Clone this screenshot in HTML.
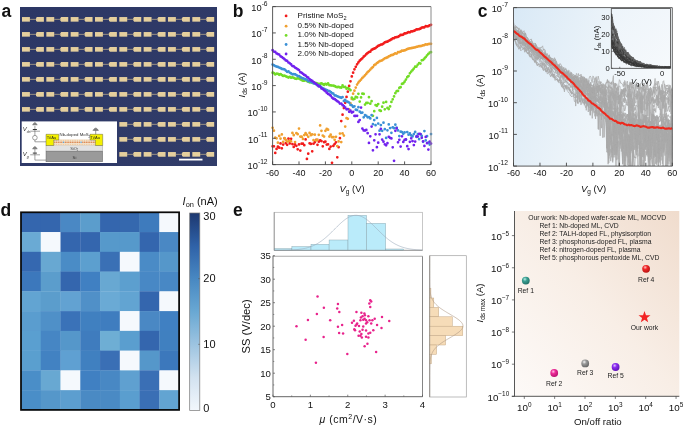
<!DOCTYPE html>
<html><head><meta charset="utf-8"><style>
html,body{margin:0;padding:0;background:#fff;width:685px;height:427px;overflow:hidden}
svg{display:block;font-family:"Liberation Sans", sans-serif;will-change:transform}
</style></head><body>
<svg width="685" height="427" viewBox="0 0 685 427" font-family='"Liberation Sans", sans-serif' fill="#111">
<rect width="685" height="427" fill="#fff"/>
<text x="1.5" y="16.5" font-size="17.5" font-weight="bold">a</text>
<defs><linearGradient id="ga" x1="0" y1="0" x2="1" y2="1"><stop offset="0" stop-color="#2c3765"/><stop offset="1" stop-color="#313c69"/></linearGradient></defs>
<rect x="20" y="7" width="197" height="159" fill="url(#ga)"/>
<line x1="29.9" y1="19.35" x2="36" y2="19.35" stroke="#c9b68c" stroke-width="0.7"/>
<rect x="22" y="17.05" width="7.9" height="4.6" fill="#e5cf9d"/>
<path d="M36.8 17.05H43.9V21.65H36.8L36 20.35V18.35Z" fill="#e5cf9d"/>
<line x1="54.23" y1="19.35" x2="60.33" y2="19.35" stroke="#c9b68c" stroke-width="0.7"/>
<rect x="46.33" y="17.05" width="7.9" height="4.6" fill="#e5cf9d"/>
<path d="M61.13 17.05H68.23V21.65H61.13L60.33 20.35V18.35Z" fill="#e5cf9d"/>
<line x1="78.56" y1="19.35" x2="84.66" y2="19.35" stroke="#c9b68c" stroke-width="0.7"/>
<rect x="70.66" y="17.05" width="7.9" height="4.6" fill="#e5cf9d"/>
<path d="M85.46 17.05H92.56V21.65H85.46L84.66 20.35V18.35Z" fill="#e5cf9d"/>
<line x1="102.89" y1="19.35" x2="108.99" y2="19.35" stroke="#c9b68c" stroke-width="0.7"/>
<rect x="94.99" y="17.05" width="7.9" height="4.6" fill="#e5cf9d"/>
<path d="M109.79 17.05H116.89V21.65H109.79L108.99 20.35V18.35Z" fill="#e5cf9d"/>
<line x1="127.22" y1="19.35" x2="133.32" y2="19.35" stroke="#c9b68c" stroke-width="0.7"/>
<rect x="119.32" y="17.05" width="7.9" height="4.6" fill="#e5cf9d"/>
<path d="M134.12 17.05H141.22V21.65H134.12L133.32 20.35V18.35Z" fill="#e5cf9d"/>
<line x1="151.55" y1="19.35" x2="157.65" y2="19.35" stroke="#c9b68c" stroke-width="0.7"/>
<rect x="143.65" y="17.05" width="7.9" height="4.6" fill="#e5cf9d"/>
<path d="M158.45 17.05H165.55V21.65H158.45L157.65 20.35V18.35Z" fill="#e5cf9d"/>
<line x1="175.88" y1="19.35" x2="181.98" y2="19.35" stroke="#c9b68c" stroke-width="0.7"/>
<rect x="167.98" y="17.05" width="7.9" height="4.6" fill="#e5cf9d"/>
<path d="M182.78 17.05H189.88V21.65H182.78L181.98 20.35V18.35Z" fill="#e5cf9d"/>
<line x1="200.21" y1="19.35" x2="206.31" y2="19.35" stroke="#c9b68c" stroke-width="0.7"/>
<rect x="192.31" y="17.05" width="7.9" height="4.6" fill="#e5cf9d"/>
<path d="M207.11 17.05H214.21V21.65H207.11L206.31 20.35V18.35Z" fill="#e5cf9d"/>
<line x1="29.9" y1="34.35" x2="36" y2="34.35" stroke="#c9b68c" stroke-width="0.7"/>
<rect x="22" y="32.05" width="7.9" height="4.6" fill="#e5cf9d"/>
<path d="M36.8 32.05H43.9V36.65H36.8L36 35.35V33.35Z" fill="#e5cf9d"/>
<line x1="54.23" y1="34.35" x2="60.33" y2="34.35" stroke="#c9b68c" stroke-width="0.7"/>
<rect x="46.33" y="32.05" width="7.9" height="4.6" fill="#e5cf9d"/>
<path d="M61.13 32.05H68.23V36.65H61.13L60.33 35.35V33.35Z" fill="#e5cf9d"/>
<line x1="78.56" y1="34.35" x2="84.66" y2="34.35" stroke="#c9b68c" stroke-width="0.7"/>
<rect x="70.66" y="32.05" width="7.9" height="4.6" fill="#e5cf9d"/>
<path d="M85.46 32.05H92.56V36.65H85.46L84.66 35.35V33.35Z" fill="#e5cf9d"/>
<line x1="102.89" y1="34.35" x2="108.99" y2="34.35" stroke="#c9b68c" stroke-width="0.7"/>
<rect x="94.99" y="32.05" width="7.9" height="4.6" fill="#e5cf9d"/>
<path d="M109.79 32.05H116.89V36.65H109.79L108.99 35.35V33.35Z" fill="#e5cf9d"/>
<line x1="127.22" y1="34.35" x2="133.32" y2="34.35" stroke="#c9b68c" stroke-width="0.7"/>
<rect x="119.32" y="32.05" width="7.9" height="4.6" fill="#e5cf9d"/>
<path d="M134.12 32.05H141.22V36.65H134.12L133.32 35.35V33.35Z" fill="#e5cf9d"/>
<line x1="151.55" y1="34.35" x2="157.65" y2="34.35" stroke="#c9b68c" stroke-width="0.7"/>
<rect x="143.65" y="32.05" width="7.9" height="4.6" fill="#e5cf9d"/>
<path d="M158.45 32.05H165.55V36.65H158.45L157.65 35.35V33.35Z" fill="#e5cf9d"/>
<line x1="175.88" y1="34.35" x2="181.98" y2="34.35" stroke="#c9b68c" stroke-width="0.7"/>
<rect x="167.98" y="32.05" width="7.9" height="4.6" fill="#e5cf9d"/>
<path d="M182.78 32.05H189.88V36.65H182.78L181.98 35.35V33.35Z" fill="#e5cf9d"/>
<line x1="200.21" y1="34.35" x2="206.31" y2="34.35" stroke="#c9b68c" stroke-width="0.7"/>
<rect x="192.31" y="32.05" width="7.9" height="4.6" fill="#e5cf9d"/>
<path d="M207.11 32.05H214.21V36.65H207.11L206.31 35.35V33.35Z" fill="#e5cf9d"/>
<line x1="29.9" y1="49.35" x2="36" y2="49.35" stroke="#c9b68c" stroke-width="0.7"/>
<rect x="22" y="47.05" width="7.9" height="4.6" fill="#e5cf9d"/>
<path d="M36.8 47.05H43.9V51.65H36.8L36 50.35V48.35Z" fill="#e5cf9d"/>
<line x1="54.23" y1="49.35" x2="60.33" y2="49.35" stroke="#c9b68c" stroke-width="0.7"/>
<rect x="46.33" y="47.05" width="7.9" height="4.6" fill="#e5cf9d"/>
<path d="M61.13 47.05H68.23V51.65H61.13L60.33 50.35V48.35Z" fill="#e5cf9d"/>
<line x1="78.56" y1="49.35" x2="84.66" y2="49.35" stroke="#c9b68c" stroke-width="0.7"/>
<rect x="70.66" y="47.05" width="7.9" height="4.6" fill="#e5cf9d"/>
<path d="M85.46 47.05H92.56V51.65H85.46L84.66 50.35V48.35Z" fill="#e5cf9d"/>
<line x1="102.89" y1="49.35" x2="108.99" y2="49.35" stroke="#c9b68c" stroke-width="0.7"/>
<rect x="94.99" y="47.05" width="7.9" height="4.6" fill="#e5cf9d"/>
<path d="M109.79 47.05H116.89V51.65H109.79L108.99 50.35V48.35Z" fill="#e5cf9d"/>
<line x1="127.22" y1="49.35" x2="133.32" y2="49.35" stroke="#c9b68c" stroke-width="0.7"/>
<rect x="119.32" y="47.05" width="7.9" height="4.6" fill="#e5cf9d"/>
<path d="M134.12 47.05H141.22V51.65H134.12L133.32 50.35V48.35Z" fill="#e5cf9d"/>
<line x1="151.55" y1="49.35" x2="157.65" y2="49.35" stroke="#c9b68c" stroke-width="0.7"/>
<rect x="143.65" y="47.05" width="7.9" height="4.6" fill="#e5cf9d"/>
<path d="M158.45 47.05H165.55V51.65H158.45L157.65 50.35V48.35Z" fill="#e5cf9d"/>
<line x1="175.88" y1="49.35" x2="181.98" y2="49.35" stroke="#c9b68c" stroke-width="0.7"/>
<rect x="167.98" y="47.05" width="7.9" height="4.6" fill="#e5cf9d"/>
<path d="M182.78 47.05H189.88V51.65H182.78L181.98 50.35V48.35Z" fill="#e5cf9d"/>
<line x1="200.21" y1="49.35" x2="206.31" y2="49.35" stroke="#c9b68c" stroke-width="0.7"/>
<rect x="192.31" y="47.05" width="7.9" height="4.6" fill="#e5cf9d"/>
<path d="M207.11 47.05H214.21V51.65H207.11L206.31 50.35V48.35Z" fill="#e5cf9d"/>
<line x1="29.9" y1="64.35" x2="36" y2="64.35" stroke="#c9b68c" stroke-width="0.7"/>
<rect x="22" y="62.05" width="7.9" height="4.6" fill="#e5cf9d"/>
<path d="M36.8 62.05H43.9V66.65H36.8L36 65.35V63.35Z" fill="#e5cf9d"/>
<line x1="54.23" y1="64.35" x2="60.33" y2="64.35" stroke="#c9b68c" stroke-width="0.7"/>
<rect x="46.33" y="62.05" width="7.9" height="4.6" fill="#e5cf9d"/>
<path d="M61.13 62.05H68.23V66.65H61.13L60.33 65.35V63.35Z" fill="#e5cf9d"/>
<line x1="78.56" y1="64.35" x2="84.66" y2="64.35" stroke="#c9b68c" stroke-width="0.7"/>
<rect x="70.66" y="62.05" width="7.9" height="4.6" fill="#e5cf9d"/>
<path d="M85.46 62.05H92.56V66.65H85.46L84.66 65.35V63.35Z" fill="#e5cf9d"/>
<line x1="102.89" y1="64.35" x2="108.99" y2="64.35" stroke="#c9b68c" stroke-width="0.7"/>
<rect x="94.99" y="62.05" width="7.9" height="4.6" fill="#e5cf9d"/>
<path d="M109.79 62.05H116.89V66.65H109.79L108.99 65.35V63.35Z" fill="#e5cf9d"/>
<line x1="127.22" y1="64.35" x2="133.32" y2="64.35" stroke="#c9b68c" stroke-width="0.7"/>
<rect x="119.32" y="62.05" width="7.9" height="4.6" fill="#e5cf9d"/>
<path d="M134.12 62.05H141.22V66.65H134.12L133.32 65.35V63.35Z" fill="#e5cf9d"/>
<line x1="151.55" y1="64.35" x2="157.65" y2="64.35" stroke="#c9b68c" stroke-width="0.7"/>
<rect x="143.65" y="62.05" width="7.9" height="4.6" fill="#e5cf9d"/>
<path d="M158.45 62.05H165.55V66.65H158.45L157.65 65.35V63.35Z" fill="#e5cf9d"/>
<line x1="175.88" y1="64.35" x2="181.98" y2="64.35" stroke="#c9b68c" stroke-width="0.7"/>
<rect x="167.98" y="62.05" width="7.9" height="4.6" fill="#e5cf9d"/>
<path d="M182.78 62.05H189.88V66.65H182.78L181.98 65.35V63.35Z" fill="#e5cf9d"/>
<line x1="200.21" y1="64.35" x2="206.31" y2="64.35" stroke="#c9b68c" stroke-width="0.7"/>
<rect x="192.31" y="62.05" width="7.9" height="4.6" fill="#e5cf9d"/>
<path d="M207.11 62.05H214.21V66.65H207.11L206.31 65.35V63.35Z" fill="#e5cf9d"/>
<line x1="29.9" y1="79.35" x2="36" y2="79.35" stroke="#c9b68c" stroke-width="0.7"/>
<rect x="22" y="77.05" width="7.9" height="4.6" fill="#e5cf9d"/>
<path d="M36.8 77.05H43.9V81.65H36.8L36 80.35V78.35Z" fill="#e5cf9d"/>
<line x1="54.23" y1="79.35" x2="60.33" y2="79.35" stroke="#c9b68c" stroke-width="0.7"/>
<rect x="46.33" y="77.05" width="7.9" height="4.6" fill="#e5cf9d"/>
<path d="M61.13 77.05H68.23V81.65H61.13L60.33 80.35V78.35Z" fill="#e5cf9d"/>
<line x1="78.56" y1="79.35" x2="84.66" y2="79.35" stroke="#c9b68c" stroke-width="0.7"/>
<rect x="70.66" y="77.05" width="7.9" height="4.6" fill="#e5cf9d"/>
<path d="M85.46 77.05H92.56V81.65H85.46L84.66 80.35V78.35Z" fill="#e5cf9d"/>
<line x1="102.89" y1="79.35" x2="108.99" y2="79.35" stroke="#c9b68c" stroke-width="0.7"/>
<rect x="94.99" y="77.05" width="7.9" height="4.6" fill="#e5cf9d"/>
<path d="M109.79 77.05H116.89V81.65H109.79L108.99 80.35V78.35Z" fill="#e5cf9d"/>
<line x1="127.22" y1="79.35" x2="133.32" y2="79.35" stroke="#c9b68c" stroke-width="0.7"/>
<rect x="119.32" y="77.05" width="7.9" height="4.6" fill="#e5cf9d"/>
<path d="M134.12 77.05H141.22V81.65H134.12L133.32 80.35V78.35Z" fill="#e5cf9d"/>
<line x1="151.55" y1="79.35" x2="157.65" y2="79.35" stroke="#c9b68c" stroke-width="0.7"/>
<rect x="143.65" y="77.05" width="7.9" height="4.6" fill="#e5cf9d"/>
<path d="M158.45 77.05H165.55V81.65H158.45L157.65 80.35V78.35Z" fill="#e5cf9d"/>
<line x1="175.88" y1="79.35" x2="181.98" y2="79.35" stroke="#c9b68c" stroke-width="0.7"/>
<rect x="167.98" y="77.05" width="7.9" height="4.6" fill="#e5cf9d"/>
<path d="M182.78 77.05H189.88V81.65H182.78L181.98 80.35V78.35Z" fill="#e5cf9d"/>
<line x1="200.21" y1="79.35" x2="206.31" y2="79.35" stroke="#c9b68c" stroke-width="0.7"/>
<rect x="192.31" y="77.05" width="7.9" height="4.6" fill="#e5cf9d"/>
<path d="M207.11 77.05H214.21V81.65H207.11L206.31 80.35V78.35Z" fill="#e5cf9d"/>
<line x1="29.9" y1="94.35" x2="36" y2="94.35" stroke="#c9b68c" stroke-width="0.7"/>
<rect x="22" y="92.05" width="7.9" height="4.6" fill="#e5cf9d"/>
<path d="M36.8 92.05H43.9V96.65H36.8L36 95.35V93.35Z" fill="#e5cf9d"/>
<line x1="54.23" y1="94.35" x2="60.33" y2="94.35" stroke="#c9b68c" stroke-width="0.7"/>
<rect x="46.33" y="92.05" width="7.9" height="4.6" fill="#e5cf9d"/>
<path d="M61.13 92.05H68.23V96.65H61.13L60.33 95.35V93.35Z" fill="#e5cf9d"/>
<line x1="78.56" y1="94.35" x2="84.66" y2="94.35" stroke="#c9b68c" stroke-width="0.7"/>
<rect x="70.66" y="92.05" width="7.9" height="4.6" fill="#e5cf9d"/>
<path d="M85.46 92.05H92.56V96.65H85.46L84.66 95.35V93.35Z" fill="#e5cf9d"/>
<line x1="102.89" y1="94.35" x2="108.99" y2="94.35" stroke="#c9b68c" stroke-width="0.7"/>
<rect x="94.99" y="92.05" width="7.9" height="4.6" fill="#e5cf9d"/>
<path d="M109.79 92.05H116.89V96.65H109.79L108.99 95.35V93.35Z" fill="#e5cf9d"/>
<line x1="127.22" y1="94.35" x2="133.32" y2="94.35" stroke="#c9b68c" stroke-width="0.7"/>
<rect x="119.32" y="92.05" width="7.9" height="4.6" fill="#e5cf9d"/>
<path d="M134.12 92.05H141.22V96.65H134.12L133.32 95.35V93.35Z" fill="#e5cf9d"/>
<line x1="151.55" y1="94.35" x2="157.65" y2="94.35" stroke="#c9b68c" stroke-width="0.7"/>
<rect x="143.65" y="92.05" width="7.9" height="4.6" fill="#e5cf9d"/>
<path d="M158.45 92.05H165.55V96.65H158.45L157.65 95.35V93.35Z" fill="#e5cf9d"/>
<line x1="175.88" y1="94.35" x2="181.98" y2="94.35" stroke="#c9b68c" stroke-width="0.7"/>
<rect x="167.98" y="92.05" width="7.9" height="4.6" fill="#e5cf9d"/>
<path d="M182.78 92.05H189.88V96.65H182.78L181.98 95.35V93.35Z" fill="#e5cf9d"/>
<line x1="200.21" y1="94.35" x2="206.31" y2="94.35" stroke="#c9b68c" stroke-width="0.7"/>
<rect x="192.31" y="92.05" width="7.9" height="4.6" fill="#e5cf9d"/>
<path d="M207.11 92.05H214.21V96.65H207.11L206.31 95.35V93.35Z" fill="#e5cf9d"/>
<line x1="29.9" y1="109.35" x2="36" y2="109.35" stroke="#c9b68c" stroke-width="0.7"/>
<rect x="22" y="107.05" width="7.9" height="4.6" fill="#e5cf9d"/>
<path d="M36.8 107.05H43.9V111.65H36.8L36 110.35V108.35Z" fill="#e5cf9d"/>
<line x1="54.23" y1="109.35" x2="60.33" y2="109.35" stroke="#c9b68c" stroke-width="0.7"/>
<rect x="46.33" y="107.05" width="7.9" height="4.6" fill="#e5cf9d"/>
<path d="M61.13 107.05H68.23V111.65H61.13L60.33 110.35V108.35Z" fill="#e5cf9d"/>
<line x1="78.56" y1="109.35" x2="84.66" y2="109.35" stroke="#c9b68c" stroke-width="0.7"/>
<rect x="70.66" y="107.05" width="7.9" height="4.6" fill="#e5cf9d"/>
<path d="M85.46 107.05H92.56V111.65H85.46L84.66 110.35V108.35Z" fill="#e5cf9d"/>
<line x1="102.89" y1="109.35" x2="108.99" y2="109.35" stroke="#c9b68c" stroke-width="0.7"/>
<rect x="94.99" y="107.05" width="7.9" height="4.6" fill="#e5cf9d"/>
<path d="M109.79 107.05H116.89V111.65H109.79L108.99 110.35V108.35Z" fill="#e5cf9d"/>
<line x1="127.22" y1="109.35" x2="133.32" y2="109.35" stroke="#c9b68c" stroke-width="0.7"/>
<rect x="119.32" y="107.05" width="7.9" height="4.6" fill="#e5cf9d"/>
<path d="M134.12 107.05H141.22V111.65H134.12L133.32 110.35V108.35Z" fill="#e5cf9d"/>
<line x1="151.55" y1="109.35" x2="157.65" y2="109.35" stroke="#c9b68c" stroke-width="0.7"/>
<rect x="143.65" y="107.05" width="7.9" height="4.6" fill="#e5cf9d"/>
<path d="M158.45 107.05H165.55V111.65H158.45L157.65 110.35V108.35Z" fill="#e5cf9d"/>
<line x1="175.88" y1="109.35" x2="181.98" y2="109.35" stroke="#c9b68c" stroke-width="0.7"/>
<rect x="167.98" y="107.05" width="7.9" height="4.6" fill="#e5cf9d"/>
<path d="M182.78 107.05H189.88V111.65H182.78L181.98 110.35V108.35Z" fill="#e5cf9d"/>
<line x1="200.21" y1="109.35" x2="206.31" y2="109.35" stroke="#c9b68c" stroke-width="0.7"/>
<rect x="192.31" y="107.05" width="7.9" height="4.6" fill="#e5cf9d"/>
<path d="M207.11 107.05H214.21V111.65H207.11L206.31 110.35V108.35Z" fill="#e5cf9d"/>
<line x1="127.22" y1="124.35" x2="133.32" y2="124.35" stroke="#c9b68c" stroke-width="0.7"/>
<rect x="119.32" y="122.05" width="7.9" height="4.6" fill="#e5cf9d"/>
<path d="M134.12 122.05H141.22V126.65H134.12L133.32 125.35V123.35Z" fill="#e5cf9d"/>
<line x1="151.55" y1="124.35" x2="157.65" y2="124.35" stroke="#c9b68c" stroke-width="0.7"/>
<rect x="143.65" y="122.05" width="7.9" height="4.6" fill="#e5cf9d"/>
<path d="M158.45 122.05H165.55V126.65H158.45L157.65 125.35V123.35Z" fill="#e5cf9d"/>
<line x1="175.88" y1="124.35" x2="181.98" y2="124.35" stroke="#c9b68c" stroke-width="0.7"/>
<rect x="167.98" y="122.05" width="7.9" height="4.6" fill="#e5cf9d"/>
<path d="M182.78 122.05H189.88V126.65H182.78L181.98 125.35V123.35Z" fill="#e5cf9d"/>
<line x1="200.21" y1="124.35" x2="206.31" y2="124.35" stroke="#c9b68c" stroke-width="0.7"/>
<rect x="192.31" y="122.05" width="7.9" height="4.6" fill="#e5cf9d"/>
<path d="M207.11 122.05H214.21V126.65H207.11L206.31 125.35V123.35Z" fill="#e5cf9d"/>
<line x1="127.22" y1="139.35" x2="133.32" y2="139.35" stroke="#c9b68c" stroke-width="0.7"/>
<rect x="119.32" y="137.05" width="7.9" height="4.6" fill="#e5cf9d"/>
<path d="M134.12 137.05H141.22V141.65H134.12L133.32 140.35V138.35Z" fill="#e5cf9d"/>
<line x1="151.55" y1="139.35" x2="157.65" y2="139.35" stroke="#c9b68c" stroke-width="0.7"/>
<rect x="143.65" y="137.05" width="7.9" height="4.6" fill="#e5cf9d"/>
<path d="M158.45 137.05H165.55V141.65H158.45L157.65 140.35V138.35Z" fill="#e5cf9d"/>
<line x1="175.88" y1="139.35" x2="181.98" y2="139.35" stroke="#c9b68c" stroke-width="0.7"/>
<rect x="167.98" y="137.05" width="7.9" height="4.6" fill="#e5cf9d"/>
<path d="M182.78 137.05H189.88V141.65H182.78L181.98 140.35V138.35Z" fill="#e5cf9d"/>
<line x1="200.21" y1="139.35" x2="206.31" y2="139.35" stroke="#c9b68c" stroke-width="0.7"/>
<rect x="192.31" y="137.05" width="7.9" height="4.6" fill="#e5cf9d"/>
<path d="M207.11 137.05H214.21V141.65H207.11L206.31 140.35V138.35Z" fill="#e5cf9d"/>
<line x1="127.22" y1="154.35" x2="133.32" y2="154.35" stroke="#c9b68c" stroke-width="0.7"/>
<rect x="119.32" y="152.05" width="7.9" height="4.6" fill="#e5cf9d"/>
<path d="M134.12 152.05H141.22V156.65H134.12L133.32 155.35V153.35Z" fill="#e5cf9d"/>
<line x1="151.55" y1="154.35" x2="157.65" y2="154.35" stroke="#c9b68c" stroke-width="0.7"/>
<rect x="143.65" y="152.05" width="7.9" height="4.6" fill="#e5cf9d"/>
<path d="M158.45 152.05H165.55V156.65H158.45L157.65 155.35V153.35Z" fill="#e5cf9d"/>
<line x1="175.88" y1="154.35" x2="181.98" y2="154.35" stroke="#c9b68c" stroke-width="0.7"/>
<rect x="167.98" y="152.05" width="7.9" height="4.6" fill="#e5cf9d"/>
<path d="M182.78 152.05H189.88V156.65H182.78L181.98 155.35V153.35Z" fill="#e5cf9d"/>
<line x1="200.21" y1="154.35" x2="206.31" y2="154.35" stroke="#c9b68c" stroke-width="0.7"/>
<rect x="192.31" y="152.05" width="7.9" height="4.6" fill="#e5cf9d"/>
<path d="M207.11 152.05H214.21V156.65H207.11L206.31 155.35V153.35Z" fill="#e5cf9d"/>
<rect x="21.7" y="121.4" width="95.3" height="41.6" fill="#ffffff"/>
<rect x="46" y="151" width="56.7" height="10.8" fill="#9a9a9a" stroke="#555" stroke-width="0.4"/>
<rect x="46" y="145.5" width="56.7" height="5.5" fill="#e2e2e2" stroke="#777" stroke-width="0.3"/>
<rect x="53.7" y="139.3" width="41.7" height="6.2" fill="#f3e2cc"/>
<circle cx="54.8" cy="142.2" r="0.75" fill="#d9824a"/>
<circle cx="54.8" cy="140.2" r="0.45" fill="#e8b070"/>
<circle cx="54.8" cy="144.3" r="0.45" fill="#e8b070"/>
<circle cx="56.55" cy="142.2" r="0.75" fill="#d9824a"/>
<circle cx="56.55" cy="140.2" r="0.45" fill="#e8b070"/>
<circle cx="56.55" cy="144.3" r="0.45" fill="#e8b070"/>
<circle cx="58.3" cy="142.2" r="0.75" fill="#d9824a"/>
<circle cx="58.3" cy="140.2" r="0.45" fill="#e8b070"/>
<circle cx="58.3" cy="144.3" r="0.45" fill="#e8b070"/>
<circle cx="60.05" cy="142.2" r="0.75" fill="#d9824a"/>
<circle cx="60.05" cy="140.2" r="0.45" fill="#e8b070"/>
<circle cx="60.05" cy="144.3" r="0.45" fill="#e8b070"/>
<circle cx="61.8" cy="142.2" r="0.75" fill="#d9824a"/>
<circle cx="61.8" cy="140.2" r="0.45" fill="#e8b070"/>
<circle cx="61.8" cy="144.3" r="0.45" fill="#e8b070"/>
<circle cx="63.55" cy="142.2" r="0.75" fill="#4aa0e0"/>
<circle cx="63.55" cy="140.2" r="0.45" fill="#e8b070"/>
<circle cx="63.55" cy="144.3" r="0.45" fill="#e8b070"/>
<circle cx="65.3" cy="142.2" r="0.75" fill="#d9824a"/>
<circle cx="65.3" cy="140.2" r="0.45" fill="#e8b070"/>
<circle cx="65.3" cy="144.3" r="0.45" fill="#e8b070"/>
<circle cx="67.05" cy="142.2" r="0.75" fill="#d9824a"/>
<circle cx="67.05" cy="140.2" r="0.45" fill="#e8b070"/>
<circle cx="67.05" cy="144.3" r="0.45" fill="#e8b070"/>
<circle cx="68.8" cy="142.2" r="0.75" fill="#d9824a"/>
<circle cx="68.8" cy="140.2" r="0.45" fill="#e8b070"/>
<circle cx="68.8" cy="144.3" r="0.45" fill="#e8b070"/>
<circle cx="70.55" cy="142.2" r="0.75" fill="#d9824a"/>
<circle cx="70.55" cy="140.2" r="0.45" fill="#e8b070"/>
<circle cx="70.55" cy="144.3" r="0.45" fill="#e8b070"/>
<circle cx="72.3" cy="142.2" r="0.75" fill="#d9824a"/>
<circle cx="72.3" cy="140.2" r="0.45" fill="#e8b070"/>
<circle cx="72.3" cy="144.3" r="0.45" fill="#e8b070"/>
<circle cx="74.05" cy="142.2" r="0.75" fill="#d9824a"/>
<circle cx="74.05" cy="140.2" r="0.45" fill="#e8b070"/>
<circle cx="74.05" cy="144.3" r="0.45" fill="#e8b070"/>
<circle cx="75.8" cy="142.2" r="0.75" fill="#d9824a"/>
<circle cx="75.8" cy="140.2" r="0.45" fill="#e8b070"/>
<circle cx="75.8" cy="144.3" r="0.45" fill="#e8b070"/>
<circle cx="77.55" cy="142.2" r="0.75" fill="#d9824a"/>
<circle cx="77.55" cy="140.2" r="0.45" fill="#e8b070"/>
<circle cx="77.55" cy="144.3" r="0.45" fill="#e8b070"/>
<circle cx="79.3" cy="142.2" r="0.75" fill="#d9824a"/>
<circle cx="79.3" cy="140.2" r="0.45" fill="#e8b070"/>
<circle cx="79.3" cy="144.3" r="0.45" fill="#e8b070"/>
<circle cx="81.05" cy="142.2" r="0.75" fill="#4aa0e0"/>
<circle cx="81.05" cy="140.2" r="0.45" fill="#e8b070"/>
<circle cx="81.05" cy="144.3" r="0.45" fill="#e8b070"/>
<circle cx="82.8" cy="142.2" r="0.75" fill="#d9824a"/>
<circle cx="82.8" cy="140.2" r="0.45" fill="#e8b070"/>
<circle cx="82.8" cy="144.3" r="0.45" fill="#e8b070"/>
<circle cx="84.55" cy="142.2" r="0.75" fill="#d9824a"/>
<circle cx="84.55" cy="140.2" r="0.45" fill="#e8b070"/>
<circle cx="84.55" cy="144.3" r="0.45" fill="#e8b070"/>
<circle cx="86.3" cy="142.2" r="0.75" fill="#d9824a"/>
<circle cx="86.3" cy="140.2" r="0.45" fill="#e8b070"/>
<circle cx="86.3" cy="144.3" r="0.45" fill="#e8b070"/>
<circle cx="88.05" cy="142.2" r="0.75" fill="#d9824a"/>
<circle cx="88.05" cy="140.2" r="0.45" fill="#e8b070"/>
<circle cx="88.05" cy="144.3" r="0.45" fill="#e8b070"/>
<circle cx="89.8" cy="142.2" r="0.75" fill="#d9824a"/>
<circle cx="89.8" cy="140.2" r="0.45" fill="#e8b070"/>
<circle cx="89.8" cy="144.3" r="0.45" fill="#e8b070"/>
<circle cx="91.55" cy="142.2" r="0.75" fill="#d9824a"/>
<circle cx="91.55" cy="140.2" r="0.45" fill="#e8b070"/>
<circle cx="91.55" cy="144.3" r="0.45" fill="#e8b070"/>
<circle cx="93.3" cy="142.2" r="0.75" fill="#d9824a"/>
<circle cx="93.3" cy="140.2" r="0.45" fill="#e8b070"/>
<circle cx="93.3" cy="144.3" r="0.45" fill="#e8b070"/>
<circle cx="95.05" cy="142.2" r="0.75" fill="#d9824a"/>
<circle cx="95.05" cy="140.2" r="0.45" fill="#e8b070"/>
<circle cx="95.05" cy="144.3" r="0.45" fill="#e8b070"/>
<path d="M46 134.3H58.8V140H53.7V145.5H46Z" fill="#f4f000" stroke="#444" stroke-width="0.4"/>
<path d="M90 134.3H102.7V145.5H95.4V140H90Z" fill="#f4f000" stroke="#444" stroke-width="0.4"/>
<text x="46.8" y="138.6" font-size="4.1" fill="#222">Ti/Au</text>
<text x="90.6" y="138.6" font-size="4.1" fill="#222">Ti/Au</text>
<text x="59.6" y="136.4" font-size="4.3" fill="#333">Nb-doped MoS<tspan font-size="2.8" dy="1.1">2</tspan></text>
<text x="70.2" y="149.9" font-size="4" fill="#444">SiO<tspan font-size="2.6" dy="1.1">2</tspan></text>
<text x="72.6" y="158.6" font-size="4.2" fill="#333">Si</text>
<path d="M34.9 126V141.8H46M34.9 149V160.1H46" stroke="#555" stroke-width="0.55" fill="none"/>
<path d="M32.4 124.8H37.4" stroke="#555" stroke-width="0.6"/>
<path d="M32.9 124.5Q34.9 120.6 36.9 124.5Z" fill="#888" stroke="#555" stroke-width="0.4"/>
<path d="M32.4 148.8H37.4" stroke="#555" stroke-width="0.6"/>
<path d="M32.9 148.5Q34.9 144.6 36.9 148.5Z" fill="#888" stroke="#555" stroke-width="0.4"/>
<path d="M32.8 129.5H36.9" stroke="#333" stroke-width="1.0"/>
<path d="M30.2 131.2H40" stroke="#555" stroke-width="0.55"/>
<path d="M32.8 153.1H36.9" stroke="#333" stroke-width="1.0"/>
<path d="M30.2 154.8H40" stroke="#555" stroke-width="0.55"/>
<circle cx="34.9" cy="137.7" r="2.3" fill="#fff" stroke="#555" stroke-width="0.55"/>
<path d="M95.7 130.4V134.3M92.7 130.4H98.7" stroke="#555" stroke-width="0.6"/>
<path d="M93.3 130.1Q95.7 125.8 98.1 130.1Z" fill="#888" stroke="#555" stroke-width="0.4"/>
<text x="22.8" y="131.4" font-size="6" font-style="italic" fill="#333">V<tspan font-size="3.6" dy="1.3">ds</tspan></text>
<text x="22.8" y="156.4" font-size="6" font-style="italic" fill="#333">V<tspan font-size="3.6" dy="1.3">g</tspan></text>
<rect x="179" y="158.7" width="23.5" height="1.8" fill="#ffffff"/>
<text x="232.8" y="16.8" font-size="17.5" font-weight="bold">b</text>
<g>
<path d="M272.6 146.33h0M273.92 146.25h0M275.24 152.91h0M276.56 148.88h0M277.88 146.56h0M279.2 147.64h0M280.52 143.47h0M281.84 148.29h0M283.16 144.51h0M284.48 138.34h0M285.8 143.16h0M287.12 144.77h0M288.44 138.73h0M289.76 143.48h0M291.08 138.75h0M292.4 144.06h0M293.72 146.99h0M295.04 144.4h0M296.36 145.78h0M297.68 149.29h0M299 144.45h0M300.32 150.61h0M301.64 143.69h0M302.96 143.65h0M304.28 145.14h0M305.6 139.46h0M306.92 158.93h0M308.24 153.63h0M309.56 143.28h0M310.88 143.91h0M312.2 151.35h0M313.52 143.68h0M314.84 142.22h0M316.16 139.78h0M317.48 144.77h0M318.8 141.69h0M320.12 140.47h0M321.44 141.06h0M322.76 146.34h0M324.08 142.23h0M325.4 141.65h0M326.72 144.6h0M328.04 144.32h0M329.36 148.99h0M330.68 146.52h0M332 162.75h0M333.32 145.9h0M334.64 144.04h0M335.96 142.33h0M337.28 157.26h0M338.6 147.24h0M339.92 138.22h0M341.24 121.09h0M342.56 114.66h0M343.88 108.04h0M345.2 102.83h0M346.52 96.91h0M347.84 91.66h0M349.16 85.95h0M350.48 81.25h0M351.8 76.41h0M353.12 72.63h0M354.44 69.34h0M355.76 66.77h0M357.08 64.3h0M358.4 62.43h0M359.72 60.71h0M361.04 59.48h0M362.36 58.29h0M363.68 56.67h0M365 55.62h0M366.32 54.17h0M367.64 53.04h0M368.96 52.02h0M370.28 51.69h0M371.6 49.94h0M372.92 49.24h0M374.24 48.74h0M375.56 48h0M376.88 46.96h0M378.2 45.96h0M379.52 45.33h0M380.84 44.65h0M382.16 44.46h0M383.48 43.6h0M384.8 42.39h0M386.12 41.94h0M387.44 41.63h0M388.76 40.81h0M390.08 40.24h0M391.4 39.47h0M392.72 38.45h0M394.04 38.19h0M395.36 37.36h0M396.68 37h0M398 36.81h0M399.32 36.07h0M400.64 34.89h0M401.96 34.99h0M403.28 34.5h0M404.6 33.46h0M405.92 33.26h0M407.24 32.83h0M408.56 32.07h0M409.88 32.31h0M411.2 31.4h0M412.52 31.26h0M413.84 30.89h0M415.16 30.32h0M416.48 29.45h0M417.8 29.28h0M419.12 29.22h0M420.44 28.64h0M421.76 27.65h0M423.08 27.34h0M424.4 27.37h0M425.72 26.2h0M427.04 26.38h0M428.36 26.13h0M429.68 25.48h0M431 24.83h0" stroke="#f21c1c" stroke-width="2.75" stroke-linecap="round" fill="none"/>
<path d="M272.6 127.83h0M273.92 130.65h0M275.24 137.7h0M276.56 138.35h0M277.88 142.69h0M279.2 135.99h0M280.52 138.52h0M281.84 134.45h0M283.16 141.77h0M284.48 138.14h0M285.8 139.91h0M287.12 141.47h0M288.44 141.37h0M289.76 140.57h0M291.08 141.37h0M292.4 132.88h0M293.72 135.15h0M295.04 142.04h0M296.36 133.15h0M297.68 134.24h0M299 128.56h0M300.32 136.58h0M301.64 136.65h0M302.96 138.97h0M304.28 135.03h0M305.6 133.24h0M306.92 134.79h0M308.24 136.87h0M309.56 132.9h0M310.88 135.19h0M312.2 134.44h0M313.52 140.16h0M314.84 134.63h0M316.16 140.47h0M317.48 139.72h0M318.8 134.85h0M320.12 125.42h0M321.44 130.8h0M322.76 135.61h0M324.08 136.5h0M325.4 130.84h0M326.72 128.93h0M328.04 129.72h0M329.36 136.54h0M330.68 134.72h0M332 137.23h0M333.32 137.02h0M334.64 139.78h0M335.96 136.84h0M337.28 146.07h0M338.6 141.45h0M339.92 133.57h0M341.24 142.01h0M342.56 133.45h0M343.88 135.59h0M345.2 126.59h0M346.52 118.23h0M347.84 118.76h0M349.16 109.49h0M350.48 103.37h0M351.8 98.95h0M353.12 93.69h0M354.44 90.67h0M355.76 87.52h0M357.08 84.55h0M358.4 82.6h0M359.72 80.96h0M361.04 79.6h0M362.36 77.9h0M363.68 76.5h0M365 75.26h0M366.32 73.79h0M367.64 72.13h0M368.96 71.03h0M370.28 69.58h0M371.6 68.18h0M372.92 67.11h0M374.24 65.13h0M375.56 64.46h0M376.88 63.12h0M378.2 62.35h0M379.52 61.22h0M380.84 60.85h0M382.16 60.29h0M383.48 59.26h0M384.8 58.36h0M386.12 57.98h0M387.44 57.38h0M388.76 56.38h0M390.08 55.77h0M391.4 55.14h0M392.72 54.96h0M394.04 54.04h0M395.36 53.38h0M396.68 53.5h0M398 52.23h0M399.32 52.06h0M400.64 51.72h0M401.96 50.56h0M403.28 50.67h0M404.6 50.44h0M405.92 49.8h0M407.24 49.17h0M408.56 48.65h0M409.88 48.42h0M411.2 48.18h0M412.52 47.83h0M413.84 47.57h0M415.16 47.33h0M416.48 46.75h0M417.8 46.58h0M419.12 46.14h0M420.44 46.08h0M421.76 45.79h0M423.08 45.31h0M424.4 45.05h0M425.72 44.35h0M427.04 44.61h0M428.36 44.01h0M429.68 43.78h0M431 43.82h0" stroke="#f0a030" stroke-width="2.75" stroke-linecap="round" fill="none"/>
<path d="M272.6 72.67h0M273.92 73.21h0M275.24 74.44h0M276.56 73.67h0M277.88 73.85h0M279.2 74.86h0M280.52 74.17h0M281.84 75.11h0M283.16 75.95h0M284.48 75.58h0M285.8 76.27h0M287.12 76.98h0M288.44 77.62h0M289.76 76.97h0M291.08 77.68h0M292.4 77.44h0M293.72 77.86h0M295.04 78.54h0M296.36 78.86h0M297.68 78.25h0M299 78.59h0M300.32 79.3h0M301.64 80.06h0M302.96 80.63h0M304.28 80.71h0M305.6 80.21h0M306.92 81.01h0M308.24 81.63h0M309.56 82.33h0M310.88 82.09h0M312.2 82.83h0M313.52 82.79h0M314.84 82.82h0M316.16 83.01h0M317.48 83.7h0M318.8 84.03h0M320.12 83.93h0M321.44 83.43h0M322.76 84.13h0M324.08 84.98h0M325.4 83.92h0M326.72 84.58h0M328.04 83.41h0M329.36 85.23h0M330.68 85.31h0M332 85.62h0M333.32 85.58h0M334.64 86.19h0M335.96 86.79h0M337.28 87.2h0M338.6 86.77h0M339.92 87.4h0M341.24 87.72h0M342.56 85.46h0M343.88 86.96h0M345.2 86.95h0M346.52 88.7h0M347.84 88.22h0M349.16 88.96h0M350.48 90.14h0M351.8 97.55h0M353.12 99.27h0M354.44 98.91h0M355.76 96.79h0M357.08 97.47h0M358.4 93.75h0M359.72 101.52h0M361.04 97.48h0M362.36 93.63h0M363.68 93.94h0M365 104.52h0M366.32 102.94h0M367.64 102.88h0M368.96 97.23h0M370.28 103.69h0M371.6 101.16h0M372.92 115.8h0M374.24 111.24h0M375.56 105.07h0M376.88 105.85h0M378.2 104.09h0M379.52 110.27h0M380.84 110.94h0M382.16 106.67h0M383.48 102.66h0M384.8 109.31h0M386.12 101.95h0M387.44 107.93h0M388.76 109.11h0M390.08 106.47h0M391.4 101.95h0M392.72 99.25h0M394.04 96.46h0M395.36 93.22h0M396.68 91.19h0M398 90.99h0M399.32 87.95h0M400.64 87.18h0M401.96 83.98h0M403.28 83.47h0M404.6 81.72h0M405.92 79.58h0M407.24 77.22h0M408.56 76.12h0M409.88 73.32h0M411.2 71.53h0M412.52 70.16h0M413.84 68.59h0M415.16 66.68h0M416.48 66.54h0M417.8 64.53h0M419.12 63.24h0M420.44 63.53h0M421.76 60.27h0M423.08 59.88h0M424.4 58.52h0M425.72 57.04h0M427.04 55.34h0M428.36 53.9h0M429.68 52.51h0M431 52.18h0" stroke="#72dc26" stroke-width="2.75" stroke-linecap="round" fill="none"/>
<path d="M272.6 64.58h0M273.92 65.25h0M275.24 66.1h0M276.56 66.57h0M277.88 66.89h0M279.2 67.6h0M280.52 68.1h0M281.84 68.88h0M283.16 69.14h0M284.48 69.38h0M285.8 70.53h0M287.12 71.77h0M288.44 71.3h0M289.76 72.62h0M291.08 73.46h0M292.4 74.36h0M293.72 74.07h0M295.04 74.44h0M296.36 75.06h0M297.68 76.09h0M299 76.09h0M300.32 77.16h0M301.64 77.92h0M302.96 78.29h0M304.28 78.84h0M305.6 79.48h0M306.92 79.95h0M308.24 81.36h0M309.56 80.76h0M310.88 82.02h0M312.2 82.22h0M313.52 83.27h0M314.84 83.55h0M316.16 84.25h0M317.48 85.34h0M318.8 85.47h0M320.12 86.13h0M321.44 87.42h0M322.76 88.48h0M324.08 88.76h0M325.4 89.57h0M326.72 90.01h0M328.04 90.79h0M329.36 91.02h0M330.68 92.07h0M332 93.09h0M333.32 93.71h0M334.64 95.41h0M335.96 95.53h0M337.28 96.28h0M338.6 96.76h0M339.92 97.37h0M341.24 97.82h0M342.56 97.23h0M343.88 100.97h0M345.2 99.88h0M346.52 101.42h0M347.84 101.9h0M349.16 102.58h0M350.48 104.95h0M351.8 105.29h0M353.12 106.99h0M354.44 106.3h0M355.76 109.64h0M357.08 110.12h0M358.4 107.15h0M359.72 111.66h0M361.04 112.75h0M362.36 112.58h0M363.68 117.3h0M365 115.02h0M366.32 115.82h0M367.64 117.27h0M368.96 117.16h0M370.28 118.39h0M371.6 115.23h0M372.92 124.14h0M374.24 120.05h0M375.56 125.14h0M376.88 117.88h0M378.2 123.53h0M379.52 130.67h0M380.84 125.09h0M382.16 130.78h0M383.48 122.63h0M384.8 129.24h0M386.12 137.95h0M387.44 130.34h0M388.76 124.48h0M390.08 128.02h0M391.4 132.76h0M392.72 127.48h0M394.04 128.23h0M395.36 124.68h0M396.68 127.65h0M398 130.48h0M399.32 136.08h0M400.64 131.73h0M401.96 132.09h0M403.28 133.82h0M404.6 132.44h0M405.92 139.74h0M407.24 132.03h0M408.56 134.67h0M409.88 133.25h0M411.2 135.4h0M412.52 136.44h0M413.84 134.1h0M415.16 131.88h0M416.48 136.93h0M417.8 134.18h0M419.12 139.18h0M420.44 134.04h0M421.76 135.95h0M423.08 141.86h0M424.4 131.11h0M425.72 140.39h0M427.04 136.2h0M428.36 142.53h0M429.68 144.53h0M431 134.02h0" stroke="#3b90d6" stroke-width="2.75" stroke-linecap="round" fill="none"/>
<path d="M272.6 50.23h0M273.92 51.5h0M275.24 51.97h0M276.56 53.45h0M277.88 54.09h0M279.2 54.51h0M280.52 56.26h0M281.84 57.09h0M283.16 58.08h0M284.48 59.24h0M285.8 60.39h0M287.12 60.9h0M288.44 62.43h0M289.76 63.31h0M291.08 64.42h0M292.4 65.88h0M293.72 66.4h0M295.04 67.51h0M296.36 68.35h0M297.68 69.36h0M299 70.11h0M300.32 72.22h0M301.64 72.83h0M302.96 73.83h0M304.28 74.97h0M305.6 75.6h0M306.92 76.78h0M308.24 77.74h0M309.56 79.32h0M310.88 80.13h0M312.2 80.88h0M313.52 82.02h0M314.84 83.1h0M316.16 83.97h0M317.48 85.06h0M318.8 86.39h0M320.12 86.61h0M321.44 88.42h0M322.76 89.08h0M324.08 90.17h0M325.4 91.13h0M326.72 92.69h0M328.04 93.9h0M329.36 94.52h0M330.68 95.65h0M332 97.55h0M333.32 98.7h0M334.64 99.13h0M335.96 100.16h0M337.28 101.2h0M338.6 102.06h0M339.92 103.57h0M341.24 103.51h0M342.56 105.13h0M343.88 106.09h0M345.2 107.48h0M346.52 109.29h0M347.84 109.23h0M349.16 111.76h0M350.48 110.58h0M351.8 112.61h0M353.12 111.86h0M354.44 115.96h0M355.76 115.76h0M357.08 115.87h0M358.4 121.99h0M359.72 120.11h0M361.04 107.5h0M362.36 128.59h0M363.68 130.46h0M365 130.51h0M366.32 129.88h0M367.64 133.17h0M368.96 142.89h0M370.28 136.32h0M371.6 126.52h0M372.92 150.26h0M374.24 140.37h0M375.56 134.34h0M376.88 147.19h0M378.2 142.7h0M379.52 134.31h0M380.84 128.77h0M382.16 139.53h0M383.48 141.67h0M384.8 144.32h0M386.12 145.27h0M387.44 143.13h0M388.76 136.81h0M390.08 137.8h0M391.4 138.42h0M392.72 147.31h0M394.04 160.8h0M395.36 130.86h0M396.68 128.36h0M398 142.26h0M399.32 139.84h0M400.64 146.6h0M401.96 136.36h0M403.28 141.88h0M404.6 139.9h0M405.92 139.4h0M407.24 146.17h0M408.56 149.04h0M409.88 141.76h0M411.2 138.26h0M412.52 141.08h0M413.84 145.02h0M415.16 141.53h0M416.48 136.27h0M417.8 136.54h0M419.12 133.83h0M420.44 134.09h0M421.76 137.83h0M423.08 141.26h0M424.4 145.99h0M425.72 136.94h0M427.04 143.22h0M428.36 149.51h0M429.68 141.54h0M431 143.57h0" stroke="#7122ee" stroke-width="2.75" stroke-linecap="round" fill="none"/>
</g>
<path d="M272.6 6.6H431.0" stroke="#555" stroke-width="0.9" fill="none"/>
<path d="M431.0 6.6V164.6" stroke="#8a8a8a" stroke-width="1.0" fill="none"/>
<path d="M272.6 6.6V164.6H431.0" stroke="#4a4a4a" stroke-width="0.9" fill="none"/>
<path d="M272.6 6.6h3.2" stroke="#444" stroke-width="0.9"/>
<text x="267.6" y="11" font-size="9.3" text-anchor="end">10<tspan font-size="6.7" dy="-5.4">-6</tspan></text>
<path d="M272.6 32.93h3.2" stroke="#444" stroke-width="0.9"/>
<text x="267.6" y="37.33" font-size="9.3" text-anchor="end">10<tspan font-size="6.7" dy="-5.4">-7</tspan></text>
<path d="M272.6 59.27h3.2" stroke="#444" stroke-width="0.9"/>
<text x="267.6" y="63.67" font-size="9.3" text-anchor="end">10<tspan font-size="6.7" dy="-5.4">-8</tspan></text>
<path d="M272.6 85.6h3.2" stroke="#444" stroke-width="0.9"/>
<text x="267.6" y="90" font-size="9.3" text-anchor="end">10<tspan font-size="6.7" dy="-5.4">-9</tspan></text>
<path d="M272.6 111.93h3.2" stroke="#444" stroke-width="0.9"/>
<text x="267.6" y="116.33" font-size="9.3" text-anchor="end">10<tspan font-size="6.7" dy="-5.4">-10</tspan></text>
<path d="M272.6 138.27h3.2" stroke="#444" stroke-width="0.9"/>
<text x="267.6" y="142.67" font-size="9.3" text-anchor="end">10<tspan font-size="6.7" dy="-5.4">-11</tspan></text>
<path d="M272.6 164.6h3.2" stroke="#444" stroke-width="0.9"/>
<text x="267.6" y="169" font-size="9.3" text-anchor="end">10<tspan font-size="6.7" dy="-5.4">-12</tspan></text>
<path d="M272.6 164.6v-3.2" stroke="#444" stroke-width="0.9"/>
<text x="272.6" y="175.6" font-size="9" text-anchor="middle">-60</text>
<path d="M299 164.6v-3.2" stroke="#444" stroke-width="0.9"/>
<text x="299" y="175.6" font-size="9" text-anchor="middle">-40</text>
<path d="M325.4 164.6v-3.2" stroke="#444" stroke-width="0.9"/>
<text x="325.4" y="175.6" font-size="9" text-anchor="middle">-20</text>
<path d="M351.8 164.6v-3.2" stroke="#444" stroke-width="0.9"/>
<text x="351.8" y="175.6" font-size="9" text-anchor="middle">0</text>
<path d="M378.2 164.6v-3.2" stroke="#444" stroke-width="0.9"/>
<text x="378.2" y="175.6" font-size="9" text-anchor="middle">20</text>
<path d="M404.6 164.6v-3.2" stroke="#444" stroke-width="0.9"/>
<text x="404.6" y="175.6" font-size="9" text-anchor="middle">40</text>
<path d="M431 164.6v-3.2" stroke="#444" stroke-width="0.9"/>
<text x="431" y="175.6" font-size="9" text-anchor="middle">60</text>
<text x="339.5" y="191.6" font-size="9.5"><tspan font-style="italic">V</tspan><tspan font-size="6.5" dy="2.2">g</tspan><tspan dy="-2.2"> (V)</tspan></text>
<text transform="translate(244.8 85) rotate(-90)" font-size="9.5" text-anchor="middle"><tspan font-style="italic">I</tspan><tspan font-size="6.5" dy="2.2">ds</tspan><tspan dy="-2.2"> (A)</tspan></text>
<circle cx="286.1" cy="15.9" r="1.4" fill="#f21c1c"/>
<text x="297.6" y="17.9" font-size="8.1">Pristine MoS<tspan font-size="5.6" dy="2">2</tspan></text>
<circle cx="286.1" cy="26.2" r="1.4" fill="#f0a030"/>
<text x="297.6" y="28.2" font-size="8.1">0.5% Nb-doped</text>
<circle cx="286.1" cy="35.4" r="1.4" fill="#72dc26"/>
<text x="297.6" y="37.4" font-size="8.1">1.0% Nb-doped</text>
<circle cx="286.1" cy="44.5" r="1.4" fill="#3b90d6"/>
<text x="297.6" y="46.5" font-size="8.1">1.5% Nb-doped</text>
<circle cx="286.1" cy="54" r="1.4" fill="#7122ee"/>
<text x="297.6" y="56" font-size="8.1">2.0% Nb-doped</text>
<text x="477.8" y="17.4" font-size="17.5" font-weight="bold">c</text>
<defs><linearGradient id="gc" x1="0" y1="0" x2="1" y2="0.35"><stop offset="0" stop-color="#d9e9f6"/><stop offset="0.55" stop-color="#ebf3f9"/><stop offset="1" stop-color="#f7fafc"/></linearGradient><linearGradient id="gci" x1="0" y1="0" x2="1" y2="1"><stop offset="0" stop-color="#edf4fa"/><stop offset="1" stop-color="#f6f9fc"/></linearGradient><clipPath id="clc"><rect x="513.5" y="7.6" width="158.8" height="158.5"/></clipPath></defs>
<rect x="513.5" y="7.6" width="158.8" height="158.5" fill="url(#gc)"/>
<g clip-path="url(#clc)" fill="none" stroke="#a9a9a9" stroke-width="0.75" stroke-linejoin="round">
<path d="M513.5 32.06L514.16 35.42L514.82 34.37L515.49 31.81L516.15 30.71L516.81 33.07L517.47 32.2L518.13 32.66L518.79 31.76L519.46 33.39L520.12 33.13L520.78 31.11L521.44 33.13L522.1 36.97L522.76 37.46L523.42 38.44L524.09 40.31L524.75 39.84L525.41 40.32L526.07 39.82L526.73 42.04L527.39 40.74L528.06 44.85L528.72 43.11L529.38 43.48L530.04 44.07L530.7 45.07L531.37 44.85L532.03 44.82L532.69 45.72L533.35 46.09L534.01 46.08L534.67 48L535.34 47.95L536 50.31L536.66 49.59L537.32 48.79L537.98 50.66L538.64 49.08L539.3 50.24L539.97 49.34L540.63 48.86L541.29 52.93L541.95 53.9L542.61 52.71L543.27 55.06L543.94 55.24L544.6 57.67L545.26 53.57L545.92 54.62L546.58 56.15L547.25 57.57L547.91 58.68L548.57 59.71L549.23 57.37L549.89 57.76L550.55 60.11L551.22 60.01L551.88 58.21L552.54 61.55L553.2 63.6L553.86 64.28L554.52 63.09L555.18 64.55L555.85 62.55L556.51 65.13L557.17 65.59L557.83 64.55L558.49 67.7L559.15 65.55L559.82 69.45L560.48 69.04L561.14 66.21L561.8 67.95L562.46 70.71L563.12 71.69L563.79 69.95L564.45 71.73L565.11 72.61L565.77 76.36L566.43 74.66L567.1 75.81L567.76 74.91L568.42 71.3L569.08 75.53L569.74 75.39L570.4 76.17L571.06 76.01L571.73 77.56L572.39 79.51L573.05 76.51L573.71 77.15L574.37 77.9L575.03 79.08L575.7 78.79L576.36 81.2L577.02 79.31L577.68 81.23L578.34 82.48L579 82.34L579.67 86.28L580.33 85.83L580.99 85.57L581.65 87.6L582.31 86.23L582.98 85.49L583.64 83.7L584.3 85.97L584.96 87.28L585.62 85.66L586.28 84.6L586.94 88.15L587.61 88.76L588.27 91.79L588.93 90.27L589.59 89.24L590.25 91.28L590.91 91.01L591.58 91.24L592.24 91.1L592.9 91.85L593.56 86.38L594.22 90.23L594.88 94.66L595.55 96.45L596.21 95.47L596.87 95.49L597.53 97.25L598.19 103.03L598.86 99.44L599.52 98.9L600.18 100.98L600.84 96.74L601.5 120L602.16 98.14L602.82 97.77L603.49 98.86L604.15 94.97L604.81 91.79L605.47 96.51L606.13 101.26L606.79 133.04L607.46 138.84L608.12 125.07L608.78 139.34L609.44 144.59L610.1 145.29L610.76 140.84L611.43 153.3L612.09 156.89L612.75 152.87L613.41 137.78L614.07 129.86L614.74 139.02L615.4 153.45L616.06 168.19L616.72 115.67L617.38 119.59L618.04 111.94L618.7 134.56L619.37 113.88L620.03 124.79L620.69 140.66L621.35 151.46L622.01 145.72L622.67 134.58L623.34 149.59L624 175.61L624.66 150.13L625.32 140.29L625.98 139.99L626.64 124.53L627.31 127.72L627.97 141.79L628.63 173.25L629.29 135.99L629.95 153.95L630.62 159.25L631.28 172.17L631.94 167.21L632.6 146.87L633.26 146.01L633.92 155.33L634.58 157.85L635.25 153.93L635.91 141.68L636.57 142.93L637.23 141.36L637.89 175.61L638.55 172.17L639.22 147.1L639.88 138.02L640.54 119.48L641.2 149.8L641.86 133.66L642.52 134.37L643.19 125.1L643.85 139.48L644.51 134.23L645.17 141.99L645.83 147.69L646.5 139.14L647.16 129.39L647.82 128.91L648.48 159.73L649.14 129.36L649.8 132.03L650.46 142.01L651.13 143.16L651.79 133.53L652.45 138.16L653.11 128.44L653.77 108.72L654.43 126.8L655.1 148.05L655.76 135.74L656.42 140.54L657.08 133.51L657.74 148.39L658.4 142.87L659.07 158.95L659.73 147.59L660.39 148.83L661.05 140.85L661.71 143.72L662.38 137.85L663.04 125.41L663.7 143.56L664.36 149.52L665.02 143.82L665.68 139.53L666.34 131.33L667.01 154.26L667.67 139.15L668.33 120.89L668.99 160.61L669.65 161.38L670.31 149.11L670.98 115.52L671.64 154.03L672.3 133.87"/>
<path d="M513.5 31.11L514.16 29.46L514.82 32.44L515.49 33.96L516.15 33.12L516.81 34.64L517.47 36.03L518.13 37.63L518.79 37.84L519.46 35.2L520.12 35.68L520.78 37.8L521.44 41.46L522.1 40.95L522.76 42.59L523.42 41.77L524.09 42.52L524.75 45.32L525.41 44.05L526.07 43.44L526.73 43.83L527.39 42.76L528.06 45.41L528.72 46.27L529.38 45.97L530.04 45.85L530.7 47.64L531.37 48.5L532.03 49.08L532.69 50.72L533.35 51.01L534.01 51.28L534.67 50.63L535.34 48.59L536 50.08L536.66 51.9L537.32 53.11L537.98 56.07L538.64 56.89L539.3 55.45L539.97 52.93L540.63 54.14L541.29 57.51L541.95 57.04L542.61 58.19L543.27 57.67L543.94 58.74L544.6 58.49L545.26 56.96L545.92 58.66L546.58 59.94L547.25 61.51L547.91 63.2L548.57 62.58L549.23 63.13L549.89 64.83L550.55 65.58L551.22 67.81L551.88 70.33L552.54 68.8L553.2 68.8L553.86 68.2L554.52 68.27L555.18 70.39L555.85 72.02L556.51 71.94L557.17 73.08L557.83 72.58L558.49 74.06L559.15 73.81L559.82 74.07L560.48 77.99L561.14 78.5L561.8 76.47L562.46 76.06L563.12 79L563.79 79.48L564.45 79.51L565.11 81.13L565.77 80.15L566.43 81.76L567.1 83.44L567.76 82.21L568.42 85.14L569.08 85.34L569.74 83.89L570.4 87.61L571.06 86.29L571.73 85.93L572.39 86.41L573.05 89.75L573.71 89.3L574.37 86.36L575.03 87.81L575.7 89.57L576.36 89.9L577.02 90.43L577.68 89.51L578.34 93.43L579 93.5L579.67 90.86L580.33 92.38L580.99 92.39L581.65 96.08L582.31 96.73L582.98 96.65L583.64 96.92L584.3 95.77L584.96 99.03L585.62 101.49L586.28 100.9L586.94 100.74L587.61 101.61L588.27 101.71L588.93 99.89L589.59 102.51L590.25 104.43L590.91 104.09L591.58 104.14L592.24 105.24L592.9 103.72L593.56 107.19L594.22 106.58L594.88 105.72L595.55 107.84L596.21 108.56L596.87 105.93L597.53 106.41L598.19 108.92L598.86 108.74L599.52 111.15L600.18 110.44L600.84 110.34L601.5 109.82L602.16 112.97L602.82 113.56L603.49 113.59L604.15 112.38L604.81 114.73L605.47 117.66L606.13 118.83L606.79 116.02L607.46 118.72L608.12 119.6L608.78 119.19L609.44 118.21L610.1 117.35L610.76 119.56L611.43 116.63L612.09 121.56L612.75 119.55L613.41 120.02L614.07 121.34L614.74 120.69L615.4 123.82L616.06 124.73L616.72 122.14L617.38 125.17L618.04 123.38L618.7 122.69L619.37 125.88L620.03 128.07L620.69 126.71L621.35 131.27L622.01 130.22L622.67 128.53L623.34 127.85L624 129.53L624.66 128.45L625.32 130.06L625.98 131.8L626.64 131.6L627.31 130.53L627.97 143.82L628.63 163.12L629.29 134.36L629.95 169.21L630.62 130.44L631.28 131.46L631.94 128.41L632.6 133.3L633.26 137.53L633.92 138.72L634.58 136.76L635.25 131.38L635.91 132.14L636.57 132.15L637.23 126L637.89 123.46L638.55 130.95L639.22 127.92L639.88 129.98L640.54 169.36L641.2 128.51L641.86 128.77L642.52 132.51L643.19 134.23L643.85 158.39L644.51 136.81L645.17 135L645.83 142.75L646.5 137.29L647.16 135.04L647.82 135.79L648.48 134.49L649.14 139.43L649.8 140.45L650.46 136.19L651.13 140.55L651.79 134.87L652.45 137.33L653.11 132.08L653.77 131.96L654.43 132.69L655.1 142.44L655.76 140.29L656.42 143.74L657.08 143.88L657.74 139.36L658.4 165.1L659.07 141.14L659.73 135.92L660.39 137.09L661.05 136.72L661.71 137.92L662.38 140.66L663.04 170.68L663.7 136.22L664.36 132.28L665.02 139.58L665.68 136.92L666.34 141.85L667.01 133.29L667.67 175.61L668.33 137.78L668.99 164.51L669.65 136.38L670.31 135.91L670.98 164.52L671.64 135.77L672.3 136.32"/>
<path d="M513.5 35.29L514.16 37.14L514.82 38.37L515.49 38.25L516.15 39.53L516.81 38.01L517.47 38.19L518.13 38.5L518.79 40.75L519.46 42.66L520.12 42.78L520.78 42.23L521.44 43.11L522.1 45.01L522.76 43.77L523.42 42.79L524.09 44.1L524.75 42.31L525.41 45.58L526.07 47.72L526.73 47.49L527.39 45.93L528.06 47.46L528.72 48.51L529.38 46.19L530.04 45.95L530.7 46.58L531.37 49.4L532.03 51.33L532.69 49.6L533.35 51.57L534.01 51.24L534.67 50.95L535.34 51.72L536 53.13L536.66 53.25L537.32 55.95L537.98 54.9L538.64 58.72L539.3 56.44L539.97 56.11L540.63 58.67L541.29 58.33L541.95 58.33L542.61 59.3L543.27 58.56L543.94 57.26L544.6 57.55L545.26 62.73L545.92 60L546.58 59.68L547.25 58.66L547.91 60.86L548.57 61.97L549.23 59.84L549.89 63.48L550.55 65.69L551.22 63.98L551.88 62.46L552.54 67.5L553.2 65.07L553.86 64.76L554.52 66.18L555.18 66.18L555.85 67.31L556.51 67.03L557.17 68.89L557.83 68.15L558.49 69.05L559.15 70.81L559.82 73.81L560.48 72.62L561.14 73.35L561.8 74.93L562.46 74.29L563.12 76.11L563.79 74.06L564.45 71.46L565.11 71.11L565.77 72.13L566.43 76.11L567.1 76.27L567.76 75.94L568.42 80.61L569.08 81.12L569.74 75.69L570.4 77.65L571.06 74.9L571.73 77.43L572.39 78.45L573.05 81.99L573.71 78.89L574.37 80.43L575.03 80.94L575.7 83.87L576.36 85.18L577.02 80.45L577.68 103.45L578.34 82.47L579 82.07L579.67 80.69L580.33 83.14L580.99 81.79L581.65 82.1L582.31 85.42L582.98 83.74L583.64 80.62L584.3 81.93L584.96 77.95L585.62 81.4L586.28 80.98L586.94 78.71L587.61 81.81L588.27 82.37L588.93 90.5L589.59 85.44L590.25 82.86L590.91 85.93L591.58 85.04L592.24 85.11L592.9 85.89L593.56 84.35L594.22 91.28L594.88 97.39L595.55 108.82L596.21 90.76L596.87 84.53L597.53 87.15L598.19 90.93L598.86 90.91L599.52 85.11L600.18 92.43L600.84 85.06L601.5 84.59L602.16 87.4L602.82 87.56L603.49 83.71L604.15 85.26L604.81 110.55L605.47 87.71L606.13 82.78L606.79 83.01L607.46 79.64L608.12 86.27L608.78 97.87L609.44 89.5L610.1 121.24L610.76 89.99L611.43 114.71L612.09 88.92L612.75 88.77L613.41 91.49L614.07 96.57L614.74 133.47L615.4 94.79L616.06 95.3L616.72 96.92L617.38 99.65L618.04 99.24L618.7 97.01L619.37 94.82L620.03 95.7L620.69 93.17L621.35 89.15L622.01 94.21L622.67 90.47L623.34 89.43L624 94.57L624.66 93.4L625.32 89.65L625.98 86.92L626.64 84.36L627.31 85.15L627.97 92.16L628.63 93.67L629.29 126.79L629.95 90.94L630.62 93.81L631.28 111.56L631.94 91.94L632.6 89.79L633.26 87.06L633.92 90.16L634.58 93.51L635.25 87.63L635.91 85.34L636.57 87.24L637.23 88.92L637.89 84.94L638.55 83.73L639.22 112.39L639.88 117.2L640.54 122.52L641.2 92.62L641.86 90.86L642.52 88.17L643.19 91.66L643.85 88.13L644.51 86.31L645.17 85.2L645.83 91.98L646.5 92.53L647.16 91.01L647.82 116.16L648.48 95.29L649.14 93.17L649.8 92.66L650.46 96.93L651.13 97.13L651.79 100.82L652.45 98.12L653.11 94.9L653.77 87.96L654.43 83.5L655.1 78.46L655.76 88.52L656.42 89.77L657.08 95.2L657.74 105.98L658.4 95.03L659.07 86.9L659.73 88.62L660.39 92.36L661.05 90.87L661.71 90.23L662.38 94.49L663.04 92.97L663.7 91.42L664.36 93.86L665.02 99.4L665.68 88.73L666.34 88.53L667.01 88.02L667.67 93.81L668.33 93.99L668.99 99.17L669.65 93.59L670.31 91.48L670.98 100.85L671.64 94.34L672.3 90.24"/>
<path d="M513.5 34.87L514.16 34.23L514.82 35.29L515.49 37.89L516.15 37.72L516.81 37.17L517.47 37.6L518.13 40.38L518.79 37.84L519.46 40.12L520.12 43.94L520.78 42.17L521.44 42.39L522.1 43.52L522.76 44.02L523.42 44.23L524.09 43.07L524.75 43.19L525.41 44.98L526.07 45.15L526.73 46.38L527.39 46.4L528.06 48.7L528.72 49.65L529.38 46.96L530.04 48.37L530.7 50.93L531.37 52.5L532.03 52.33L532.69 52.83L533.35 55.1L534.01 54.68L534.67 57.45L535.34 56.25L536 55.91L536.66 56.76L537.32 60.24L537.98 58.21L538.64 56.13L539.3 57.57L539.97 57.74L540.63 59.9L541.29 61.38L541.95 63.33L542.61 63.19L543.27 62.91L543.94 63.19L544.6 65.46L545.26 64.65L545.92 65.78L546.58 66.15L547.25 70.21L547.91 67.3L548.57 68.11L549.23 69.72L549.89 70.09L550.55 71.43L551.22 71.73L551.88 71.81L552.54 69.56L553.2 70.96L553.86 72.43L554.52 72.9L555.18 71.5L555.85 73.13L556.51 74.07L557.17 73.27L557.83 74.32L558.49 77.26L559.15 77.49L559.82 78.01L560.48 77.78L561.14 80.37L561.8 81.05L562.46 79.53L563.12 77.76L563.79 82.17L564.45 83.04L565.11 80.15L565.77 82.55L566.43 81.47L567.1 81.49L567.76 82.59L568.42 84.43L569.08 85.08L569.74 83.48L570.4 86.58L571.06 85.4L571.73 87.67L572.39 87.38L573.05 86.63L573.71 86.2L574.37 87.15L575.03 89.97L575.7 90.1L576.36 90.18L577.02 93.44L577.68 91L578.34 91.96L579 93.24L579.67 93.96L580.33 96.1L580.99 93.29L581.65 95.2L582.31 92.03L582.98 94.93L583.64 95.52L584.3 95.31L584.96 95.54L585.62 96.32L586.28 110.33L586.94 97.03L587.61 98.93L588.27 99.57L588.93 100.27L589.59 99.63L590.25 98.61L590.91 93.53L591.58 95.68L592.24 99.8L592.9 96.13L593.56 102.32L594.22 102.6L594.88 104.73L595.55 97.71L596.21 114.17L596.87 102.89L597.53 106.68L598.19 103.55L598.86 114.76L599.52 102.32L600.18 102.8L600.84 103.1L601.5 108.91L602.16 98.42L602.82 104.51L603.49 98L604.15 99.42L604.81 104.92L605.47 105.41L606.13 106.63L606.79 146.89L607.46 148.83L608.12 135.74L608.78 145.23L609.44 155.48L610.1 153.31L610.76 149.08L611.43 152.57L612.09 134.09L612.75 136.18L613.41 123.17L614.07 143.52L614.74 137.33L615.4 145.56L616.06 152.38L616.72 148.04L617.38 146.23L618.04 122.83L618.7 130.66L619.37 122.13L620.03 128.43L620.69 123.08L621.35 130.38L622.01 134.72L622.67 141.02L623.34 148.76L624 136.6L624.66 168.61L625.32 131.65L625.98 132.15L626.64 129.89L627.31 118.86L627.97 119.65L628.63 127.66L629.29 129.21L629.95 130.72L630.62 131.78L631.28 151L631.94 144.37L632.6 171.6L633.26 162.4L633.92 143.75L634.58 132.56L635.25 124.5L635.91 148.1L636.57 150.35L637.23 136.02L637.89 140.91L638.55 127.42L639.22 130.12L639.88 134.5L640.54 124.8L641.2 122.83L641.86 122.39L642.52 129.89L643.19 118.59L643.85 135.37L644.51 141.02L645.17 136.98L645.83 117.3L646.5 138.55L647.16 149.4L647.82 150.13L648.48 148.53L649.14 145.56L649.8 141.31L650.46 142.87L651.13 153.63L651.79 154.62L652.45 140.28L653.11 125.07L653.77 143.65L654.43 135.11L655.1 130.46L655.76 133.63L656.42 119.59L657.08 125.62L657.74 146.77L658.4 175.61L659.07 143.05L659.73 143.62L660.39 151.04L661.05 160.42L661.71 126.67L662.38 137.71L663.04 143L663.7 151.85L664.36 143.74L665.02 128.15L665.68 135.73L666.34 135.62L667.01 134.24L667.67 124.93L668.33 132.12L668.99 132.03L669.65 136.55L670.31 153.75L670.98 156.16L671.64 158.09L672.3 152.17"/>
<path d="M513.5 39.09L514.16 39.61L514.82 38.72L515.49 40.51L516.15 43.08L516.81 45.15L517.47 47L518.13 47L518.79 49.27L519.46 47.41L520.12 48.7L520.78 50.79L521.44 49.95L522.1 49.54L522.76 49.6L523.42 48.64L524.09 47.79L524.75 50.45L525.41 50.46L526.07 51.32L526.73 52.1L527.39 52.84L528.06 54.05L528.72 53.08L529.38 54.88L530.04 55.9L530.7 56.46L531.37 56.27L532.03 58.48L532.69 58.46L533.35 59.38L534.01 59.38L534.67 62.3L535.34 61.47L536 63.5L536.66 63.58L537.32 65.13L537.98 64.63L538.64 64L539.3 67.05L539.97 66.18L540.63 65.63L541.29 66.37L541.95 65.62L542.61 67.95L543.27 70.39L543.94 70.73L544.6 69.63L545.26 69.08L545.92 72.09L546.58 70.68L547.25 73.83L547.91 73.49L548.57 72.31L549.23 74.27L549.89 74.21L550.55 76.78L551.22 75.03L551.88 76.43L552.54 77.01L553.2 74.14L553.86 76.53L554.52 78.78L555.18 80.47L555.85 79.26L556.51 79.31L557.17 80.24L557.83 80.81L558.49 81.48L559.15 80.12L559.82 80.76L560.48 81.91L561.14 85.09L561.8 87.12L562.46 84.32L563.12 85.53L563.79 88.17L564.45 91.85L565.11 86.25L565.77 85.7L566.43 87.75L567.1 90.25L567.76 91.3L568.42 92.51L569.08 92.61L569.74 93.56L570.4 95.59L571.06 95.62L571.73 96.99L572.39 95.95L573.05 95.85L573.71 96.14L574.37 101.39L575.03 101.15L575.7 102.96L576.36 99.63L577.02 100.45L577.68 103.2L578.34 103.54L579 101.16L579.67 101.05L580.33 99.94L580.99 104.87L581.65 102.41L582.31 101.74L582.98 100.53L583.64 103.25L584.3 103.4L584.96 105.34L585.62 107.64L586.28 105.42L586.94 106.21L587.61 105.43L588.27 103.85L588.93 108.06L589.59 110.73L590.25 110.59L590.91 110.07L591.58 110.39L592.24 110.08L592.9 109.32L593.56 108.71L594.22 113.58L594.88 116.28L595.55 115.13L596.21 112.1L596.87 112.77L597.53 116.15L598.19 114.6L598.86 113.79L599.52 113.84L600.18 115.19L600.84 113.03L601.5 114.69L602.16 113.78L602.82 137.74L603.49 116.05L604.15 115.71L604.81 118.98L605.47 118.52L606.13 122.04L606.79 121.82L607.46 120.92L608.12 118.42L608.78 121.31L609.44 119.92L610.1 119.7L610.76 121.72L611.43 122.15L612.09 118.85L612.75 122.87L613.41 122.85L614.07 150.24L614.74 120.89L615.4 125.15L616.06 117.61L616.72 123.67L617.38 128.81L618.04 128.02L618.7 124.06L619.37 123.81L620.03 123.19L620.69 123.97L621.35 121.09L622.01 120.96L622.67 126.11L623.34 125.9L624 127.97L624.66 124.19L625.32 124.46L625.98 125.08L626.64 123.27L627.31 126.96L627.97 127.49L628.63 125.18L629.29 126.57L629.95 123.02L630.62 120.88L631.28 119.55L631.94 119.96L632.6 123.67L633.26 124.15L633.92 121.73L634.58 118.99L635.25 127.11L635.91 123.25L636.57 124.82L637.23 124.68L637.89 129.93L638.55 124.77L639.22 125.6L639.88 164.87L640.54 124.53L641.2 124.62L641.86 122.35L642.52 139.4L643.19 135.2L643.85 168.09L644.51 162.48L645.17 122.8L645.83 120.35L646.5 125.39L647.16 130.78L647.82 128.81L648.48 130.26L649.14 133.81L649.8 130.17L650.46 136.03L651.13 131.47L651.79 137.46L652.45 132.16L653.11 131.82L653.77 133.65L654.43 138.07L655.1 131.77L655.76 133.18L656.42 129.87L657.08 132.58L657.74 129.78L658.4 165.19L659.07 128.05L659.73 133.54L660.39 130.52L661.05 129.74L661.71 126.12L662.38 129.91L663.04 129.7L663.7 129.87L664.36 130.99L665.02 125.74L665.68 126L666.34 130.56L667.01 130.37L667.67 131.72L668.33 126.19L668.99 128.88L669.65 130.61L670.31 126.89L670.98 130.66L671.64 131.79L672.3 129.75"/>
<path d="M513.5 39.55L514.16 38.97L514.82 40.38L515.49 42.21L516.15 43.96L516.81 44.86L517.47 45.04L518.13 43.97L518.79 47.07L519.46 47.5L520.12 48.61L520.78 45.51L521.44 45.96L522.1 47.5L522.76 47.69L523.42 48.49L524.09 48.14L524.75 48.3L525.41 48.71L526.07 49L526.73 52.16L527.39 53.72L528.06 52.93L528.72 52.4L529.38 55.57L530.04 56.67L530.7 56.73L531.37 54.86L532.03 57.03L532.69 56.87L533.35 58.68L534.01 60.23L534.67 60.95L535.34 61.98L536 59.24L536.66 64.24L537.32 65.87L537.98 64.23L538.64 64.08L539.3 64.97L539.97 65.55L540.63 64.61L541.29 67.74L541.95 65.88L542.61 63.45L543.27 68.19L543.94 68.85L544.6 69.4L545.26 70.02L545.92 71.59L546.58 71.39L547.25 70.6L547.91 71.02L548.57 68.94L549.23 69.76L549.89 72.6L550.55 73.25L551.22 74.59L551.88 74.15L552.54 75.45L553.2 74.68L553.86 77.52L554.52 77.24L555.18 77.45L555.85 78.3L556.51 79.91L557.17 79.59L557.83 78.93L558.49 80.66L559.15 80.81L559.82 78.81L560.48 80.4L561.14 80.16L561.8 83.66L562.46 87.28L563.12 87.89L563.79 85.63L564.45 86.39L565.11 86.43L565.77 85.3L566.43 89.25L567.1 88.44L567.76 89.28L568.42 89.57L569.08 90.42L569.74 88.51L570.4 89.52L571.06 92L571.73 94.02L572.39 92.29L573.05 93.29L573.71 95.78L574.37 97.36L575.03 98L575.7 96.79L576.36 95.84L577.02 97.49L577.68 97.98L578.34 98.99L579 99.51L579.67 102.13L580.33 101.9L580.99 98.94L581.65 98.06L582.31 99.91L582.98 99.32L583.64 100.07L584.3 99.97L584.96 103.08L585.62 102.32L586.28 101.58L586.94 104.88L587.61 101.97L588.27 101.8L588.93 102.28L589.59 104.85L590.25 103.83L590.91 106.17L591.58 107.88L592.24 108.53L592.9 106.35L593.56 109.33L594.22 110.99L594.88 112.5L595.55 110.49L596.21 110.62L596.87 111.82L597.53 113.13L598.19 114.36L598.86 113.82L599.52 113.77L600.18 115.67L600.84 115.5L601.5 114.58L602.16 114.52L602.82 116.16L603.49 113.93L604.15 117.29L604.81 119.11L605.47 115.37L606.13 114.2L606.79 112.91L607.46 115.45L608.12 120.72L608.78 121.38L609.44 121.49L610.1 119.62L610.76 121.77L611.43 116.5L612.09 115.84L612.75 119.17L613.41 121.9L614.07 157.37L614.74 118.73L615.4 116.64L616.06 115.54L616.72 147.24L617.38 125.92L618.04 126.11L618.7 126.73L619.37 123.19L620.03 120.88L620.69 121.69L621.35 119.59L622.01 118.69L622.67 153.26L623.34 127.62L624 124.35L624.66 125.98L625.32 124.16L625.98 124.15L626.64 151.16L627.31 127.94L627.97 132.38L628.63 128.09L629.29 122.54L629.95 130.08L630.62 132.6L631.28 130.35L631.94 137.16L632.6 127.17L633.26 130.56L633.92 128.53L634.58 127.66L635.25 129.42L635.91 126.7L636.57 131.87L637.23 132.36L637.89 128.64L638.55 123.74L639.22 123.35L639.88 122.44L640.54 131.73L641.2 133.37L641.86 127.95L642.52 130.31L643.19 133.73L643.85 130.21L644.51 125.09L645.17 149.69L645.83 128.53L646.5 124.78L647.16 126.5L647.82 125.95L648.48 126.1L649.14 164.46L649.8 125.08L650.46 121.35L651.13 155.3L651.79 127.18L652.45 124.71L653.11 168.16L653.77 126.18L654.43 122.92L655.1 130.42L655.76 130.07L656.42 127.49L657.08 131.51L657.74 129.08L658.4 133.12L659.07 150.82L659.73 128.68L660.39 132.77L661.05 128.91L661.71 128.09L662.38 122.63L663.04 121.66L663.7 124.53L664.36 128.46L665.02 129.85L665.68 121.13L666.34 120.41L667.01 122.92L667.67 125.77L668.33 121.65L668.99 126.85L669.65 123.77L670.31 132.06L670.98 129.09L671.64 126.32L672.3 150.89"/>
<path d="M513.5 31.9L514.16 31.88L514.82 33.12L515.49 36.42L516.15 36.2L516.81 36.39L517.47 35.69L518.13 33.76L518.79 34.44L519.46 36.7L520.12 36.62L520.78 35.6L521.44 37.92L522.1 38.83L522.76 42.15L523.42 39.35L524.09 40.01L524.75 37.05L525.41 40.32L526.07 40.27L526.73 41.1L527.39 40.77L528.06 44.43L528.72 46.03L529.38 45.2L530.04 47.42L530.7 46.38L531.37 48.84L532.03 47.54L532.69 49.63L533.35 51.35L534.01 54.04L534.67 51.45L535.34 52.92L536 52.79L536.66 49.78L537.32 51.29L537.98 53.73L538.64 54.72L539.3 53.13L539.97 54.04L540.63 54.04L541.29 53.83L541.95 52.77L542.61 53.57L543.27 54.98L543.94 56.68L544.6 56.14L545.26 57.03L545.92 58.34L546.58 61.14L547.25 59.04L547.91 57.77L548.57 60.15L549.23 61.01L549.89 63.46L550.55 63.06L551.22 62.31L551.88 62.77L552.54 63.92L553.2 63.53L553.86 65.58L554.52 65.65L555.18 68.28L555.85 66.47L556.51 67.07L557.17 66.14L557.83 66.23L558.49 67.42L559.15 69.73L559.82 71.44L560.48 70.34L561.14 71.11L561.8 73.81L562.46 73.91L563.12 73.02L563.79 72.79L564.45 71.73L565.11 72.29L565.77 72.6L566.43 71.28L567.1 73.29L567.76 76.19L568.42 76.96L569.08 78.16L569.74 80.98L570.4 80.6L571.06 81.09L571.73 81L572.39 81.56L573.05 83.54L573.71 82.87L574.37 81.98L575.03 82.39L575.7 83.35L576.36 83.83L577.02 85.21L577.68 84.62L578.34 87.53L579 86.96L579.67 85.57L580.33 85.75L580.99 84.93L581.65 86.19L582.31 89.09L582.98 86.67L583.64 89.04L584.3 89.31L584.96 90.92L585.62 89.83L586.28 91.58L586.94 90.43L587.61 89.92L588.27 94.08L588.93 93.76L589.59 92.98L590.25 95.23L590.91 94.46L591.58 94.6L592.24 94.41L592.9 92.56L593.56 93.8L594.22 93.64L594.88 95.25L595.55 99.02L596.21 99.66L596.87 99.65L597.53 100.8L598.19 100.22L598.86 99.1L599.52 99.55L600.18 100.49L600.84 100.25L601.5 101.29L602.16 101.12L602.82 101.18L603.49 103.89L604.15 107.65L604.81 107.04L605.47 105.36L606.13 105.24L606.79 148.03L607.46 143.71L608.12 143.76L608.78 133.65L609.44 138.44L610.1 139.12L610.76 135.86L611.43 140.72L612.09 148.34L612.75 160.6L613.41 135.7L614.07 135.78L614.74 141.78L615.4 153.17L616.06 122.74L616.72 143.46L617.38 141.97L618.04 159.3L618.7 140.72L619.37 175.01L620.03 138.32L620.69 128.99L621.35 134.54L622.01 131.78L622.67 162.86L623.34 151.63L624 153.82L624.66 156.26L625.32 161.24L625.98 144.85L626.64 151.65L627.31 165.24L627.97 137.35L628.63 134.79L629.29 146.84L629.95 148.15L630.62 138.08L631.28 133.11L631.94 144.64L632.6 146.15L633.26 129.6L633.92 136.14L634.58 149.75L635.25 138.31L635.91 130.65L636.57 136.27L637.23 151.69L637.89 143.92L638.55 129.2L639.22 150.07L639.88 155.75L640.54 144.01L641.2 158.41L641.86 143.03L642.52 156.88L643.19 141.9L643.85 139.83L644.51 133.29L645.17 129.52L645.83 141.74L646.5 134.55L647.16 136.01L647.82 153.28L648.48 148.44L649.14 143.39L649.8 143.01L650.46 133.22L651.13 146.43L651.79 158.84L652.45 129.69L653.11 133.57L653.77 135.23L654.43 126.91L655.1 129.19L655.76 126.39L656.42 164.74L657.08 142.34L657.74 140.17L658.4 135.61L659.07 141.85L659.73 162.46L660.39 137.31L661.05 130.04L661.71 156.68L662.38 131.2L663.04 136.7L663.7 135.05L664.36 135.32L665.02 142.78L665.68 137.55L666.34 147.66L667.01 140.69L667.67 133.55L668.33 144.54L668.99 154.84L669.65 147.91L670.31 143.99L670.98 142.58L671.64 140.77L672.3 167.65"/>
<path d="M513.5 28.49L514.16 27.72L514.82 28.97L515.49 26.95L516.15 28.55L516.81 30.8L517.47 31.34L518.13 32L518.79 28.99L519.46 29.31L520.12 30.96L520.78 31.17L521.44 29.81L522.1 31.85L522.76 34.18L523.42 33.48L524.09 36.2L524.75 34.21L525.41 38.32L526.07 39.25L526.73 40.25L527.39 40.07L528.06 40L528.72 41.16L529.38 41.75L530.04 41.64L530.7 42.41L531.37 42.74L532.03 44.16L532.69 46.41L533.35 44.45L534.01 45.31L534.67 45.65L535.34 46.86L536 44.53L536.66 45.87L537.32 48.13L537.98 48.43L538.64 47.77L539.3 51.33L539.97 51.41L540.63 49.79L541.29 52.77L541.95 53.8L542.61 53.84L543.27 53.12L543.94 53.66L544.6 53.04L545.26 54.68L545.92 56.65L546.58 57.95L547.25 59.18L547.91 59.99L548.57 59.18L549.23 56.82L549.89 58.93L550.55 59.52L551.22 60.67L551.88 63.79L552.54 62.63L553.2 62.93L553.86 64.5L554.52 65.43L555.18 65.85L555.85 65.66L556.51 65.1L557.17 65.16L557.83 67.89L558.49 67.32L559.15 67.82L559.82 66.88L560.48 69.1L561.14 68.09L561.8 68.52L562.46 72.76L563.12 71.02L563.79 72.01L564.45 73.24L565.11 72.39L565.77 73.92L566.43 73.59L567.1 77.17L567.76 77.33L568.42 77.26L569.08 77.51L569.74 78.28L570.4 79.86L571.06 80.74L571.73 78.59L572.39 80.16L573.05 82.47L573.71 82.88L574.37 82.87L575.03 84.86L575.7 83.12L576.36 83.99L577.02 85.51L577.68 85.94L578.34 86.87L579 85.47L579.67 85.66L580.33 85.46L580.99 88.22L581.65 86.76L582.31 88.04L582.98 90.77L583.64 91.55L584.3 90.86L584.96 92.18L585.62 93.82L586.28 93.48L586.94 92.93L587.61 93.96L588.27 94.3L588.93 93.47L589.59 92.47L590.25 90.7L590.91 94.06L591.58 95.8L592.24 96.86L592.9 96.93L593.56 97.77L594.22 97.69L594.88 98.95L595.55 100.19L596.21 100.47L596.87 100.5L597.53 99.89L598.19 101.76L598.86 102.02L599.52 102.37L600.18 102.45L600.84 106.45L601.5 105.29L602.16 108.99L602.82 107.86L603.49 106.04L604.15 106.67L604.81 106.11L605.47 106.08L606.13 105.32L606.79 104.99L607.46 106.41L608.12 106.38L608.78 108.58L609.44 110.09L610.1 108.98L610.76 107.88L611.43 110.84L612.09 110.99L612.75 112.72L613.41 112.64L614.07 115.74L614.74 114.55L615.4 134.93L616.06 116.17L616.72 152.2L617.38 119.99L618.04 114.25L618.7 114.76L619.37 115.47L620.03 115.88L620.69 116.22L621.35 114.66L622.01 117.96L622.67 118.14L623.34 113.48L624 116.04L624.66 114.17L625.32 113.57L625.98 117.81L626.64 118.52L627.31 114.02L627.97 117.01L628.63 117.49L629.29 121.22L629.95 120.79L630.62 119.35L631.28 120.48L631.94 118.24L632.6 118.52L633.26 125.01L633.92 122.13L634.58 123.08L635.25 121.65L635.91 119.34L636.57 119.34L637.23 122.63L637.89 122.21L638.55 121.25L639.22 121.22L639.88 119.31L640.54 145.09L641.2 122.15L641.86 119.55L642.52 123.5L643.19 119.87L643.85 118.46L644.51 115.83L645.17 120.39L645.83 120.33L646.5 128.46L647.16 122.52L647.82 125.31L648.48 119.7L649.14 122.24L649.8 124.3L650.46 127.58L651.13 122.26L651.79 119.48L652.45 145.83L653.11 123.99L653.77 124.29L654.43 119.57L655.1 117.07L655.76 120.01L656.42 115.77L657.08 115.35L657.74 119.4L658.4 121.88L659.07 159.22L659.73 127.89L660.39 124.8L661.05 125.57L661.71 120.08L662.38 119.04L663.04 118.84L663.7 121.51L664.36 124.61L665.02 122.19L665.68 116.09L666.34 120.88L667.01 120.77L667.67 120.3L668.33 120.16L668.99 123.15L669.65 128.78L670.31 127.41L670.98 137.73L671.64 118.78L672.3 119.03"/>
<path d="M513.5 41.77L514.16 40.13L514.82 40.95L515.49 40.94L516.15 45.15L516.81 45.56L517.47 45.85L518.13 46.03L518.79 46.11L519.46 46.29L520.12 48.23L520.78 48.11L521.44 47.69L522.1 47.8L522.76 48.71L523.42 48.83L524.09 49.38L524.75 52.25L525.41 49.97L526.07 50.83L526.73 51.34L527.39 52.69L528.06 52.63L528.72 53.19L529.38 55.84L530.04 57.34L530.7 56.74L531.37 55.89L532.03 57.89L532.69 60.06L533.35 59.17L534.01 60.47L534.67 62.29L535.34 60.05L536 61.8L536.66 63.12L537.32 62.23L537.98 63.77L538.64 64.08L539.3 63.94L539.97 64.07L540.63 66.06L541.29 66.09L541.95 66.19L542.61 68.36L543.27 69.82L543.94 68.7L544.6 66.32L545.26 69.56L545.92 69.92L546.58 70.95L547.25 70.91L547.91 72.47L548.57 72.01L549.23 72.23L549.89 72.03L550.55 71.77L551.22 73.91L551.88 75.34L552.54 74.14L553.2 76.25L553.86 76.91L554.52 77.95L555.18 77.86L555.85 79.43L556.51 79.51L557.17 79.41L557.83 81.35L558.49 82.62L559.15 82.7L559.82 82.53L560.48 83.17L561.14 82.39L561.8 82.21L562.46 84.19L563.12 82.12L563.79 84.32L564.45 85.17L565.11 87.57L565.77 87.32L566.43 84.99L567.1 85.03L567.76 86.76L568.42 87.9L569.08 89.69L569.74 89.38L570.4 90.9L571.06 91.48L571.73 94.08L572.39 93.17L573.05 92.64L573.71 93.42L574.37 94.02L575.03 94.86L575.7 94.18L576.36 94.32L577.02 92.5L577.68 95.06L578.34 95.56L579 92.87L579.67 94.15L580.33 98.33L580.99 98.59L581.65 97.55L582.31 102.22L582.98 100.48L583.64 99.69L584.3 100.63L584.96 103.73L585.62 99.74L586.28 101.9L586.94 101.59L587.61 104.38L588.27 105.86L588.93 101.61L589.59 103.38L590.25 105.16L590.91 101.71L591.58 100.53L592.24 102.36L592.9 102.72L593.56 101.88L594.22 104.64L594.88 107.56L595.55 108.65L596.21 108.04L596.87 108.64L597.53 106.82L598.19 106.4L598.86 129.68L599.52 107.63L600.18 112.45L600.84 111.23L601.5 111L602.16 109.58L602.82 109.62L603.49 111.77L604.15 137.3L604.81 117.54L605.47 114.67L606.13 110.35L606.79 111.01L607.46 112.15L608.12 113.52L608.78 110.85L609.44 134.07L610.1 110.9L610.76 117.62L611.43 114.23L612.09 111.41L612.75 130.79L613.41 111.93L614.07 111.4L614.74 132.56L615.4 113.13L616.06 115.72L616.72 119.12L617.38 114.1L618.04 117.93L618.7 121.87L619.37 117.42L620.03 117.13L620.69 124.43L621.35 118.5L622.01 117.04L622.67 117.81L623.34 116.9L624 116.74L624.66 115.07L625.32 118.99L625.98 153.77L626.64 123.22L627.31 120.08L627.97 117L628.63 120.29L629.29 117.54L629.95 112.78L630.62 115.61L631.28 116.29L631.94 119.32L632.6 114.73L633.26 114.49L633.92 113.24L634.58 115.37L635.25 111.98L635.91 122.02L636.57 123.62L637.23 128.32L637.89 122.06L638.55 116.61L639.22 124.62L639.88 126.32L640.54 127.87L641.2 125.72L641.86 122.49L642.52 125.21L643.19 123.09L643.85 114.4L644.51 122.69L645.17 114.83L645.83 119.12L646.5 119.23L647.16 124.38L647.82 120.72L648.48 155.14L649.14 124.28L649.8 123.87L650.46 125.47L651.13 126.47L651.79 120.72L652.45 119.02L653.11 118.02L653.77 114.88L654.43 117.56L655.1 117.14L655.76 117.5L656.42 140.04L657.08 117.09L657.74 152.79L658.4 121.9L659.07 121.95L659.73 121.59L660.39 119.45L661.05 119.77L661.71 121.7L662.38 121.71L663.04 117.32L663.7 122.97L664.36 116.85L665.02 114.17L665.68 115.03L666.34 117.99L667.01 120.73L667.67 123.69L668.33 120.23L668.99 121.31L669.65 119.86L670.31 126.68L670.98 128.44L671.64 136.39L672.3 145.24"/>
<path d="M513.5 27.46L514.16 27.55L514.82 30.25L515.49 29.65L516.15 33.03L516.81 32.49L517.47 32.03L518.13 32.13L518.79 31.18L519.46 33.18L520.12 34.81L520.78 35.19L521.44 37.47L522.1 38.68L522.76 37.52L523.42 36.31L524.09 35.82L524.75 36.52L525.41 38.05L526.07 39.5L526.73 41.41L527.39 40.91L528.06 42.67L528.72 41.97L529.38 43.78L530.04 43.77L530.7 42.62L531.37 45.99L532.03 43.77L532.69 45.32L533.35 44.23L534.01 45.36L534.67 45.18L535.34 45.87L536 47.52L536.66 50.08L537.32 50.15L537.98 50.8L538.64 48.13L539.3 49.39L539.97 52.46L540.63 49.65L541.29 50.76L541.95 50.16L542.61 54.31L543.27 55.12L543.94 54.16L544.6 53.64L545.26 52.36L545.92 53.73L546.58 55.6L547.25 57.63L547.91 57.76L548.57 55.89L549.23 54.73L549.89 58.32L550.55 59.33L551.22 58.54L551.88 62.17L552.54 61.45L553.2 64.53L553.86 61.87L554.52 60.48L555.18 62.87L555.85 62.53L556.51 66.02L557.17 67.57L557.83 66.21L558.49 64.91L559.15 67.05L559.82 63.66L560.48 63.77L561.14 65L561.8 66.12L562.46 67.2L563.12 67.61L563.79 68.41L564.45 71.03L565.11 70.29L565.77 69.12L566.43 70.72L567.1 72.64L567.76 72.53L568.42 71.46L569.08 72.14L569.74 74.08L570.4 77.01L571.06 72.6L571.73 72.98L572.39 74.92L573.05 76.46L573.71 77.74L574.37 78.85L575.03 75.3L575.7 75.95L576.36 78.7L577.02 75.9L577.68 76.69L578.34 79.81L579 78.8L579.67 79.34L580.33 77.38L580.99 79.2L581.65 78.44L582.31 78.09L582.98 76.89L583.64 81.52L584.3 81.35L584.96 81.82L585.62 82.62L586.28 80.83L586.94 82.01L587.61 83.39L588.27 86.91L588.93 84.07L589.59 86L590.25 86.88L590.91 102.48L591.58 87.4L592.24 90.01L592.9 91.67L593.56 91.33L594.22 93.72L594.88 89.91L595.55 89.16L596.21 86.97L596.87 87.62L597.53 89.69L598.19 94.65L598.86 89.83L599.52 113.55L600.18 103.59L600.84 90.79L601.5 92.81L602.16 95.18L602.82 91.26L603.49 95.79L604.15 94.4L604.81 95.04L605.47 96.89L606.13 114.73L606.79 131.03L607.46 119.86L608.12 117.25L608.78 129.03L609.44 126.62L610.1 155.52L610.76 161.13L611.43 138.58L612.09 140.89L612.75 149.52L613.41 149.51L614.07 139.86L614.74 135.92L615.4 132.82L616.06 153.51L616.72 153.9L617.38 144.97L618.04 138.47L618.7 127.39L619.37 115.3L620.03 116.13L620.69 123.95L621.35 125.87L622.01 135.96L622.67 137.92L623.34 129.36L624 130.4L624.66 136.14L625.32 155.93L625.98 150.85L626.64 138.89L627.31 135.9L627.97 134.51L628.63 137.96L629.29 149.46L629.95 159.74L630.62 169.94L631.28 165.7L631.94 164.24L632.6 160.3L633.26 156.81L633.92 142.05L634.58 141.63L635.25 141.38L635.91 127.92L636.57 148.22L637.23 131.07L637.89 136.73L638.55 134.54L639.22 132.6L639.88 134.19L640.54 132.29L641.2 130.7L641.86 124.57L642.52 127.55L643.19 121.34L643.85 142.87L644.51 146.67L645.17 161.14L645.83 151.35L646.5 153.57L647.16 153.35L647.82 139.85L648.48 139.96L649.14 147.04L649.8 166.34L650.46 125.06L651.13 138.11L651.79 123.4L652.45 114.56L653.11 132.21L653.77 132.58L654.43 130.95L655.1 156.51L655.76 163.84L656.42 152.38L657.08 143.01L657.74 153.5L658.4 142.91L659.07 136.33L659.73 140.44L660.39 150.84L661.05 144.62L661.71 145.87L662.38 163.86L663.04 154.13L663.7 144.72L664.36 134.39L665.02 137.57L665.68 139.14L666.34 128.26L667.01 135.3L667.67 145.78L668.33 154.53L668.99 131.9L669.65 151.64L670.31 147.11L670.98 144.78L671.64 155.04L672.3 159.33"/>
<path d="M513.5 37.18L514.16 35.72L514.82 34.74L515.49 35.97L516.15 37.7L516.81 37.02L517.47 39.3L518.13 44.07L518.79 42.07L519.46 41.9L520.12 41.74L520.78 44L521.44 42.64L522.1 42.96L522.76 42.6L523.42 44.9L524.09 44.85L524.75 45.29L525.41 43.1L526.07 43.45L526.73 43.55L527.39 40.88L528.06 46.96L528.72 46.26L529.38 52.58L530.04 50.94L530.7 51.23L531.37 52.75L532.03 50.84L532.69 48.24L533.35 49.73L534.01 50.74L534.67 51.97L535.34 54.6L536 54.79L536.66 55.08L537.32 55.26L537.98 54.7L538.64 56.16L539.3 54.37L539.97 54.91L540.63 57.26L541.29 58.18L541.95 59.41L542.61 59.5L543.27 57.31L543.94 55.99L544.6 56.95L545.26 58.22L545.92 59.59L546.58 61.03L547.25 61.02L547.91 60.27L548.57 62.39L549.23 66.23L549.89 65.26L550.55 65.5L551.22 63.61L551.88 64.31L552.54 63.2L553.2 63.18L553.86 62.55L554.52 65.78L555.18 66.79L555.85 68.23L556.51 67.18L557.17 69.24L557.83 73.1L558.49 70.72L559.15 68.47L559.82 69.52L560.48 70.85L561.14 71.73L561.8 72.71L562.46 73.73L563.12 71.74L563.79 73.55L564.45 74.34L565.11 74.98L565.77 75.6L566.43 75.63L567.1 75.88L567.76 75L568.42 78.24L569.08 80.32L569.74 77.5L570.4 78.49L571.06 79.99L571.73 79.81L572.39 77.3L573.05 78.22L573.71 80.2L574.37 79.67L575.03 79.15L575.7 80.68L576.36 80.26L577.02 82.31L577.68 82.82L578.34 85.1L579 86.3L579.67 85.99L580.33 81.04L580.99 78.25L581.65 75.93L582.31 79.39L582.98 78.74L583.64 80.06L584.3 76.92L584.96 79.22L585.62 79.47L586.28 80.72L586.94 84.07L587.61 81.64L588.27 87.13L588.93 84.01L589.59 85.18L590.25 84.53L590.91 85.48L591.58 87.36L592.24 90.19L592.9 88.55L593.56 105.16L594.22 80.79L594.88 80.95L595.55 85.85L596.21 86.2L596.87 90.88L597.53 90.92L598.19 85.52L598.86 87.39L599.52 87.91L600.18 90.59L600.84 88.23L601.5 87L602.16 87.11L602.82 88.27L603.49 86.85L604.15 87.37L604.81 88.45L605.47 89.3L606.13 95.09L606.79 94.01L607.46 92.62L608.12 91.26L608.78 85.85L609.44 85.82L610.1 88.51L610.76 87.01L611.43 87.74L612.09 90.76L612.75 91.46L613.41 97.27L614.07 98.54L614.74 94.6L615.4 82.96L616.06 89.63L616.72 92.25L617.38 94.79L618.04 88.89L618.7 98.74L619.37 94.97L620.03 138.06L620.69 97.2L621.35 92.65L622.01 94.11L622.67 91.88L623.34 91.48L624 88.45L624.66 97.68L625.32 88.28L625.98 93.95L626.64 96.52L627.31 97.22L627.97 90.64L628.63 90.02L629.29 88.38L629.95 83.33L630.62 124.18L631.28 86.49L631.94 88.32L632.6 109.39L633.26 115.04L633.92 91.25L634.58 89.88L635.25 94.55L635.91 94.51L636.57 96.5L637.23 90.89L637.89 97.01L638.55 125.83L639.22 98.62L639.88 92.73L640.54 92.89L641.2 96.21L641.86 94.46L642.52 98.5L643.19 97.37L643.85 96.73L644.51 88.92L645.17 91.65L645.83 90.18L646.5 89.45L647.16 82.15L647.82 86.12L648.48 91.4L649.14 95.94L649.8 91.4L650.46 91.56L651.13 95.58L651.79 94.47L652.45 94.12L653.11 92.25L653.77 89.64L654.43 93.48L655.1 87.03L655.76 88.28L656.42 87.06L657.08 87.54L657.74 88.04L658.4 102.65L659.07 85.84L659.73 90.18L660.39 95.3L661.05 90.95L661.71 84.51L662.38 85.72L663.04 108.65L663.7 90.92L664.36 92.37L665.02 92.73L665.68 91.87L666.34 92.09L667.01 93.94L667.67 90.81L668.33 91.84L668.99 89.29L669.65 87.53L670.31 93.31L670.98 90.44L671.64 88.64L672.3 91.09"/>
<path d="M513.5 31.4L514.16 33.68L514.82 32.91L515.49 32.71L516.15 32.15L516.81 34.31L517.47 32.51L518.13 35.76L518.79 34.87L519.46 35.31L520.12 35.91L520.78 38.81L521.44 38.07L522.1 39.05L522.76 39.49L523.42 38.61L524.09 42.14L524.75 44.03L525.41 43.61L526.07 44.04L526.73 43.86L527.39 44.01L528.06 44.86L528.72 43.98L529.38 45.18L530.04 43.19L530.7 47.63L531.37 45.89L532.03 45.18L532.69 45.51L533.35 46.39L534.01 47.93L534.67 48.03L535.34 52.06L536 51.78L536.66 52.17L537.32 52.07L537.98 52L538.64 51.97L539.3 52.38L539.97 52.71L540.63 53.15L541.29 52.65L541.95 54.36L542.61 54.51L543.27 55.47L543.94 56.78L544.6 57.97L545.26 58.15L545.92 58.31L546.58 57.85L547.25 57.98L547.91 58.15L548.57 60.89L549.23 60.96L549.89 62.39L550.55 61.57L551.22 64.84L551.88 63.62L552.54 60.88L553.2 60.57L553.86 62.79L554.52 66.46L555.18 65.8L555.85 66.07L556.51 66.74L557.17 67.07L557.83 65.99L558.49 67.71L559.15 70.22L559.82 69.27L560.48 69.72L561.14 71.5L561.8 72.11L562.46 70.98L563.12 72.62L563.79 72.64L564.45 75.85L565.11 74.11L565.77 74.26L566.43 76.43L567.1 75.61L567.76 75.12L568.42 74.85L569.08 76.83L569.74 76.08L570.4 77.31L571.06 80.31L571.73 76.7L572.39 78.21L573.05 78.3L573.71 80.45L574.37 81.69L575.03 82.67L575.7 82.84L576.36 79.69L577.02 80.2L577.68 81.93L578.34 83.98L579 84.1L579.67 84.43L580.33 86.23L580.99 86.76L581.65 89.38L582.31 85.59L582.98 83.1L583.64 85.18L584.3 85.5L584.96 85.14L585.62 86.6L586.28 89.15L586.94 90.19L587.61 90.45L588.27 89.23L588.93 90.76L589.59 93.35L590.25 114.84L590.91 89.65L591.58 92.76L592.24 90.32L592.9 93.48L593.56 90.92L594.22 90.89L594.88 90.03L595.55 92.76L596.21 94.78L596.87 91.95L597.53 91.47L598.19 92.52L598.86 89.1L599.52 90.71L600.18 90.65L600.84 93.26L601.5 94.27L602.16 92.42L602.82 93.4L603.49 95.56L604.15 99.9L604.81 110.78L605.47 98.34L606.13 112.67L606.79 102.7L607.46 102.99L608.12 137.71L608.78 98.88L609.44 111.74L610.1 96.48L610.76 94.57L611.43 95.2L612.09 95.56L612.75 95.32L613.41 99.26L614.07 101.42L614.74 101.29L615.4 99.47L616.06 97.26L616.72 99.86L617.38 117.07L618.04 96.27L618.7 100.13L619.37 99.68L620.03 98.66L620.69 99.7L621.35 94.78L622.01 98.49L622.67 106.52L623.34 98.98L624 98.25L624.66 102.87L625.32 97.88L625.98 103.5L626.64 101.47L627.31 105.7L627.97 102.63L628.63 102.8L629.29 101.64L629.95 107.84L630.62 106.16L631.28 108.01L631.94 105.22L632.6 105.46L633.26 111.83L633.92 111.85L634.58 107.5L635.25 107.44L635.91 110.72L636.57 118.37L637.23 101.46L637.89 100.58L638.55 101.16L639.22 131.76L639.88 104.76L640.54 96.76L641.2 111.35L641.86 98.56L642.52 103.57L643.19 100.18L643.85 96.46L644.51 98.88L645.17 100.49L645.83 103.38L646.5 142.19L647.16 103.39L647.82 100.9L648.48 99.73L649.14 100.73L649.8 102.23L650.46 102.88L651.13 102.07L651.79 101.46L652.45 104.78L653.11 106.63L653.77 106.66L654.43 106.65L655.1 101.46L655.76 102.13L656.42 97.99L657.08 97.85L657.74 97.24L658.4 105.13L659.07 98.91L659.73 98.29L660.39 98.94L661.05 100.26L661.71 99.27L662.38 96.95L663.04 106.13L663.7 102.53L664.36 95.25L665.02 100.93L665.68 135.64L666.34 106.91L667.01 104.92L667.67 100.96L668.33 97.07L668.99 105.25L669.65 107.37L670.31 104.01L670.98 97.39L671.64 95.36L672.3 99.6"/>
<path d="M513.5 31.44L514.16 31.3L514.82 33.97L515.49 33.9L516.15 33.63L516.81 35.79L517.47 35.18L518.13 34.46L518.79 36.58L519.46 34.36L520.12 38.57L520.78 40.03L521.44 39.56L522.1 38.75L522.76 37.91L523.42 38.1L524.09 41.06L524.75 40.17L525.41 39.98L526.07 42.59L526.73 43.46L527.39 44.58L528.06 49.73L528.72 45.6L529.38 48.73L530.04 45.08L530.7 47.91L531.37 48.79L532.03 48.56L532.69 50L533.35 49.66L534.01 48.71L534.67 46.38L535.34 46.66L536 50.48L536.66 50.85L537.32 53.34L537.98 51.86L538.64 54.16L539.3 57.07L539.97 56.3L540.63 57.81L541.29 57.37L541.95 57.7L542.61 55.75L543.27 57.06L543.94 57.09L544.6 57.22L545.26 60.01L545.92 58.22L546.58 56.96L547.25 58.8L547.91 60.21L548.57 61.56L549.23 64.89L549.89 63.39L550.55 60.94L551.22 62.01L551.88 63.34L552.54 62.4L553.2 64.76L553.86 64.94L554.52 67.53L555.18 67.32L555.85 69.48L556.51 66.73L557.17 67.77L557.83 66.32L558.49 66.72L559.15 69.46L559.82 71.4L560.48 71.49L561.14 70.64L561.8 71.13L562.46 70.52L563.12 72.01L563.79 70.29L564.45 71.94L565.11 77.07L565.77 76.9L566.43 79.87L567.1 76.74L567.76 72.41L568.42 75.55L569.08 74.78L569.74 74.86L570.4 74.47L571.06 72.28L571.73 75.14L572.39 75.45L573.05 75.3L573.71 74.23L574.37 76.82L575.03 79.96L575.7 80.92L576.36 82.7L577.02 81.42L577.68 82.1L578.34 80.09L579 84.21L579.67 101.52L580.33 78.53L580.99 78.19L581.65 81.26L582.31 80.46L582.98 79.57L583.64 84.15L584.3 89.55L584.96 90.13L585.62 89.46L586.28 87.64L586.94 86.18L587.61 85.17L588.27 85.66L588.93 80.3L589.59 96.62L590.25 84.61L590.91 89.23L591.58 110.17L592.24 91.2L592.9 89.35L593.56 87.27L594.22 87.46L594.88 90.43L595.55 86.71L596.21 85.75L596.87 86.58L597.53 92.3L598.19 90.25L598.86 86.59L599.52 88.1L600.18 88.61L600.84 93.02L601.5 90.91L602.16 106.89L602.82 89.09L603.49 91.46L604.15 93.73L604.81 94.7L605.47 94.7L606.13 94.5L606.79 147.67L607.46 146.84L608.12 150.96L608.78 158.53L609.44 145.67L610.1 141.48L610.76 132.3L611.43 139.65L612.09 151.37L612.75 145.59L613.41 146.53L614.07 145.35L614.74 145.72L615.4 140.18L616.06 156.06L616.72 160.21L617.38 129.51L618.04 133.55L618.7 126.08L619.37 135.2L620.03 148.64L620.69 141.07L621.35 143.54L622.01 135.43L622.67 164.34L623.34 149.12L624 132.64L624.66 131.21L625.32 147.01L625.98 124.56L626.64 133.56L627.31 134.07L627.97 139.19L628.63 143.62L629.29 149.75L629.95 150.13L630.62 153.43L631.28 152.33L631.94 139.56L632.6 125.67L633.26 115.04L633.92 116.67L634.58 129.88L635.25 136.68L635.91 152.23L636.57 154.93L637.23 143.35L637.89 139.03L638.55 143.07L639.22 144.83L639.88 144.25L640.54 145.77L641.2 154.45L641.86 166.19L642.52 167.64L643.19 159.74L643.85 169.7L644.51 134.54L645.17 141.63L645.83 142.95L646.5 144.15L647.16 146.9L647.82 142.22L648.48 130.29L649.14 124.41L649.8 130.35L650.46 125.88L651.13 131.57L651.79 135.83L652.45 126.42L653.11 135.41L653.77 132.56L654.43 123.13L655.1 156.26L655.76 148.69L656.42 132.55L657.08 137.45L657.74 148.06L658.4 141.64L659.07 141.15L659.73 148.05L660.39 141.2L661.05 133.46L661.71 140.25L662.38 146.4L663.04 152.82L663.7 145.73L664.36 139.82L665.02 130.78L665.68 140.19L666.34 132.76L667.01 129.66L667.67 127.46L668.33 129.53L668.99 143.18L669.65 151.52L670.31 145.03L670.98 136.4L671.64 149.16L672.3 142.56"/>
<path d="M513.5 26.59L514.16 27.13L514.82 28.87L515.49 25.48L516.15 26.43L516.81 26.7L517.47 27.79L518.13 29.12L518.79 27.96L519.46 28.34L520.12 29.52L520.78 31.6L521.44 31.62L522.1 33.49L522.76 31.77L523.42 31.63L524.09 30.73L524.75 35.17L525.41 33.07L526.07 35.49L526.73 37.88L527.39 39.11L528.06 40.61L528.72 43.22L529.38 40.35L530.04 43.16L530.7 42.37L531.37 40.58L532.03 41.04L532.69 43.02L533.35 44.95L534.01 47.36L534.67 48.43L535.34 47.88L536 45.42L536.66 48.24L537.32 48.32L537.98 50.29L538.64 49.36L539.3 50.3L539.97 49.54L540.63 52.11L541.29 52.09L541.95 51.33L542.61 51.82L543.27 52.32L543.94 52.49L544.6 53.87L545.26 55.19L545.92 57.24L546.58 57.59L547.25 58.13L547.91 57.99L548.57 57.03L549.23 55.3L549.89 59.38L550.55 57.24L551.22 59.57L551.88 59.83L552.54 61.19L553.2 63.59L553.86 64.24L554.52 65.45L555.18 63.92L555.85 63.65L556.51 64.35L557.17 66.58L557.83 65.46L558.49 68.25L559.15 67.6L559.82 68.91L560.48 70.24L561.14 70.09L561.8 71.97L562.46 72.61L563.12 73.8L563.79 74.9L564.45 72.32L565.11 72.9L565.77 73.01L566.43 73.51L567.1 72.05L567.76 74.57L568.42 75.73L569.08 77.44L569.74 77.12L570.4 78.94L571.06 81.55L571.73 81.38L572.39 79.01L573.05 79.8L573.71 83.41L574.37 82.3L575.03 81.97L575.7 82.66L576.36 82.2L577.02 83.26L577.68 84.05L578.34 87.18L579 85.85L579.67 88.01L580.33 88.65L580.99 90.52L581.65 94.64L582.31 91.17L582.98 93.17L583.64 91.68L584.3 92.02L584.96 93.05L585.62 92.87L586.28 92.45L586.94 91.08L587.61 91.41L588.27 93.13L588.93 96.4L589.59 96.9L590.25 95.16L590.91 97.56L591.58 96.55L592.24 97.79L592.9 98.19L593.56 98.81L594.22 95.8L594.88 101.2L595.55 99.83L596.21 101.02L596.87 101.14L597.53 98.69L598.19 101.9L598.86 100.59L599.52 102.77L600.18 102.52L600.84 102.27L601.5 103.05L602.16 103.21L602.82 103.72L603.49 105.05L604.15 107.98L604.81 108.61L605.47 107.65L606.13 110.73L606.79 107.89L607.46 106.4L608.12 108.71L608.78 111.12L609.44 110.75L610.1 110.69L610.76 111.3L611.43 136.07L612.09 132.33L612.75 111.79L613.41 116.32L614.07 113.84L614.74 142.67L615.4 110.3L616.06 111.56L616.72 110.64L617.38 106.71L618.04 107.69L618.7 115.18L619.37 112L620.03 111.85L620.69 115.73L621.35 117.38L622.01 114.72L622.67 115.19L623.34 131.35L624 118.43L624.66 118.68L625.32 121.43L625.98 118.75L626.64 116.37L627.31 114.12L627.97 116.82L628.63 116.03L629.29 118.75L629.95 119.76L630.62 124.87L631.28 124.19L631.94 124.04L632.6 124.48L633.26 118.61L633.92 119.02L634.58 125.43L635.25 122.04L635.91 118.88L636.57 116.94L637.23 120.31L637.89 121.21L638.55 121.67L639.22 125.79L639.88 128.04L640.54 120.65L641.2 120.24L641.86 125.48L642.52 120.79L643.19 121.07L643.85 122.34L644.51 116.99L645.17 117.62L645.83 132.13L646.5 115.69L647.16 156.42L647.82 117.01L648.48 122.79L649.14 121.73L649.8 121.66L650.46 124.03L651.13 124.75L651.79 122.38L652.45 121.05L653.11 113.99L653.77 119.24L654.43 120.64L655.1 124.05L655.76 119.29L656.42 117.89L657.08 115.59L657.74 119.08L658.4 117.09L659.07 121.33L659.73 121.58L660.39 116.72L661.05 121.45L661.71 117.02L662.38 122.28L663.04 119.85L663.7 116.84L664.36 124.09L665.02 126.39L665.68 126.04L666.34 126.73L667.01 124.91L667.67 122.62L668.33 118.7L668.99 120.64L669.65 126.2L670.31 124.28L670.98 124.84L671.64 119.78L672.3 115.15"/>
<path d="M513.5 34.07L514.16 35.71L514.82 36.75L515.49 37.51L516.15 37.17L516.81 37.76L517.47 39.55L518.13 36.64L518.79 36.02L519.46 37.65L520.12 41.05L520.78 40.7L521.44 37.84L522.1 40.53L522.76 40.34L523.42 41.26L524.09 43.23L524.75 43L525.41 43.8L526.07 44.59L526.73 42.9L527.39 45.25L528.06 44.58L528.72 41.91L529.38 43.8L530.04 44.92L530.7 49.39L531.37 48.31L532.03 47.18L532.69 49.25L533.35 49.7L534.01 49.88L534.67 49.05L535.34 50.07L536 51.13L536.66 52.52L537.32 55.43L537.98 52.83L538.64 55.99L539.3 54.89L539.97 54.62L540.63 53.7L541.29 56.06L541.95 58.7L542.61 57.51L543.27 56.1L543.94 61.38L544.6 61.84L545.26 62.39L545.92 59.08L546.58 59.66L547.25 60.66L547.91 60.72L548.57 62.7L549.23 63.54L549.89 63.86L550.55 64.39L551.22 66.1L551.88 64.85L552.54 63.79L553.2 64.76L553.86 66.42L554.52 66.95L555.18 69.25L555.85 68.91L556.51 67.79L557.17 67.96L557.83 70.05L558.49 70.5L559.15 70.51L559.82 71.7L560.48 69.47L561.14 70.36L561.8 68.74L562.46 69.99L563.12 70.27L563.79 70.65L564.45 73.02L565.11 73.3L565.77 73.52L566.43 73.81L567.1 74.71L567.76 73.91L568.42 74.87L569.08 74.98L569.74 76.68L570.4 79.54L571.06 80.84L571.73 78.1L572.39 78.25L573.05 77.71L573.71 77.56L574.37 76.34L575.03 78.99L575.7 81.33L576.36 81.92L577.02 83.56L577.68 80.97L578.34 82.4L579 83.48L579.67 83.97L580.33 85.15L580.99 85.03L581.65 79.75L582.31 83.33L582.98 83.19L583.64 84.79L584.3 105.18L584.96 82.41L585.62 81.59L586.28 87.36L586.94 84.44L587.61 87.64L588.27 89.27L588.93 84.66L589.59 86.44L590.25 88.81L590.91 101.51L591.58 91.11L592.24 93.29L592.9 92.02L593.56 88.86L594.22 86.52L594.88 86.23L595.55 88.54L596.21 88.94L596.87 91.35L597.53 91.83L598.19 91.05L598.86 85.55L599.52 86.89L600.18 90.41L600.84 88.47L601.5 93.92L602.16 91.23L602.82 90.29L603.49 97.88L604.15 94.31L604.81 92.91L605.47 95.84L606.13 95.61L606.79 111.65L607.46 106.5L608.12 94.86L608.78 100.48L609.44 98.06L610.1 94.58L610.76 94.31L611.43 94.83L612.09 91.15L612.75 94.13L613.41 93.44L614.07 94.39L614.74 97.63L615.4 95.99L616.06 90.91L616.72 98.46L617.38 95.86L618.04 98.35L618.7 103.86L619.37 98.48L620.03 99.12L620.69 97.8L621.35 93.47L622.01 93.22L622.67 97.44L623.34 101.82L624 98.7L624.66 96.72L625.32 94.21L625.98 95.56L626.64 96.96L627.31 97.28L627.97 93.43L628.63 94.03L629.29 96.11L629.95 94.47L630.62 96L631.28 98.81L631.94 98.76L632.6 99.78L633.26 97.72L633.92 97.88L634.58 98.6L635.25 102.9L635.91 102.76L636.57 94.09L637.23 99.42L637.89 93.79L638.55 95.59L639.22 96.62L639.88 99.67L640.54 96.88L641.2 113.15L641.86 97.55L642.52 95.68L643.19 131.03L643.85 123.41L644.51 99.77L645.17 103.98L645.83 103.81L646.5 98.09L647.16 92.55L647.82 95.5L648.48 100.3L649.14 99.24L649.8 95.78L650.46 92.21L651.13 101.28L651.79 100.83L652.45 96.66L653.11 100.96L653.77 103.74L654.43 99.44L655.1 103.1L655.76 98.41L656.42 95.42L657.08 99.76L657.74 98.62L658.4 95.76L659.07 103.31L659.73 102.72L660.39 96.92L661.05 99.42L661.71 96.88L662.38 97.15L663.04 98.55L663.7 99.35L664.36 95.27L665.02 97.27L665.68 111.75L666.34 97.33L667.01 99.71L667.67 98.3L668.33 99.95L668.99 105.16L669.65 98.19L670.31 91.74L670.98 96.11L671.64 97.49L672.3 95.88"/>
<path d="M513.5 27.5L514.16 28.43L514.82 30.75L515.49 32.74L516.15 31.3L516.81 32.54L517.47 30.49L518.13 32.12L518.79 33.25L519.46 33.44L520.12 34.81L520.78 36.86L521.44 35.92L522.1 37.73L522.76 37.21L523.42 38.58L524.09 39.77L524.75 39.83L525.41 39.8L526.07 43.07L526.73 44.63L527.39 44.06L528.06 43.93L528.72 45.62L529.38 44.21L530.04 43.52L530.7 46.15L531.37 46.84L532.03 46.17L532.69 46.33L533.35 47.61L534.01 47.6L534.67 47.07L535.34 50.11L536 50.82L536.66 50.22L537.32 51.19L537.98 52.01L538.64 50.24L539.3 51.8L539.97 56.58L540.63 55.13L541.29 55.25L541.95 57.84L542.61 57.31L543.27 58.26L543.94 58.91L544.6 57.82L545.26 60.05L545.92 58.05L546.58 59.14L547.25 62.83L547.91 61.61L548.57 61.05L549.23 62.43L549.89 62.07L550.55 61.87L551.22 63.67L551.88 66.43L552.54 67.27L553.2 67.89L553.86 67.26L554.52 68.54L555.18 68.84L555.85 69.54L556.51 71.04L557.17 69.15L557.83 69.26L558.49 67.02L559.15 69.73L559.82 71.13L560.48 71.85L561.14 73.75L561.8 75.41L562.46 77.27L563.12 77.51L563.79 75.74L564.45 77.77L565.11 77.78L565.77 76.73L566.43 76.42L567.1 78.49L567.76 77.46L568.42 79.08L569.08 80.48L569.74 80.75L570.4 81L571.06 84.15L571.73 83.65L572.39 84.73L573.05 85.3L573.71 87.23L574.37 86.54L575.03 84.41L575.7 86.23L576.36 84.44L577.02 84.61L577.68 83.67L578.34 87.27L579 86.96L579.67 88.67L580.33 90.34L580.99 88.62L581.65 90.12L582.31 88.99L582.98 91.38L583.64 95.29L584.3 96.38L584.96 96.47L585.62 95.27L586.28 94.82L586.94 95.35L587.61 93.13L588.27 102.69L588.93 93.05L589.59 94.06L590.25 89.26L590.91 93L591.58 100.6L592.24 96.84L592.9 93.85L593.56 93.63L594.22 97.13L594.88 100.7L595.55 118.94L596.21 98.79L596.87 101.92L597.53 100.57L598.19 97.71L598.86 97.31L599.52 96.44L600.18 98.25L600.84 96.35L601.5 102.8L602.16 113.49L602.82 113.72L603.49 97.87L604.15 102.23L604.81 96.59L605.47 104.47L606.13 130.63L606.79 148.9L607.46 150.13L608.12 164.21L608.78 153.77L609.44 135.23L610.1 140.48L610.76 135.93L611.43 143.09L612.09 141.77L612.75 157.35L613.41 143.13L614.07 132.67L614.74 116.73L615.4 115.9L616.06 132.34L616.72 146.7L617.38 136.47L618.04 122.21L618.7 127.88L619.37 134.39L620.03 127.77L620.69 128.55L621.35 130.3L622.01 130.41L622.67 127.32L623.34 132.95L624 126.66L624.66 122.02L625.32 136.76L625.98 132.7L626.64 136.67L627.31 132.57L627.97 131.91L628.63 135.32L629.29 159.89L629.95 167.13L630.62 146.2L631.28 144.65L631.94 119.13L632.6 116.57L633.26 124L633.92 115.25L634.58 139.44L635.25 127.85L635.91 127.3L636.57 144.05L637.23 128.24L637.89 125.59L638.55 123.69L639.22 140.53L639.88 146.5L640.54 175.61L641.2 148.58L641.86 149.25L642.52 148.93L643.19 144.63L643.85 134.3L644.51 132.58L645.17 137.79L645.83 149.46L646.5 129.71L647.16 132.01L647.82 137.43L648.48 162.36L649.14 149.92L649.8 159.98L650.46 160.04L651.13 146.15L651.79 162.1L652.45 164.4L653.11 148.44L653.77 155.48L654.43 148.97L655.1 148.56L655.76 157.01L656.42 152.96L657.08 162.4L657.74 152.94L658.4 164.69L659.07 151.78L659.73 149.92L660.39 165.21L661.05 139.85L661.71 148.02L662.38 139.96L663.04 136.3L663.7 138.5L664.36 128.83L665.02 131.03L665.68 136.67L666.34 140.04L667.01 118.72L667.67 128.15L668.33 138.66L668.99 147.81L669.65 128.46L670.31 129.57L670.98 129.43L671.64 118.41L672.3 143.46"/>
<path d="M513.5 32.62L514.16 34.49L514.82 36.05L515.49 37.63L516.15 37.04L516.81 35.74L517.47 37.63L518.13 39.93L518.79 39.52L519.46 40.3L520.12 40.59L520.78 41.7L521.44 42.11L522.1 43.85L522.76 40.86L523.42 42.49L524.09 41.98L524.75 45L525.41 46.56L526.07 46L526.73 47.97L527.39 46.76L528.06 45.92L528.72 47.88L529.38 48.65L530.04 48.6L530.7 49.71L531.37 51.12L532.03 48.53L532.69 51.8L533.35 49.68L534.01 53.57L534.67 53.84L535.34 55.65L536 55.96L536.66 54.59L537.32 53.01L537.98 53.81L538.64 54.66L539.3 54.32L539.97 56.23L540.63 58.54L541.29 58.63L541.95 58.33L542.61 58.17L543.27 57.95L543.94 57.22L544.6 56.17L545.26 58.41L545.92 63.67L546.58 60.75L547.25 64.66L547.91 63.97L548.57 62.86L549.23 63.14L549.89 63.43L550.55 67.96L551.22 70.76L551.88 68.46L552.54 66.7L553.2 67.1L553.86 68.51L554.52 67.51L555.18 68.99L555.85 70.63L556.51 68.12L557.17 69.17L557.83 72.36L558.49 72.24L559.15 72.41L559.82 71.82L560.48 73.62L561.14 70L561.8 75.09L562.46 75.29L563.12 76.57L563.79 76.52L564.45 78.93L565.11 78.53L565.77 79.99L566.43 81.69L567.1 80.82L567.76 80.72L568.42 78.67L569.08 78.38L569.74 81.96L570.4 80.95L571.06 82.84L571.73 84.63L572.39 83.04L573.05 80.71L573.71 84.48L574.37 87.06L575.03 84L575.7 82.58L576.36 84.98L577.02 86.76L577.68 85.7L578.34 87.49L579 91.33L579.67 90.69L580.33 90.23L580.99 88.58L581.65 87.56L582.31 86.49L582.98 87.75L583.64 88.77L584.3 91.32L584.96 90.2L585.62 90.19L586.28 93.76L586.94 95.47L587.61 94.36L588.27 94.29L588.93 94.3L589.59 93.93L590.25 115.44L590.91 91.77L591.58 92.49L592.24 118.38L592.9 94.29L593.56 93.27L594.22 92.09L594.88 94.7L595.55 96.05L596.21 98.28L596.87 97.02L597.53 95.06L598.19 95.85L598.86 100.06L599.52 99.26L600.18 94.29L600.84 95.37L601.5 98.22L602.16 103.99L602.82 101.84L603.49 102.36L604.15 101.57L604.81 100.87L605.47 100.95L606.13 98.48L606.79 104.29L607.46 136.78L608.12 101.72L608.78 102.86L609.44 97.94L610.1 111.21L610.76 100.93L611.43 115.97L612.09 101.56L612.75 101.39L613.41 103.77L614.07 106.19L614.74 105.1L615.4 104.79L616.06 99.22L616.72 99.06L617.38 123.29L618.04 105.36L618.7 102.21L619.37 101.94L620.03 119.08L620.69 107.7L621.35 101.5L622.01 109.46L622.67 130.83L623.34 107.44L624 105.06L624.66 111.06L625.32 109.29L625.98 104.02L626.64 104.72L627.31 101.84L627.97 102.59L628.63 98.82L629.29 93.41L629.95 99.9L630.62 100.49L631.28 133.49L631.94 103.33L632.6 100.12L633.26 104.37L633.92 107.41L634.58 110.22L635.25 109.94L635.91 105.14L636.57 106.02L637.23 106.24L637.89 106.43L638.55 105.84L639.22 104.68L639.88 108.18L640.54 108.82L641.2 102.54L641.86 101.33L642.52 104.73L643.19 110.22L643.85 101.24L644.51 110.05L645.17 110.64L645.83 110.69L646.5 106.34L647.16 102.35L647.82 105.91L648.48 102.93L649.14 103.84L649.8 108.06L650.46 111.43L651.13 120.13L651.79 113.74L652.45 115.26L653.11 105.31L653.77 105.36L654.43 110.96L655.1 108.49L655.76 112.4L656.42 104.16L657.08 103.35L657.74 105.48L658.4 108.08L659.07 101.17L659.73 109.66L660.39 109.74L661.05 108.96L661.71 131.65L662.38 104.91L663.04 103.57L663.7 104.46L664.36 107.4L665.02 105.09L665.68 103.46L666.34 103.51L667.01 109.82L667.67 111.35L668.33 106.25L668.99 109.68L669.65 111.79L670.31 107.37L670.98 100.99L671.64 103.46L672.3 101.79"/>
<path d="M513.5 36.41L514.16 37.72L514.82 35.67L515.49 37.07L516.15 38.27L516.81 39.47L517.47 38.41L518.13 38.38L518.79 41.49L519.46 43.17L520.12 44.26L520.78 43.93L521.44 41.56L522.1 43.51L522.76 44.09L523.42 42.74L524.09 44.58L524.75 45.57L525.41 45.56L526.07 45.99L526.73 47.46L527.39 49.17L528.06 48.79L528.72 50.02L529.38 50.52L530.04 51.58L530.7 50.7L531.37 49.03L532.03 49.76L532.69 51.51L533.35 52.22L534.01 53.55L534.67 54.24L535.34 54.13L536 53.19L536.66 56.06L537.32 55.27L537.98 59L538.64 56.52L539.3 56.8L539.97 57.35L540.63 58.8L541.29 57.16L541.95 57.84L542.61 57.97L543.27 62.49L543.94 63.47L544.6 63.53L545.26 65.53L545.92 64.96L546.58 63.32L547.25 64.55L547.91 65.49L548.57 65.63L549.23 65.81L549.89 67.51L550.55 68.78L551.22 69.78L551.88 66.28L552.54 65.9L553.2 68.83L553.86 68.7L554.52 70L555.18 68.44L555.85 70.96L556.51 70.27L557.17 72.18L557.83 75.3L558.49 75.09L559.15 73.27L559.82 75.2L560.48 77.04L561.14 74.85L561.8 76.98L562.46 75.58L563.12 78.42L563.79 78.01L564.45 75.53L565.11 77.34L565.77 73.48L566.43 74.16L567.1 77.39L567.76 80.06L568.42 79.31L569.08 75.48L569.74 75.96L570.4 79.36L571.06 79.1L571.73 79.29L572.39 81.13L573.05 82.14L573.71 82.99L574.37 81.94L575.03 79.93L575.7 80.53L576.36 82.4L577.02 81.91L577.68 81.86L578.34 79.23L579 85.08L579.67 88.05L580.33 83.98L580.99 86.82L581.65 98.36L582.31 88.18L582.98 86.87L583.64 88.02L584.3 79.59L584.96 83.78L585.62 94.43L586.28 79L586.94 80.41L587.61 84.27L588.27 90.05L588.93 90.77L589.59 86.35L590.25 89.7L590.91 87.38L591.58 92.27L592.24 106.94L592.9 88.02L593.56 84.94L594.22 91.58L594.88 97.04L595.55 90.19L596.21 89.45L596.87 93.07L597.53 85.96L598.19 88.28L598.86 88.67L599.52 88.79L600.18 86.47L600.84 84.33L601.5 84.58L602.16 87.65L602.82 90.71L603.49 92.26L604.15 91.79L604.81 93.13L605.47 88.12L606.13 85.77L606.79 88.09L607.46 88.34L608.12 89.5L608.78 93.06L609.44 93.19L610.1 92.2L610.76 123.51L611.43 86.71L612.09 88.29L612.75 89.71L613.41 99.25L614.07 99.65L614.74 94.57L615.4 120.08L616.06 91.68L616.72 88.38L617.38 95.26L618.04 97.43L618.7 91.69L619.37 103.51L620.03 97.91L620.69 103.16L621.35 93.41L622.01 90.95L622.67 90.35L623.34 96.68L624 91.68L624.66 80.51L625.32 81.66L625.98 91.3L626.64 90.55L627.31 94.57L627.97 93.31L628.63 95.94L629.29 86.35L629.95 90.22L630.62 89.46L631.28 94.33L631.94 101.03L632.6 115.46L633.26 101.52L633.92 96.15L634.58 94.56L635.25 95.53L635.91 99.24L636.57 98.88L637.23 94.72L637.89 98.07L638.55 95.79L639.22 91.53L639.88 92.01L640.54 95.43L641.2 113.3L641.86 96.17L642.52 96.37L643.19 96.24L643.85 95.42L644.51 96.05L645.17 90.75L645.83 94.22L646.5 95.35L647.16 95.98L647.82 95.34L648.48 89.97L649.14 96.58L649.8 126.23L650.46 95.58L651.13 91.18L651.79 129.99L652.45 110.9L653.11 99.18L653.77 96.43L654.43 96.97L655.1 88.85L655.76 95.21L656.42 95.47L657.08 101.27L657.74 96.23L658.4 93.94L659.07 94.85L659.73 91.05L660.39 99L661.05 96.61L661.71 91.72L662.38 90.83L663.04 98.1L663.7 94.86L664.36 117.64L665.02 90.86L665.68 94.19L666.34 95.02L667.01 94.01L667.67 90.84L668.33 90.63L668.99 94.51L669.65 89.54L670.31 92.37L670.98 90.75L671.64 90.29L672.3 96.42"/>
<path d="M513.5 35.08L514.16 37.42L514.82 35.82L515.49 36.79L516.15 36.65L516.81 38.54L517.47 40.76L518.13 41.18L518.79 42.41L519.46 43.24L520.12 45.83L520.78 44.62L521.44 46.79L522.1 45.22L522.76 44.5L523.42 48.22L524.09 49.25L524.75 46.7L525.41 48.05L526.07 51.67L526.73 48.09L527.39 48.87L528.06 49.65L528.72 51.56L529.38 52.79L530.04 53.08L530.7 53.28L531.37 55.75L532.03 52.83L532.69 51.6L533.35 55.7L534.01 54.4L534.67 54.13L535.34 57.85L536 59.25L536.66 56.2L537.32 57.86L537.98 58.73L538.64 58.47L539.3 58.85L539.97 60.35L540.63 61.51L541.29 60.85L541.95 61.52L542.61 62.9L543.27 64.94L543.94 66.3L544.6 66.22L545.26 66.87L545.92 65.21L546.58 67.78L547.25 70.49L547.91 69.42L548.57 67.33L549.23 69.8L549.89 72.1L550.55 72.92L551.22 70.76L551.88 71L552.54 73.59L553.2 74.44L553.86 77.24L554.52 73.71L555.18 76.37L555.85 76.82L556.51 75.56L557.17 75.18L557.83 76.85L558.49 76.03L559.15 76.49L559.82 79.2L560.48 80.63L561.14 83.29L561.8 81.88L562.46 81.78L563.12 82.34L563.79 84.64L564.45 85.09L565.11 85.25L565.77 86.57L566.43 87.22L567.1 86.52L567.76 87.99L568.42 86.66L569.08 88.18L569.74 91.03L570.4 92.45L571.06 91.53L571.73 92.09L572.39 91.5L573.05 90.3L573.71 92.03L574.37 94.99L575.03 94.47L575.7 95.13L576.36 95.44L577.02 95.65L577.68 96.1L578.34 96.69L579 98.57L579.67 98.62L580.33 96.54L580.99 96.45L581.65 97.97L582.31 101.79L582.98 98.18L583.64 100.5L584.3 100.91L584.96 101.46L585.62 101.01L586.28 101.01L586.94 102.7L587.61 104.17L588.27 104.96L588.93 105.57L589.59 105.15L590.25 106.74L590.91 105.95L591.58 108.88L592.24 106.99L592.9 108.22L593.56 111.75L594.22 113.2L594.88 112.65L595.55 111.36L596.21 109.59L596.87 109.22L597.53 111.26L598.19 129.14L598.86 113.79L599.52 110.98L600.18 135.84L600.84 113.84L601.5 128.13L602.16 114.05L602.82 111.13L603.49 111.5L604.15 113.06L604.81 108.66L605.47 111.06L606.13 116.77L606.79 133.67L607.46 138.49L608.12 139.73L608.78 163.01L609.44 146.03L610.1 120.5L610.76 136.91L611.43 146.07L612.09 152.92L612.75 154.61L613.41 148.54L614.07 146.69L614.74 148.7L615.4 153.04L616.06 144.74L616.72 155.17L617.38 147.8L618.04 146.21L618.7 133.37L619.37 129.84L620.03 145.04L620.69 135.83L621.35 132L622.01 141.68L622.67 131.28L623.34 123.69L624 134.05L624.66 128.38L625.32 148.59L625.98 148.97L626.64 137.31L627.31 157.28L627.97 124.62L628.63 125.05L629.29 129.3L629.95 129.53L630.62 139.46L631.28 134.32L631.94 139.41L632.6 129.87L633.26 149.06L633.92 159.3L634.58 170.47L635.25 156.9L635.91 158.18L636.57 143.91L637.23 155.71L637.89 156.41L638.55 155.45L639.22 148.76L639.88 142.79L640.54 153.17L641.2 141.92L641.86 168.69L642.52 149.79L643.19 121.07L643.85 130.56L644.51 136.64L645.17 125.69L645.83 121.22L646.5 146.97L647.16 132.42L647.82 140.74L648.48 142.35L649.14 142.54L649.8 131.28L650.46 143.55L651.13 175.61L651.79 172.14L652.45 171.32L653.11 158.39L653.77 157.31L654.43 170.06L655.1 145.27L655.76 133.32L656.42 135.93L657.08 124.12L657.74 135.82L658.4 127.34L659.07 140.7L659.73 130.43L660.39 130.04L661.05 130.83L661.71 141.55L662.38 140.56L663.04 149.29L663.7 142.49L664.36 129.67L665.02 131.52L665.68 133.32L666.34 141.34L667.01 137.31L667.67 136.35L668.33 146.07L668.99 123.75L669.65 131.81L670.31 153.16L670.98 142.97L671.64 136.34L672.3 136.85"/>
<path d="M513.5 27.97L514.16 27.68L514.82 28.93L515.49 29.51L516.15 31.58L516.81 32.61L517.47 31.79L518.13 32.41L518.79 32.48L519.46 34.33L520.12 35.93L520.78 35.23L521.44 34.39L522.1 34.95L522.76 38.24L523.42 40.94L524.09 39.48L524.75 41.45L525.41 40.74L526.07 40.12L526.73 39.15L527.39 41.95L528.06 41.32L528.72 45.06L529.38 43.36L530.04 43L530.7 43.38L531.37 43.47L532.03 44.11L532.69 44.78L533.35 47.72L534.01 48.29L534.67 49.22L535.34 49.38L536 50.66L536.66 51.74L537.32 50.99L537.98 53L538.64 52.47L539.3 55.37L539.97 55.81L540.63 55.87L541.29 55.47L541.95 54.48L542.61 57.61L543.27 56.28L543.94 55.57L544.6 53.93L545.26 55.31L545.92 58.34L546.58 60.26L547.25 58.11L547.91 58.98L548.57 57.52L549.23 63.01L549.89 64.11L550.55 62.14L551.22 63.84L551.88 65.71L552.54 62.98L553.2 65.33L553.86 66.69L554.52 68.11L555.18 67.63L555.85 63.72L556.51 66.18L557.17 65.18L557.83 70.9L558.49 70.39L559.15 72.5L559.82 72.74L560.48 72.45L561.14 70.75L561.8 72.62L562.46 75.2L563.12 73.95L563.79 72.35L564.45 72L565.11 74.3L565.77 74.47L566.43 75.72L567.1 75.91L567.76 77.97L568.42 78.11L569.08 79.73L569.74 80.11L570.4 79.17L571.06 80.53L571.73 79.41L572.39 78.92L573.05 81.44L573.71 78.23L574.37 80.58L575.03 83.51L575.7 79.86L576.36 82.39L577.02 82.98L577.68 81.61L578.34 80.03L579 80.01L579.67 86.21L580.33 86.34L580.99 84.91L581.65 85.83L582.31 90.13L582.98 91.58L583.64 90.04L584.3 88.43L584.96 92.01L585.62 88.14L586.28 90.57L586.94 87.6L587.61 91.46L588.27 111.99L588.93 93.16L589.59 95.95L590.25 87.01L590.91 87.45L591.58 92.88L592.24 88.44L592.9 89.41L593.56 90.79L594.22 89.94L594.88 106.81L595.55 101.75L596.21 93.82L596.87 93.45L597.53 92.2L598.19 92.48L598.86 97.74L599.52 97.63L600.18 100.02L600.84 96.45L601.5 87.36L602.16 90.62L602.82 91.41L603.49 90.76L604.15 92.55L604.81 95.14L605.47 93.17L606.13 92.91L606.79 89.46L607.46 95.21L608.12 100.01L608.78 97.43L609.44 97.5L610.1 95.67L610.76 91.7L611.43 93.64L612.09 93.47L612.75 98.08L613.41 95.83L614.07 94.17L614.74 97.71L615.4 97.08L616.06 91.27L616.72 92.25L617.38 94.26L618.04 103.26L618.7 101.52L619.37 96.79L620.03 100.6L620.69 92.68L621.35 91.29L622.01 94.18L622.67 90.72L623.34 89.1L624 93.72L624.66 100.43L625.32 100.5L625.98 99.43L626.64 100.62L627.31 101.4L627.97 94.79L628.63 99.04L629.29 131.21L629.95 98.38L630.62 94.92L631.28 96.85L631.94 94.23L632.6 91.57L633.26 92.28L633.92 96.31L634.58 95.91L635.25 96.19L635.91 97.03L636.57 92.52L637.23 95.1L637.89 100.11L638.55 119.96L639.22 97.83L639.88 103.84L640.54 100.4L641.2 95.32L641.86 120.47L642.52 98.29L643.19 98.04L643.85 95.28L644.51 92.62L645.17 127.09L645.83 132.55L646.5 95.77L647.16 109.27L647.82 96.53L648.48 100.54L649.14 100.18L649.8 103.21L650.46 104.23L651.13 99.71L651.79 101.55L652.45 98.84L653.11 102.24L653.77 98.05L654.43 102.4L655.1 100.9L655.76 99.43L656.42 104.77L657.08 95.71L657.74 97.4L658.4 98.35L659.07 92.79L659.73 90.33L660.39 96.49L661.05 98.17L661.71 97.42L662.38 94.17L663.04 108.28L663.7 97.59L664.36 101.31L665.02 98.72L665.68 94.96L666.34 94.58L667.01 95.92L667.67 96.02L668.33 103.4L668.99 99.85L669.65 99.86L670.31 101.99L670.98 114.25L671.64 100.38L672.3 91.88"/>
<path d="M513.5 26.35L514.16 28.55L514.82 29.65L515.49 30.82L516.15 30.71L516.81 31.31L517.47 30.01L518.13 31.43L518.79 31.89L519.46 32.57L520.12 34.08L520.78 34.85L521.44 35.27L522.1 33.96L522.76 32.97L523.42 36.8L524.09 37.32L524.75 36.12L525.41 37.25L526.07 37.79L526.73 38.03L527.39 37.08L528.06 40.56L528.72 39.98L529.38 41.39L530.04 43.91L530.7 41.33L531.37 43.32L532.03 43.95L532.69 42.81L533.35 43.07L534.01 45.15L534.67 46.25L535.34 43.06L536 45.5L536.66 45.82L537.32 47.85L537.98 50.58L538.64 48.83L539.3 48.84L539.97 48.77L540.63 48.99L541.29 49.53L541.95 51.29L542.61 51.48L543.27 49.45L543.94 49.13L544.6 52.64L545.26 54.16L545.92 55.83L546.58 54.19L547.25 53.47L547.91 56.79L548.57 56.77L549.23 59.17L549.89 58.65L550.55 60.72L551.22 61.17L551.88 62.08L552.54 60.14L553.2 61.96L553.86 60.09L554.52 60.91L555.18 58.95L555.85 61.62L556.51 61.48L557.17 63.72L557.83 65.01L558.49 64.74L559.15 66.78L559.82 66.27L560.48 67.32L561.14 67.82L561.8 67.87L562.46 71.37L563.12 69.84L563.79 67.19L564.45 70.53L565.11 68.46L565.77 68.07L566.43 70.01L567.1 70.97L567.76 71.05L568.42 69.9L569.08 70.82L569.74 71.11L570.4 73.14L571.06 74.87L571.73 75.27L572.39 91.06L573.05 76.98L573.71 75.72L574.37 87.56L575.03 75.62L575.7 78.16L576.36 73.45L577.02 74.08L577.68 102.31L578.34 73.44L579 75.73L579.67 75.31L580.33 76.26L580.99 74.09L581.65 76.82L582.31 77.16L582.98 82.89L583.64 81.47L584.3 77.95L584.96 82.25L585.62 79.57L586.28 78.59L586.94 89.02L587.61 95.5L588.27 83.92L588.93 79.02L589.59 76.76L590.25 75.99L590.91 77.45L591.58 81.18L592.24 82.49L592.9 75.94L593.56 76.59L594.22 79.98L594.88 78.08L595.55 78.09L596.21 82.35L596.87 82.35L597.53 80.17L598.19 76.05L598.86 79.29L599.52 82.07L600.18 84.08L600.84 81.52L601.5 83.03L602.16 83.32L602.82 86.31L603.49 85.4L604.15 85.74L604.81 86.31L605.47 85.62L606.13 82.41L606.79 82.89L607.46 79.61L608.12 83.05L608.78 80.73L609.44 86.49L610.1 89.87L610.76 84.64L611.43 81.71L612.09 84.58L612.75 79.51L613.41 75.61L614.07 109.77L614.74 83.21L615.4 127.03L616.06 87.62L616.72 89.17L617.38 86.84L618.04 90.28L618.7 85.19L619.37 79.68L620.03 80.73L620.69 83.16L621.35 83.09L622.01 84.08L622.67 84.33L623.34 86.7L624 81.9L624.66 85.37L625.32 84.41L625.98 83.27L626.64 83.31L627.31 81.08L627.97 85.49L628.63 119.86L629.29 89.44L629.95 87.33L630.62 84.53L631.28 82.05L631.94 88.57L632.6 82.21L633.26 85.5L633.92 85.67L634.58 106.28L635.25 86.08L635.91 83.73L636.57 82.12L637.23 83.19L637.89 83.46L638.55 83.72L639.22 96.31L639.88 84.59L640.54 83.49L641.2 111.61L641.86 86.86L642.52 113.1L643.19 83.08L643.85 89.68L644.51 83.16L645.17 90.05L645.83 89.26L646.5 85.96L647.16 81.52L647.82 87.78L648.48 89.8L649.14 119.6L649.8 88.61L650.46 90.4L651.13 87.97L651.79 94.4L652.45 95.26L653.11 91.3L653.77 91.27L654.43 85.21L655.1 83.22L655.76 84.4L656.42 85.15L657.08 81.32L657.74 86.28L658.4 89.36L659.07 86.5L659.73 86.49L660.39 115.34L661.05 92.05L661.71 102.11L662.38 86.82L663.04 81.5L663.7 80.73L664.36 85.32L665.02 89.93L665.68 91.33L666.34 90.67L667.01 88.23L667.67 88.35L668.33 89.4L668.99 84.75L669.65 85.74L670.31 92.12L670.98 90.65L671.64 89.02L672.3 90.84"/>
<path d="M513.5 33.57L514.16 35.37L514.82 34.6L515.49 33.09L516.15 33.01L516.81 34.96L517.47 34.64L518.13 36.87L518.79 40.71L519.46 37.81L520.12 38.42L520.78 39.01L521.44 37.93L522.1 39.95L522.76 40.33L523.42 42.2L524.09 41.42L524.75 41.39L525.41 43.68L526.07 43.29L526.73 44.1L527.39 48.32L528.06 45.86L528.72 42.88L529.38 45.52L530.04 45.35L530.7 45.78L531.37 47.79L532.03 45.97L532.69 46.72L533.35 50.97L534.01 48.86L534.67 50.77L535.34 51.21L536 52.06L536.66 53.24L537.32 53.26L537.98 55.64L538.64 53.87L539.3 54.91L539.97 54.91L540.63 54.35L541.29 55.07L541.95 55.66L542.61 54.79L543.27 56.94L543.94 57.85L544.6 58.09L545.26 59.5L545.92 60.14L546.58 62.65L547.25 62.72L547.91 62.89L548.57 61.76L549.23 64L549.89 62.56L550.55 62L551.22 60.2L551.88 64.5L552.54 64.06L553.2 64.91L553.86 67.23L554.52 68.25L555.18 67.77L555.85 67.18L556.51 67.17L557.17 67.82L557.83 67.86L558.49 70.66L559.15 69.2L559.82 69.02L560.48 70.23L561.14 72.16L561.8 69.81L562.46 72.5L563.12 75.09L563.79 72.04L564.45 73.19L565.11 74.71L565.77 74.42L566.43 74.58L567.1 72.68L567.76 73.52L568.42 75.64L569.08 75.13L569.74 76.84L570.4 76.23L571.06 76.17L571.73 78.39L572.39 78.81L573.05 80.19L573.71 79.25L574.37 80.32L575.03 82.18L575.7 106.08L576.36 82.75L577.02 76.46L577.68 76.88L578.34 79.55L579 80.96L579.67 81.6L580.33 80.86L580.99 83.29L581.65 81.26L582.31 80.36L582.98 93.2L583.64 85.88L584.3 80.98L584.96 85.35L585.62 88.42L586.28 88.26L586.94 84.47L587.61 87.9L588.27 84.7L588.93 84.73L589.59 85.29L590.25 92.99L590.91 90.24L591.58 89.8L592.24 88.23L592.9 86.83L593.56 90.35L594.22 100.39L594.88 92.8L595.55 86.37L596.21 80.16L596.87 85.35L597.53 83.79L598.19 87.32L598.86 84.78L599.52 86.54L600.18 89.96L600.84 88.64L601.5 92.33L602.16 85.52L602.82 84.68L603.49 105.5L604.15 88.2L604.81 93.89L605.47 90.54L606.13 95.79L606.79 152.19L607.46 149.56L608.12 139.12L608.78 136.86L609.44 151.4L610.1 123.52L610.76 126.82L611.43 134.48L612.09 143.94L612.75 131.27L613.41 138.93L614.07 131.49L614.74 154.95L615.4 126.26L616.06 134.93L616.72 119.35L617.38 128.94L618.04 127.39L618.7 123.16L619.37 138.57L620.03 129.02L620.69 138.96L621.35 141.14L622.01 124.16L622.67 122.95L623.34 119.65L624 119.41L624.66 139.16L625.32 154.43L625.98 143.18L626.64 155.77L627.31 147.24L627.97 136.07L628.63 144.3L629.29 144.35L629.95 164.96L630.62 142.7L631.28 120.12L631.94 127.92L632.6 156.52L633.26 120.71L633.92 131.63L634.58 138.29L635.25 147.09L635.91 141.45L636.57 139.02L637.23 134.47L637.89 144.87L638.55 134.35L639.22 115.83L639.88 121.09L640.54 132.64L641.2 124.61L641.86 133.7L642.52 122.58L643.19 142.36L643.85 130.65L644.51 137.88L645.17 130.41L645.83 130.08L646.5 142.47L647.16 142.61L647.82 154.33L648.48 149.86L649.14 152.44L649.8 152.2L650.46 156.66L651.13 138.74L651.79 147.7L652.45 142.28L653.11 139.57L653.77 157.15L654.43 139.13L655.1 156.14L655.76 128.16L656.42 131.93L657.08 132.69L657.74 124.12L658.4 139.05L659.07 138.96L659.73 131.2L660.39 129.96L661.05 129.49L661.71 134.29L662.38 127.08L663.04 133.06L663.7 139.79L664.36 140.54L665.02 147.36L665.68 175.61L666.34 149.83L667.01 147.11L667.67 163.8L668.33 151.37L668.99 140.37L669.65 147.14L670.31 155.41L670.98 175.61L671.64 151.05L672.3 157.09"/>
<path d="M513.5 22.22L514.16 25.23L514.82 27.74L515.49 26.7L516.15 27.95L516.81 26.98L517.47 27.47L518.13 28.74L518.79 32.03L519.46 31.78L520.12 30.91L520.78 34.28L521.44 30.95L522.1 32.36L522.76 32.75L523.42 32.85L524.09 34.4L524.75 36.15L525.41 32.82L526.07 36.04L526.73 38.1L527.39 39.1L528.06 38.34L528.72 40.41L529.38 40.22L530.04 39.47L530.7 39.62L531.37 38.91L532.03 41.89L532.69 45.33L533.35 44.54L534.01 43.74L534.67 43.16L535.34 43.84L536 46.8L536.66 47.48L537.32 48.26L537.98 47.04L538.64 49.27L539.3 49.81L539.97 47.1L540.63 47.93L541.29 47.99L541.95 46.85L542.61 45.86L543.27 49.67L543.94 49.25L544.6 49.38L545.26 50.22L545.92 54.19L546.58 54.17L547.25 54.96L547.91 55.2L548.57 56.81L549.23 56.46L549.89 56.83L550.55 57.15L551.22 58.26L551.88 59.29L552.54 58.33L553.2 59.22L553.86 60.49L554.52 57.7L555.18 59.93L555.85 60.31L556.51 63.15L557.17 66.67L557.83 67.28L558.49 68.31L559.15 64.62L559.82 65.79L560.48 67.28L561.14 66.36L561.8 68.64L562.46 68.08L563.12 68.53L563.79 69.43L564.45 69.65L565.11 69.52L565.77 70.02L566.43 70.32L567.1 72.01L567.76 71.87L568.42 72.21L569.08 74.98L569.74 73.61L570.4 73.28L571.06 74.85L571.73 73.52L572.39 75.87L573.05 76.94L573.71 77.51L574.37 77.75L575.03 76.47L575.7 77.69L576.36 76.62L577.02 81.64L577.68 83.75L578.34 81.71L579 81.94L579.67 80.56L580.33 85.93L580.99 83.84L581.65 84.73L582.31 85.11L582.98 85.6L583.64 84.81L584.3 86.84L584.96 85.18L585.62 85.97L586.28 84.14L586.94 87.2L587.61 86.35L588.27 87.6L588.93 88.81L589.59 89.17L590.25 90.59L590.91 91.54L591.58 92.25L592.24 91.21L592.9 92.18L593.56 93L594.22 92.68L594.88 92.54L595.55 94.34L596.21 95.71L596.87 94.71L597.53 94.56L598.19 96.89L598.86 97.17L599.52 98.74L600.18 100.59L600.84 98.57L601.5 97.16L602.16 96.87L602.82 97.06L603.49 100.42L604.15 101.14L604.81 102.87L605.47 104.82L606.13 105.45L606.79 105.81L607.46 107.47L608.12 108.78L608.78 107.92L609.44 108.08L610.1 106.69L610.76 106.2L611.43 104.7L612.09 106.42L612.75 109.22L613.41 108.46L614.07 108.46L614.74 112.06L615.4 112.64L616.06 112.48L616.72 108.13L617.38 106.04L618.04 108.29L618.7 108.95L619.37 109.54L620.03 110.36L620.69 110.44L621.35 112.61L622.01 112.21L622.67 117.65L623.34 113.57L624 112.68L624.66 114.55L625.32 113.08L625.98 113.48L626.64 116.38L627.31 117.2L627.97 115.69L628.63 116.21L629.29 119.81L629.95 156.66L630.62 125.22L631.28 122.03L631.94 121.37L632.6 118.88L633.26 123.38L633.92 119.93L634.58 117.79L635.25 123.74L635.91 125.58L636.57 126.08L637.23 119.2L637.89 148.65L638.55 122.18L639.22 120.03L639.88 121.25L640.54 119.64L641.2 142.47L641.86 123.65L642.52 128.64L643.19 156.55L643.85 129.19L644.51 129.22L645.17 129.45L645.83 125.73L646.5 123.75L647.16 126.39L647.82 126L648.48 124.88L649.14 119.75L649.8 121.54L650.46 124.44L651.13 123.54L651.79 122.5L652.45 125.5L653.11 121.33L653.77 157.88L654.43 125.61L655.1 124.89L655.76 126.56L656.42 128.94L657.08 128.44L657.74 126.93L658.4 127.77L659.07 124.92L659.73 125.55L660.39 131.6L661.05 127.91L661.71 126.66L662.38 126.04L663.04 126.8L663.7 126.13L664.36 124.31L665.02 122.94L665.68 128.08L666.34 125.68L667.01 130.22L667.67 127.91L668.33 128.76L668.99 133.11L669.65 135.71L670.31 125.68L670.98 129.58L671.64 130.44L672.3 134.49"/>
<path d="M513.5 35.42L514.16 34.74L514.82 36.63L515.49 37.09L516.15 39.29L516.81 39.86L517.47 39.75L518.13 39.17L518.79 40.35L519.46 39.34L520.12 41.66L520.78 41.77L521.44 43.43L522.1 44.38L522.76 45.54L523.42 46.07L524.09 43.55L524.75 45.04L525.41 48.9L526.07 50.53L526.73 49.67L527.39 50.55L528.06 50.4L528.72 48.66L529.38 52.99L530.04 54.31L530.7 54.67L531.37 55.41L532.03 53.53L532.69 55.55L533.35 55.12L534.01 57.42L534.67 59.59L535.34 56.73L536 59.7L536.66 57.33L537.32 58.69L537.98 56.2L538.64 58.33L539.3 61.1L539.97 62.16L540.63 64.09L541.29 62.93L541.95 65.44L542.61 63.5L543.27 64.97L543.94 63.08L544.6 64.65L545.26 69.97L545.92 68.19L546.58 67.52L547.25 69.78L547.91 70.83L548.57 71.14L549.23 71.88L549.89 71.86L550.55 70.86L551.22 70.7L551.88 72.63L552.54 74.12L553.2 73.56L553.86 74.71L554.52 76.13L555.18 77.15L555.85 77.37L556.51 77.39L557.17 78.04L557.83 80.06L558.49 82L559.15 79.79L559.82 79.77L560.48 83.23L561.14 84.53L561.8 85.89L562.46 84.01L563.12 88.54L563.79 88.52L564.45 89.74L565.11 88.88L565.77 87.12L566.43 86.44L567.1 88.52L567.76 89.03L568.42 88.06L569.08 87.09L569.74 90.66L570.4 90.56L571.06 92.81L571.73 94.24L572.39 92.5L573.05 93.39L573.71 95.77L574.37 95.49L575.03 95.04L575.7 95.44L576.36 97.72L577.02 97.48L577.68 94.97L578.34 96.65L579 95.44L579.67 101.42L580.33 101.66L580.99 98.42L581.65 100.5L582.31 102.25L582.98 103.4L583.64 102.15L584.3 102.27L584.96 98.47L585.62 102.85L586.28 102.53L586.94 103.69L587.61 103.51L588.27 106.9L588.93 106.77L589.59 107.67L590.25 106.51L590.91 108.56L591.58 106.73L592.24 106.77L592.9 109.23L593.56 106.63L594.22 104.41L594.88 110.2L595.55 110.84L596.21 110.39L596.87 116.31L597.53 109.93L598.19 106.95L598.86 110.08L599.52 109.85L600.18 105.64L600.84 107.23L601.5 110.57L602.16 114.73L602.82 113.44L603.49 114.21L604.15 113.88L604.81 109.18L605.47 108.01L606.13 109.73L606.79 110.56L607.46 113.75L608.12 152.85L608.78 113.38L609.44 114.99L610.1 115.53L610.76 114.08L611.43 117.26L612.09 134.43L612.75 113.59L613.41 111.26L614.07 110.52L614.74 108.15L615.4 108.78L616.06 111.55L616.72 113.96L617.38 121.05L618.04 117.54L618.7 114.2L619.37 117.58L620.03 115.92L620.69 116.47L621.35 113.99L622.01 149.49L622.67 117.91L623.34 119.84L624 118.9L624.66 122.62L625.32 116.26L625.98 116.25L626.64 125.5L627.31 128.04L627.97 117.76L628.63 119.78L629.29 111.4L629.95 132.88L630.62 112.05L631.28 113.59L631.94 120.63L632.6 116.53L633.26 113.32L633.92 115.66L634.58 115.98L635.25 114.84L635.91 116.2L636.57 118.16L637.23 116.84L637.89 112.83L638.55 111.06L639.22 120.01L639.88 120.82L640.54 127.2L641.2 124.75L641.86 121.58L642.52 114.01L643.19 115.12L643.85 117.21L644.51 121.42L645.17 116.22L645.83 115.13L646.5 115.98L647.16 118.08L647.82 119.35L648.48 121.26L649.14 117.22L649.8 156.57L650.46 120.82L651.13 122.4L651.79 117.74L652.45 123.98L653.11 115.45L653.77 118.9L654.43 115.79L655.1 120.96L655.76 116.13L656.42 122.17L657.08 119.62L657.74 131.94L658.4 119.28L659.07 116.22L659.73 117.16L660.39 113.34L661.05 120.5L661.71 116.49L662.38 117.05L663.04 113.85L663.7 119.25L664.36 119.96L665.02 119.04L665.68 119.92L666.34 113.07L667.01 120.38L667.67 114.98L668.33 114.82L668.99 116.98L669.65 117.09L670.31 117.05L670.98 116.97L671.64 125.63L672.3 123.13"/>
<path d="M513.5 31.23L514.16 29.65L514.82 29.53L515.49 28.57L516.15 31.2L516.81 32.49L517.47 34.51L518.13 32.2L518.79 33.83L519.46 32.89L520.12 36.32L520.78 35.85L521.44 36.08L522.1 39.27L522.76 38.49L523.42 38.05L524.09 39.94L524.75 38.15L525.41 39.71L526.07 39.97L526.73 40.85L527.39 41.64L528.06 42.99L528.72 44.2L529.38 43.29L530.04 43.15L530.7 45.32L531.37 45.95L532.03 45.58L532.69 45.42L533.35 47.23L534.01 47.42L534.67 48.69L535.34 48.84L536 50.17L536.66 51.23L537.32 52.96L537.98 52.93L538.64 54.12L539.3 50.96L539.97 51.97L540.63 52.22L541.29 54.11L541.95 54.11L542.61 55.56L543.27 56.89L543.94 55.67L544.6 58.11L545.26 59.39L545.92 58.72L546.58 60.56L547.25 57.13L547.91 59.74L548.57 60.99L549.23 60.99L549.89 62.46L550.55 63.26L551.22 62.93L551.88 61.37L552.54 61.18L553.2 58.72L553.86 62.98L554.52 65.74L555.18 67.85L555.85 66.83L556.51 66.76L557.17 68.9L557.83 69.24L558.49 66.91L559.15 68.03L559.82 71.9L560.48 71.53L561.14 72.75L561.8 75.31L562.46 74.81L563.12 75.09L563.79 73.38L564.45 71.58L565.11 72.21L565.77 73.67L566.43 78.22L567.1 77.51L567.76 78.29L568.42 78.33L569.08 76.86L569.74 79.48L570.4 81.51L571.06 82.78L571.73 82.14L572.39 81.31L573.05 81.08L573.71 82.58L574.37 82.45L575.03 83.88L575.7 84.49L576.36 85.44L577.02 84.56L577.68 82.36L578.34 84.06L579 86.63L579.67 85.66L580.33 86.01L580.99 86.21L581.65 87.65L582.31 88.01L582.98 87.78L583.64 87.13L584.3 91.4L584.96 92.31L585.62 93.57L586.28 94.06L586.94 94.57L587.61 94.29L588.27 95.76L588.93 94.43L589.59 94.49L590.25 96.23L590.91 97.58L591.58 97.25L592.24 98.31L592.9 96.7L593.56 97.85L594.22 96.3L594.88 96.93L595.55 98.84L596.21 97.94L596.87 99.21L597.53 97.9L598.19 101.71L598.86 102.82L599.52 101.46L600.18 102.57L600.84 103.11L601.5 102.58L602.16 102.46L602.82 102.01L603.49 103.19L604.15 104.4L604.81 104.26L605.47 104.71L606.13 104.64L606.79 119.79L607.46 131.22L608.12 147.63L608.78 129.86L609.44 110.13L610.1 120.43L610.76 138.59L611.43 156.99L612.09 157.93L612.75 162.4L613.41 149.47L614.07 137.78L614.74 132.37L615.4 154.34L616.06 146L616.72 142.98L617.38 147.98L618.04 155.84L618.7 175.61L619.37 151.4L620.03 143.24L620.69 141.35L621.35 138.06L622.01 152.64L622.67 163.98L623.34 140.92L624 139.12L624.66 157.35L625.32 174.32L625.98 133.76L626.64 129.26L627.31 128.27L627.97 140.94L628.63 137.05L629.29 152.25L629.95 148.82L630.62 148.42L631.28 139.7L631.94 133.16L632.6 171.46L633.26 139.91L633.92 128.41L634.58 123.5L635.25 114.35L635.91 118.9L636.57 123.85L637.23 147.3L637.89 125.25L638.55 144.82L639.22 143.26L639.88 141.86L640.54 148.63L641.2 165.7L641.86 143.63L642.52 149.3L643.19 153.96L643.85 151.6L644.51 148.66L645.17 147.72L645.83 146.18L646.5 155.08L647.16 144.38L647.82 149.4L648.48 175.61L649.14 159.63L649.8 140.31L650.46 128.94L651.13 126.96L651.79 138.29L652.45 129.59L653.11 123.76L653.77 120.57L654.43 126.31L655.1 154.03L655.76 134.96L656.42 155.86L657.08 145.85L657.74 140.12L658.4 140.73L659.07 140.3L659.73 134L660.39 125.63L661.05 133.14L661.71 140.53L662.38 123.49L663.04 134.93L663.7 121.87L664.36 148.88L665.02 155.67L665.68 130.34L666.34 170.16L667.01 140.54L667.67 141.23L668.33 139.39L668.99 157.71L669.65 152.26L670.31 148.15L670.98 154.35L671.64 130.48L672.3 124.48"/>
<path d="M513.5 30.12L514.16 31.83L514.82 31.22L515.49 31.4L516.15 32.86L516.81 33.56L517.47 33.53L518.13 32.84L518.79 33.19L519.46 34.23L520.12 33.76L520.78 36.26L521.44 35L522.1 35.46L522.76 36.15L523.42 36.77L524.09 38.45L524.75 38.35L525.41 39.55L526.07 41.25L526.73 43.01L527.39 44.95L528.06 43.05L528.72 44.86L529.38 46.86L530.04 46.28L530.7 46.38L531.37 49.78L532.03 45.83L532.69 43.9L533.35 45.35L534.01 47.03L534.67 48.02L535.34 49.11L536 52.04L536.66 52.28L537.32 50.04L537.98 51.01L538.64 50.64L539.3 51.46L539.97 50.28L540.63 51.52L541.29 54.82L541.95 53.85L542.61 54.54L543.27 54.36L543.94 55.78L544.6 56.28L545.26 57.21L545.92 55.44L546.58 55.83L547.25 59.12L547.91 61.19L548.57 63.11L549.23 63.66L549.89 61.24L550.55 62.59L551.22 62.14L551.88 61.66L552.54 64.06L553.2 64.33L553.86 62.71L554.52 63.78L555.18 61.77L555.85 61.4L556.51 63.06L557.17 65.02L557.83 65.88L558.49 68.8L559.15 69.92L559.82 67.4L560.48 70.41L561.14 71.87L561.8 69.99L562.46 71.64L563.12 76.61L563.79 75.21L564.45 72.72L565.11 71.28L565.77 72.78L566.43 72.59L567.1 72.3L567.76 72.06L568.42 70.99L569.08 75.92L569.74 74.72L570.4 79.18L571.06 77.26L571.73 76.26L572.39 76.85L573.05 77.53L573.71 76.03L574.37 78.11L575.03 75.1L575.7 77.65L576.36 77.37L577.02 78.11L577.68 81.28L578.34 78.39L579 77.89L579.67 77.37L580.33 82.73L580.99 76.07L581.65 80.95L582.31 83.59L582.98 76.43L583.64 81.17L584.3 81.93L584.96 103.32L585.62 82.08L586.28 81.02L586.94 80.58L587.61 83.72L588.27 83.92L588.93 85.76L589.59 102.03L590.25 83.13L590.91 82L591.58 85.74L592.24 85.69L592.9 88.34L593.56 89.64L594.22 80.45L594.88 80.72L595.55 80.02L596.21 76.62L596.87 83.11L597.53 84.58L598.19 81.24L598.86 95.5L599.52 86.08L600.18 81.81L600.84 84.62L601.5 86.73L602.16 85.29L602.82 85.61L603.49 86.66L604.15 90.8L604.81 84.57L605.47 85.89L606.13 95.3L606.79 90.44L607.46 86.85L608.12 87.93L608.78 84.33L609.44 82.17L610.1 82.34L610.76 84.04L611.43 82.41L612.09 85.91L612.75 114.48L613.41 81.97L614.07 85.03L614.74 87.59L615.4 84.96L616.06 86.03L616.72 83.69L617.38 86.34L618.04 91.24L618.7 87.35L619.37 85.77L620.03 86.72L620.69 128.29L621.35 110.43L622.01 89.51L622.67 90.09L623.34 91.42L624 88.44L624.66 92.51L625.32 88.53L625.98 90.24L626.64 90.33L627.31 84.56L627.97 88.09L628.63 85.05L629.29 97.44L629.95 81.85L630.62 84.66L631.28 83.11L631.94 85.53L632.6 87.63L633.26 85.89L633.92 85.64L634.58 84.63L635.25 85.04L635.91 87.37L636.57 91.54L637.23 91.16L637.89 93.64L638.55 86.15L639.22 84.3L639.88 89.71L640.54 87.46L641.2 88.05L641.86 88.09L642.52 85.65L643.19 89.99L643.85 90.41L644.51 89.09L645.17 100.57L645.83 91.76L646.5 90.58L647.16 88.63L647.82 89.95L648.48 92.2L649.14 88.61L649.8 93.02L650.46 87.23L651.13 91.73L651.79 89.61L652.45 95.51L653.11 86.7L653.77 88.41L654.43 87L655.1 88.94L655.76 88.37L656.42 90.33L657.08 91.13L657.74 84.83L658.4 81.08L659.07 84.39L659.73 88.18L660.39 93.83L661.05 90.61L661.71 126.09L662.38 91.58L663.04 93.52L663.7 89.39L664.36 84.43L665.02 84.58L665.68 88.81L666.34 85.05L667.01 86.54L667.67 84.9L668.33 87.59L668.99 92.24L669.65 87.12L670.31 85.38L670.98 89.44L671.64 121.26L672.3 87.43"/>
</g>
<path d="M513.5 31.01L514.16 31.41L514.82 31.69L515.49 32.34L516.15 33.16L516.81 33.64L517.47 34.02L518.13 34.28L518.79 35.09L519.46 35.87L520.12 36.18L520.78 36.56L521.44 36.74L522.1 37.08L522.76 37.7L523.42 38.34L524.09 38.33L524.75 39.03L525.41 39.82L526.07 40.64L526.73 41.15L527.39 41.68L528.06 42.32L528.72 42.89L529.38 43.38L530.04 43.79L530.7 44.13L531.37 44.7L532.03 45.71L532.69 46.1L533.35 46.98L534.01 47.54L534.67 48.39L535.34 48.86L536 49.52L536.66 49.95L537.32 49.7L537.98 50.33L538.64 50.74L539.3 51.66L539.97 52.29L540.63 52.76L541.29 53.42L541.95 53.97L542.61 54.6L543.27 55.46L543.94 55.95L544.6 56.75L545.26 56.94L545.92 57.71L546.58 58.2L547.25 58.86L547.91 59.3L548.57 60.12L549.23 60.54L549.89 61.25L550.55 61.64L551.22 62.2L551.88 62.88L552.54 63.75L553.2 64.24L553.86 64.85L554.52 65.21L555.18 66.05L555.85 66.66L556.51 67.29L557.17 67.97L557.83 68.66L558.49 69.36L559.15 70.21L559.82 71.13L560.48 71.88L561.14 72.39L561.8 72.71L562.46 73.21L563.12 73.71L563.79 74.29L564.45 74.91L565.11 75.64L565.77 76.24L566.43 76.62L567.1 77.5L567.76 78.44L568.42 78.74L569.08 79.48L569.74 80.04L570.4 80.64L571.06 81.69L571.73 81.89L572.39 82.31L573.05 83.11L573.71 83.77L574.37 84.56L575.03 85.56L575.7 86.34L576.36 87.03L577.02 87.56L577.68 88.21L578.34 89.01L579 89.5L579.67 90.5L580.33 91.11L580.99 91.66L581.65 92.54L582.31 93.73L582.98 94.65L583.64 95.28L584.3 95.86L584.96 96.23L585.62 97.22L586.28 97.94L586.94 98.51L587.61 99.21L588.27 100.38L588.93 100.76L589.59 100.83L590.25 101.28L590.91 102.18L591.58 102.92L592.24 103.51L592.9 103.59L593.56 104.07L594.22 104.67L594.88 104.94L595.55 105.61L596.21 105.82L596.87 106.64L597.53 107.37L598.19 107.81L598.86 108.09L599.52 108.59L600.18 109.16L600.84 110.2L601.5 110.91L602.16 111.58L602.82 112.2L603.49 112.55L604.15 113.23L604.81 113.64L605.47 114.24L606.13 114.93L606.79 115.51L607.46 116.02L608.12 116.45L608.78 117.2L609.44 117.88L610.1 118.79L610.76 118.74L611.43 118.78L612.09 119.23L612.75 119.72L613.41 120.37L614.07 120.65L614.74 120.93L615.4 120.79L616.06 121.15L616.72 121.73L617.38 122.64L618.04 122.46L618.7 122.57L619.37 123.08L620.03 123.15L620.69 123.62L621.35 122.91L622.01 122.86L622.67 122.95L623.34 123.23L624 123.91L624.66 124.08L625.32 124.55L625.98 124.5L626.64 125.03L627.31 125.22L627.97 124.92L628.63 124.59L629.29 124.94L629.95 125.34L630.62 125.15L631.28 125.01L631.94 125.32L632.6 125.52L633.26 125.71L633.92 126L634.58 126.14L635.25 125.85L635.91 125.73L636.57 125.35L637.23 125.51L637.89 125.67L638.55 126.01L639.22 126.12L639.88 126.5L640.54 126.93L641.2 126.76L641.86 126.47L642.52 126.35L643.19 126.12L643.85 126.18L644.51 126.45L645.17 126.51L645.83 126.67L646.5 126.98L647.16 127.38L647.82 127.68L648.48 127.61L649.14 127.53L649.8 127.6L650.46 127.25L651.13 127.24L651.79 127.14L652.45 126.93L653.11 127.21L653.77 127.71L654.43 127.54L655.1 127.72L655.76 127.44L656.42 127.42L657.08 127.27L657.74 127.19L658.4 127.77L659.07 127.65L659.73 127.85L660.39 128.04L661.05 128.13L661.71 127.95L662.38 127.77L663.04 127.6L663.7 128.05L664.36 128.2L665.02 128.73L665.68 128.68L666.34 128.48L667.01 128.63L667.67 128.53L668.33 128.45L668.99 128.22L669.65 128.43L670.31 128.62L670.98 128.77L671.64 128.35L672.3 128.14" fill="none" stroke="#ec2a1e" stroke-width="2.1" stroke-linejoin="round"/>
<path d="M513.5 7.6H672.3V166.1" stroke="#555" stroke-width="0.9" fill="none"/>
<path d="M513.5 7.6V166.1H672.3" stroke="#4a4a4a" stroke-width="0.9" fill="none"/>
<path d="M513.5 7.6h3.4" stroke="#444" stroke-width="0.9"/>
<text x="508" y="12" font-size="9.3" text-anchor="end">10<tspan font-size="6.7" dy="-5.4">-7</tspan></text>
<path d="M513.5 39.3h3.4" stroke="#444" stroke-width="0.9"/>
<text x="508" y="43.7" font-size="9.3" text-anchor="end">10<tspan font-size="6.7" dy="-5.4">-8</tspan></text>
<path d="M513.5 71h3.4" stroke="#444" stroke-width="0.9"/>
<text x="508" y="75.4" font-size="9.3" text-anchor="end">10<tspan font-size="6.7" dy="-5.4">-9</tspan></text>
<path d="M513.5 102.7h3.4" stroke="#444" stroke-width="0.9"/>
<text x="508" y="107.1" font-size="9.3" text-anchor="end">10<tspan font-size="6.7" dy="-5.4">-10</tspan></text>
<path d="M513.5 134.4h3.4" stroke="#444" stroke-width="0.9"/>
<text x="508" y="138.8" font-size="9.3" text-anchor="end">10<tspan font-size="6.7" dy="-5.4">-11</tspan></text>
<path d="M513.5 166.1h3.4" stroke="#444" stroke-width="0.9"/>
<text x="508" y="170.5" font-size="9.3" text-anchor="end">10<tspan font-size="6.7" dy="-5.4">-12</tspan></text>
<path d="M513.5 166.1v-3.4" stroke="#444" stroke-width="0.9"/>
<text x="513.5" y="176.2" font-size="9" text-anchor="middle">-60</text>
<path d="M539.97 166.1v-3.4" stroke="#444" stroke-width="0.9"/>
<text x="539.97" y="176.2" font-size="9" text-anchor="middle">-40</text>
<path d="M566.43 166.1v-3.4" stroke="#444" stroke-width="0.9"/>
<text x="566.43" y="176.2" font-size="9" text-anchor="middle">-20</text>
<path d="M592.9 166.1v-3.4" stroke="#444" stroke-width="0.9"/>
<text x="592.9" y="176.2" font-size="9" text-anchor="middle">0</text>
<path d="M619.37 166.1v-3.4" stroke="#444" stroke-width="0.9"/>
<text x="619.37" y="176.2" font-size="9" text-anchor="middle">20</text>
<path d="M645.83 166.1v-3.4" stroke="#444" stroke-width="0.9"/>
<text x="645.83" y="176.2" font-size="9" text-anchor="middle">40</text>
<path d="M672.3 166.1v-3.4" stroke="#444" stroke-width="0.9"/>
<text x="672.3" y="176.2" font-size="9" text-anchor="middle">60</text>
<text x="581" y="191.8" font-size="9.5"><tspan font-style="italic">V</tspan><tspan font-size="6.5" dy="2.2">g</tspan><tspan dy="-2.2"> (V)</tspan></text>
<text transform="translate(483.2 86.8) rotate(-90)" font-size="9.5" text-anchor="middle"><tspan font-style="italic">I</tspan><tspan font-size="6.5" dy="2.2">ds</tspan><tspan dy="-2.2"> (A)</tspan></text>
<rect x="611.3" y="8.6" width="59.3" height="59.7" fill="url(#gci)"/>
<clipPath id="cli"><rect x="611.3" y="8.6" width="59.3" height="59.7"/></clipPath>
<g clip-path="url(#cli)" fill="none" stroke-width="0.8" stroke-linejoin="round">
<path d="M611.3 44.95L611.72 43.64L612.15 46.19L612.57 48.67L612.99 49L613.41 49.31L613.84 50.41L614.26 50.12L614.68 50.77L615.11 50.4L615.53 52.76L615.95 53.66L616.38 53.78L616.8 53.63L617.22 55.09L617.64 57.19L618.07 56.11L618.49 57.87L618.91 58.7L619.34 56.76L619.76 58.66L620.18 58.5L620.61 58.37L621.03 59.49L621.45 59.8L621.88 61.29L622.3 60.38L622.72 60.65L623.14 60.72L623.57 62L623.99 60.97L624.41 62.81L624.84 62.35L625.26 62.47L625.68 63.27L626.1 62.63L626.53 64.27L626.95 62.31L627.37 62.91L627.8 63.77L628.22 64.15L628.64 64.72L629.07 64.03L629.49 63.99L629.91 64.76L630.33 65.52L630.76 65.18L631.18 64.61L631.6 66.05L632.03 65.77L632.45 65.13L632.87 65.19L633.3 64.84L633.72 65.33L634.14 66.2L634.56 65.82L634.99 66.12L635.41 65.03L635.83 66.65L636.26 65.6L636.68 66.22L637.1 66.14L637.53 66.61L637.95 65.73L638.37 66.8L638.79 66.55L639.22 66.39L639.64 67L640.06 66.46L640.49 66.62L640.91 67.12L641.33 66.12L641.76 66.69L642.18 66.26L642.6 66.63L643.02 66.77L643.45 66.67L643.87 66.94L644.29 67.19L644.72 66.8L645.14 66.74L645.56 67.21L645.99 67.76L646.41 67.45L646.83 67.92L647.25 68.01L647.68 67.18L648.1 67.04L648.52 67.14L648.95 67.55L649.37 67.35L649.79 67.38L650.22 67.79L650.64 67.97L651.06 67.46L651.48 67.64L651.91 67.5L652.33 67.86L652.75 67L653.18 67.26L653.6 67.57L654.02 66.96L654.45 68.14L654.87 67.89L655.29 67.55L655.71 67.38L656.14 67.13L656.56 67.95L656.98 67.53L657.41 66.71L657.83 67.4L658.25 67.86L658.68 67.59L659.1 67.43L659.52 67.95L659.94 68.05L660.37 67.55L660.79 67.23L661.21 67.43L661.64 68.26L662.06 67.2L662.48 67.39L662.91 67.72L663.33 67.77L663.75 67.59L664.17 68.14L664.6 67.39L665.02 67.34L665.44 67.84L665.87 67.72L666.29 67.45L666.71 68.16L667.14 68.12L667.56 67.28L667.98 67.26L668.4 67.45L668.83 67.62L669.25 67.59L669.67 67.19L670.1 67.79L670.52 67.4L670.94 67.77L671.37 67.76L671.79 67.69" stroke="#666666"/>
<path d="M611.3 31.06L611.72 33.7L612.15 33.35L612.57 35.79L612.99 34.3L613.41 38.05L613.84 38.42L614.26 38.73L614.68 38.3L615.11 42.93L615.53 44.17L615.95 42.48L616.38 46.3L616.8 44.98L617.22 47.28L617.64 47.5L618.07 50.52L618.49 48.09L618.91 50.33L619.34 51.51L619.76 48.8L620.18 51.04L620.61 48.71L621.03 52.65L621.45 54.02L621.88 54.13L622.3 53.25L622.72 55.33L623.14 55.4L623.57 55.83L623.99 57.52L624.41 57.08L624.84 58.02L625.26 59L625.68 57.74L626.1 58.29L626.53 59.09L626.95 60.14L627.37 61.23L627.8 59.81L628.22 60.51L628.64 61.84L629.07 61.06L629.49 62.25L629.91 61.57L630.33 61.71L630.76 61.83L631.18 62.14L631.6 62.39L632.03 63.33L632.45 63.11L632.87 63.37L633.3 63.4L633.72 63.32L634.14 63.31L634.56 62.97L634.99 65.22L635.41 63.91L635.83 64.34L636.26 63.32L636.68 64.09L637.1 65.41L637.53 64.59L637.95 65.13L638.37 64.57L638.79 65.58L639.22 65.26L639.64 65.38L640.06 65.46L640.49 65.75L640.91 66.35L641.33 65.5L641.76 65.36L642.18 65.87L642.6 66.32L643.02 65.91L643.45 65.84L643.87 66.19L644.29 66.2L644.72 65.72L645.14 66.73L645.56 66.57L645.99 67.13L646.41 66.73L646.83 66.79L647.25 66.92L647.68 66.87L648.1 66.02L648.52 66.77L648.95 66.78L649.37 66.01L649.79 66.84L650.22 67.46L650.64 66.75L651.06 67.25L651.48 66.39L651.91 67.41L652.33 67.21L652.75 67.59L653.18 67.03L653.6 67.44L654.02 67.14L654.45 67.27L654.87 67.37L655.29 66.87L655.71 66.9L656.14 67.21L656.56 67.54L656.98 67.62L657.41 67.19L657.83 66.52L658.25 67.47L658.68 67.59L659.1 67.57L659.52 67.72L659.94 67.69L660.37 67.45L660.79 66.94L661.21 67.41L661.64 67.59L662.06 67.95L662.48 67.38L662.91 67.47L663.33 67.86L663.75 67.82L664.17 67.5L664.6 67.18L665.02 67.31L665.44 67.45L665.87 67.62L666.29 67.43L666.71 67.54L667.14 66.86L667.56 67.9L667.98 67.67L668.4 67.16L668.83 67.65L669.25 67.13L669.67 67.59L670.1 67.54L670.52 67.7L670.94 68.02L671.37 67.9L671.79 66.91" stroke="#3a3a3a"/>
<path d="M611.3 40.84L611.72 44.96L612.15 43.7L612.57 41.38L612.99 44.29L613.41 47.83L613.84 46.37L614.26 48.93L614.68 49.35L615.11 49.77L615.53 48.36L615.95 51.59L616.38 51.69L616.8 52.15L617.22 53.42L617.64 52.34L618.07 53.59L618.49 53.63L618.91 54.54L619.34 55.15L619.76 56.55L620.18 54.92L620.61 57.39L621.03 54.54L621.45 56.59L621.88 57.44L622.3 58.22L622.72 57.79L623.14 59.26L623.57 61.1L623.99 59.2L624.41 59.74L624.84 59.23L625.26 59.36L625.68 61.04L626.1 62.66L626.53 60.8L626.95 61.05L627.37 62.39L627.8 61.23L628.22 61.53L628.64 62.66L629.07 62.38L629.49 62.04L629.91 62.66L630.33 62.64L630.76 62.82L631.18 63.68L631.6 64.05L632.03 63.76L632.45 63.2L632.87 64.75L633.3 63.74L633.72 65.9L634.14 64.72L634.56 63.8L634.99 64.86L635.41 64.74L635.83 64.65L636.26 64.37L636.68 65.56L637.1 65.46L637.53 65.56L637.95 65.45L638.37 64.82L638.79 66.04L639.22 65.83L639.64 66.15L640.06 66.27L640.49 65.73L640.91 65.63L641.33 65.11L641.76 66.15L642.18 66.02L642.6 66.24L643.02 65.94L643.45 66.17L643.87 66.8L644.29 66.15L644.72 66.06L645.14 66.2L645.56 66.39L645.99 66.5L646.41 66.82L646.83 67.06L647.25 66.93L647.68 66.98L648.1 67.01L648.52 66.77L648.95 67.16L649.37 66.39L649.79 66.83L650.22 67.04L650.64 66.5L651.06 66.56L651.48 67.43L651.91 67.45L652.33 66.98L652.75 66.74L653.18 67.14L653.6 66.52L654.02 67.48L654.45 66.82L654.87 66.9L655.29 67.23L655.71 67.75L656.14 67.41L656.56 66.96L656.98 67.45L657.41 67.4L657.83 67.21L658.25 67.24L658.68 67.44L659.1 66.99L659.52 67.16L659.94 67.87L660.37 67.35L660.79 67.57L661.21 66.89L661.64 67.23L662.06 67.34L662.48 67.52L662.91 67.57L663.33 67.64L663.75 66.99L664.17 67.57L664.6 67.73L665.02 67.32L665.44 67.28L665.87 67.56L666.29 67.82L666.71 67.16L667.14 67.2L667.56 68.18L667.98 67.84L668.4 66.91L668.83 67.82L669.25 68.09L669.67 67.36L670.1 67.67L670.52 67.32L670.94 68.17L671.37 67.16L671.79 67.41" stroke="#3a3a3a"/>
<path d="M611.3 35.91L611.72 37.75L612.15 36.4L612.57 37.9L612.99 37.73L613.41 40.27L613.84 43.82L614.26 41.89L614.68 45.52L615.11 43.71L615.53 43.56L615.95 45.73L616.38 48.09L616.8 46.62L617.22 48.7L617.64 51.14L618.07 50.75L618.49 49.39L618.91 51.99L619.34 52.15L619.76 53.24L620.18 55.17L620.61 54.51L621.03 54.19L621.45 54.85L621.88 55.7L622.3 57.91L622.72 55.4L623.14 56.29L623.57 56.47L623.99 56.67L624.41 58.46L624.84 58.94L625.26 58.6L625.68 57.96L626.1 60.72L626.53 59.99L626.95 60.62L627.37 60.05L627.8 59.75L628.22 61.17L628.64 62.02L629.07 61.46L629.49 61.91L629.91 62.88L630.33 61.67L630.76 62.7L631.18 62.22L631.6 63.53L632.03 62.4L632.45 63.94L632.87 62.8L633.3 64.45L633.72 62.98L634.14 64.03L634.56 64.75L634.99 64.25L635.41 64.11L635.83 64.87L636.26 64.76L636.68 64.53L637.1 64.85L637.53 66.26L637.95 65.19L638.37 64.92L638.79 65.07L639.22 64.87L639.64 65.68L640.06 64.42L640.49 65.24L640.91 65.52L641.33 65.29L641.76 65.43L642.18 65.84L642.6 66.2L643.02 65.62L643.45 65.92L643.87 66.87L644.29 66.63L644.72 66.09L645.14 66.28L645.56 66.27L645.99 66.19L646.41 66.42L646.83 65.95L647.25 66.78L647.68 66.76L648.1 66.54L648.52 66.43L648.95 66.46L649.37 66.25L649.79 66.98L650.22 66.44L650.64 66.72L651.06 67.27L651.48 66.99L651.91 66.26L652.33 66.73L652.75 67.19L653.18 67.86L653.6 67.33L654.02 67.34L654.45 67.1L654.87 66.38L655.29 66.92L655.71 67.09L656.14 67.52L656.56 67.62L656.98 67.32L657.41 67.42L657.83 66.3L658.25 67.43L658.68 67.52L659.1 66.96L659.52 67.32L659.94 67.76L660.37 66.96L660.79 67.49L661.21 67.82L661.64 67.31L662.06 67.26L662.48 67.54L662.91 67.22L663.33 67.19L663.75 67.74L664.17 68.13L664.6 68.24L665.02 67.53L665.44 67.11L665.87 67.19L666.29 67.07L666.71 66.94L667.14 67.52L667.56 67.2L667.98 68.02L668.4 67.33L668.83 67.43L669.25 67.59L669.67 67.7L670.1 67.92L670.52 67.53L670.94 67.18L671.37 67.7L671.79 67.42" stroke="#3a3a3a"/>
<path d="M611.3 22.24L611.72 18.21L612.15 21.48L612.57 24.88L612.99 24.45L613.41 30.1L613.84 30.49L614.26 30.81L614.68 34.61L615.11 34.69L615.53 34.96L615.95 37.6L616.38 36.18L616.8 39.55L617.22 41.82L617.64 41.62L618.07 43.01L618.49 44.63L618.91 43.21L619.34 42.47L619.76 46.52L620.18 46.93L620.61 47.77L621.03 49.8L621.45 47.75L621.88 49.69L622.3 48.99L622.72 51.31L623.14 51.74L623.57 50.47L623.99 53.07L624.41 53.15L624.84 52.75L625.26 54.82L625.68 54.21L626.1 56.31L626.53 56.22L626.95 56.93L627.37 56.18L627.8 57.63L628.22 58.25L628.64 57.7L629.07 57.27L629.49 59.68L629.91 57.6L630.33 60.54L630.76 60.22L631.18 60.72L631.6 59.28L632.03 60.36L632.45 60.73L632.87 60.4L633.3 60.91L633.72 61.77L634.14 62.26L634.56 63.03L634.99 61.71L635.41 62.75L635.83 62.87L636.26 62.88L636.68 62.8L637.1 62.9L637.53 63.08L637.95 62.58L638.37 63.27L638.79 64.45L639.22 63.81L639.64 64.7L640.06 64.98L640.49 64.26L640.91 65L641.33 64.94L641.76 64.42L642.18 64.48L642.6 64.99L643.02 65.52L643.45 66.39L643.87 65.18L644.29 66.02L644.72 65.57L645.14 65.64L645.56 65.85L645.99 65.43L646.41 65.93L646.83 66.05L647.25 66.3L647.68 65.71L648.1 65.92L648.52 66.85L648.95 66.39L649.37 66.41L649.79 66.24L650.22 67.18L650.64 66.76L651.06 66.58L651.48 66.73L651.91 66.57L652.33 66.85L652.75 67.68L653.18 67.26L653.6 66.79L654.02 66.65L654.45 67.01L654.87 66.38L655.29 67.04L655.71 66.86L656.14 66.8L656.56 66.95L656.98 66.54L657.41 67.12L657.83 67.33L658.25 66.78L658.68 67.23L659.1 67.29L659.52 67.1L659.94 66.98L660.37 67.21L660.79 66.86L661.21 67.46L661.64 67.63L662.06 67.41L662.48 67.34L662.91 66.58L663.33 66.71L663.75 67.35L664.17 67.47L664.6 67.45L665.02 67.24L665.44 67.61L665.87 67.2L666.29 67.55L666.71 67.95L667.14 67.69L667.56 67.28L667.98 67.08L668.4 67.38L668.83 67.43L669.25 67.08L669.67 66.64L670.1 67.06L670.52 67.67L670.94 67.67L671.37 67.07L671.79 67.55" stroke="#666666"/>
<path d="M611.3 29.46L611.72 27.75L612.15 27.51L612.57 29.82L612.99 30.76L613.41 34.68L613.84 35.21L614.26 37.29L614.68 37.06L615.11 39.39L615.53 39.57L615.95 40.18L616.38 41.18L616.8 42.16L617.22 43.37L617.64 41.46L618.07 44.77L618.49 46.5L618.91 45.54L619.34 48.03L619.76 48.68L620.18 47.84L620.61 50.71L621.03 53.21L621.45 49.53L621.88 49.27L622.3 52.96L622.72 52.61L623.14 51.53L623.57 54.78L623.99 54.08L624.41 54.88L624.84 54.34L625.26 56.5L625.68 54.2L626.1 55.6L626.53 55.61L626.95 56.56L627.37 58.48L627.8 57.16L628.22 58.49L628.64 57.73L629.07 58.74L629.49 58.64L629.91 58.87L630.33 58.44L630.76 58.75L631.18 60.3L631.6 59.87L632.03 59.12L632.45 60.05L632.87 61.11L633.3 60.94L633.72 61.31L634.14 60.73L634.56 61.51L634.99 61.51L635.41 60.62L635.83 62.94L636.26 62.9L636.68 63.48L637.1 63.56L637.53 62.37L637.95 62.85L638.37 62.3L638.79 64.36L639.22 63.92L639.64 62.87L640.06 63.23L640.49 63.44L640.91 63.58L641.33 64.12L641.76 64.26L642.18 64.35L642.6 64.09L643.02 64.66L643.45 64.55L643.87 64.14L644.29 65.4L644.72 65.32L645.14 64.83L645.56 65.28L645.99 65.32L646.41 64.44L646.83 65.24L647.25 65.67L647.68 65.11L648.1 64.61L648.52 66.16L648.95 66.04L649.37 65.79L649.79 66.15L650.22 65.11L650.64 65.82L651.06 66.23L651.48 65.94L651.91 66.49L652.33 66.47L652.75 66.25L653.18 65.44L653.6 67.22L654.02 66.27L654.45 65.97L654.87 66.24L655.29 65.85L655.71 66.43L656.14 66.57L656.56 66.71L656.98 67L657.41 66.15L657.83 67.18L658.25 66.84L658.68 67.01L659.1 67.13L659.52 67.66L659.94 67.04L660.37 66.89L660.79 66.92L661.21 66.7L661.64 67.07L662.06 67.25L662.48 66.95L662.91 66.86L663.33 67.41L663.75 67.63L664.17 67.48L664.6 66.81L665.02 66.85L665.44 67.49L665.87 67.18L666.29 66.95L666.71 66.81L667.14 67.48L667.56 67.36L667.98 66.83L668.4 66.52L668.83 66.82L669.25 67.7L669.67 67.2L670.1 67.45L670.52 67.39L670.94 67.59L671.37 67.54L671.79 67.4" stroke="#3a3a3a"/>
<path d="M611.3 41.68L611.72 45.24L612.15 45.05L612.57 47.85L612.99 48.1L613.41 45.66L613.84 51.59L614.26 48.85L614.68 50.57L615.11 51.5L615.53 53.22L615.95 51.66L616.38 53.89L616.8 53.4L617.22 53.38L617.64 55.56L618.07 56.21L618.49 56.86L618.91 57.75L619.34 57.92L619.76 57.46L620.18 57.08L620.61 59.15L621.03 60.41L621.45 59.15L621.88 58.68L622.3 58.5L622.72 59.44L623.14 59.43L623.57 60.46L623.99 60.12L624.41 60.93L624.84 62.44L625.26 61.49L625.68 62.28L626.1 62.5L626.53 62.28L626.95 63.11L627.37 63.04L627.8 62.21L628.22 62.96L628.64 63.45L629.07 64.14L629.49 63.42L629.91 64.03L630.33 63.91L630.76 64.04L631.18 64.77L631.6 64.38L632.03 64.87L632.45 64.52L632.87 64.72L633.3 65.06L633.72 64.53L634.14 65.42L634.56 65.95L634.99 65.52L635.41 65.39L635.83 65.27L636.26 65.63L636.68 65.56L637.1 65.98L637.53 65.32L637.95 66.21L638.37 66.03L638.79 66.19L639.22 66.2L639.64 66.08L640.06 66.45L640.49 66.3L640.91 66.13L641.33 66.66L641.76 67.11L642.18 66.48L642.6 66.68L643.02 66.89L643.45 66.46L643.87 66.49L644.29 65.81L644.72 66.37L645.14 66.7L645.56 66.77L645.99 67.89L646.41 66.67L646.83 66.64L647.25 66.97L647.68 67.1L648.1 66.99L648.52 66.35L648.95 66.87L649.37 66.85L649.79 67.23L650.22 66.82L650.64 67.1L651.06 67.16L651.48 66.66L651.91 67.25L652.33 67.28L652.75 67.51L653.18 67.3L653.6 66.89L654.02 67.3L654.45 66.98L654.87 67.07L655.29 67.49L655.71 67.85L656.14 66.62L656.56 67.48L656.98 67.48L657.41 67.81L657.83 67.17L658.25 67.18L658.68 67.36L659.1 67.69L659.52 68.08L659.94 68.04L660.37 67.85L660.79 67.81L661.21 67.44L661.64 67.35L662.06 67.79L662.48 67.49L662.91 67.76L663.33 67.66L663.75 67.39L664.17 67.74L664.6 67.62L665.02 67.51L665.44 67.37L665.87 67.85L666.29 67.53L666.71 68.3L667.14 67.28L667.56 67.87L667.98 68.16L668.4 67.52L668.83 67.32L669.25 67.19L669.67 67.41L670.1 67.79L670.52 67.44L670.94 67.43L671.37 67.61L671.79 67.66" stroke="#666666"/>
<path d="M611.3 13.02L611.72 18.74L612.15 18.22L612.57 18.8L612.99 23.64L613.41 23.87L613.84 29.59L614.26 26.81L614.68 28.86L615.11 30.9L615.53 29.38L615.95 28.82L616.38 31.67L616.8 36.43L617.22 33.16L617.64 37.75L618.07 38.27L618.49 40.22L618.91 39.43L619.34 40.25L619.76 41.84L620.18 43.28L620.61 44.02L621.03 45.22L621.45 44.05L621.88 46.92L622.3 47.14L622.72 47.93L623.14 49.31L623.57 49.3L623.99 51.44L624.41 49.81L624.84 50.27L625.26 51.81L625.68 50.34L626.1 53.45L626.53 52.52L626.95 53.12L627.37 54.62L627.8 54.79L628.22 54.18L628.64 55.4L629.07 55.62L629.49 55.06L629.91 56.49L630.33 58.46L630.76 58.03L631.18 57.12L631.6 58.23L632.03 59.28L632.45 60.26L632.87 58.85L633.3 58.3L633.72 60.55L634.14 61.45L634.56 59.88L634.99 60.83L635.41 60.92L635.83 61.17L636.26 61.77L636.68 61.15L637.1 61.08L637.53 61.63L637.95 62.38L638.37 61.65L638.79 62.5L639.22 62.3L639.64 63.31L640.06 62.61L640.49 62.73L640.91 62.61L641.33 63.42L641.76 63.36L642.18 64.02L642.6 63.43L643.02 63.62L643.45 63.61L643.87 64.43L644.29 64.94L644.72 64.52L645.14 64.69L645.56 65.04L645.99 64.54L646.41 64.49L646.83 64.83L647.25 64.62L647.68 65.02L648.1 65.69L648.52 65.6L648.95 65.59L649.37 65.24L649.79 65.22L650.22 65.61L650.64 65.33L651.06 66.13L651.48 65.91L651.91 65.35L652.33 65.82L652.75 65.65L653.18 66.83L653.6 66.8L654.02 66.54L654.45 65.89L654.87 65.72L655.29 66.6L655.71 66.77L656.14 66.83L656.56 66.82L656.98 66.34L657.41 66.7L657.83 65.95L658.25 66.4L658.68 66.94L659.1 66.65L659.52 66.82L659.94 66.52L660.37 66.51L660.79 66.98L661.21 66.58L661.64 66.72L662.06 66.97L662.48 66.88L662.91 66.77L663.33 67.13L663.75 67.27L664.17 66.64L664.6 67.09L665.02 67.3L665.44 66.98L665.87 67.63L666.29 67.15L666.71 67.63L667.14 67.34L667.56 67.8L667.98 67.47L668.4 66.97L668.83 67.33L669.25 67.68L669.67 66.74L670.1 67.51L670.52 66.85L670.94 67.51L671.37 67.82L671.79 66.78" stroke="#3a3a3a"/>
<path d="M611.3 42.55L611.72 44.17L612.15 44.25L612.57 45.08L612.99 43.06L613.41 47.16L613.84 47.14L614.26 47.66L614.68 47.25L615.11 48.42L615.53 48.43L615.95 50.07L616.38 50.7L616.8 51.11L617.22 51.95L617.64 52.86L618.07 53.73L618.49 55.41L618.91 53.75L619.34 55.3L619.76 55.13L620.18 54.42L620.61 57.41L621.03 55.86L621.45 56.67L621.88 58.74L622.3 57.71L622.72 58.98L623.14 57.58L623.57 58.69L623.99 57.82L624.41 59.61L624.84 59.04L625.26 59.82L625.68 61.48L626.1 60.03L626.53 61.45L626.95 61.84L627.37 60.72L627.8 62.26L628.22 62.45L628.64 61.76L629.07 62.36L629.49 62.88L629.91 61.87L630.33 62.61L630.76 62.48L631.18 62.29L631.6 63.11L632.03 62.03L632.45 63.98L632.87 63.12L633.3 63.21L633.72 64.53L634.14 63.72L634.56 65.08L634.99 63.64L635.41 64.28L635.83 64.56L636.26 64.71L636.68 64.99L637.1 64.52L637.53 64.88L637.95 65.24L638.37 66.53L638.79 64.98L639.22 65.08L639.64 64.91L640.06 65.42L640.49 65.98L640.91 65.62L641.33 66L641.76 65.13L642.18 65.7L642.6 66.21L643.02 66.42L643.45 65.72L643.87 66.02L644.29 67.25L644.72 66.68L645.14 65.91L645.56 66.98L645.99 66.57L646.41 66.29L646.83 66.29L647.25 65.85L647.68 66.03L648.1 66.61L648.52 66.23L648.95 66.45L649.37 66.5L649.79 66.3L650.22 66.73L650.64 66.51L651.06 66.47L651.48 66.92L651.91 66.66L652.33 67.26L652.75 66.93L653.18 67L653.6 66.91L654.02 66.38L654.45 66.78L654.87 67.14L655.29 66.98L655.71 66.97L656.14 66.8L656.56 66.95L656.98 67.19L657.41 66.95L657.83 67.51L658.25 67.76L658.68 66.95L659.1 67.36L659.52 67.22L659.94 67.76L660.37 67.47L660.79 67.52L661.21 67.53L661.64 66.76L662.06 67.61L662.48 67.03L662.91 67.41L663.33 67.15L663.75 67.86L664.17 67.39L664.6 67.37L665.02 67.37L665.44 67.32L665.87 67.2L666.29 67.34L666.71 67.47L667.14 67.76L667.56 67.54L667.98 67.51L668.4 67.31L668.83 66.75L669.25 67.14L669.67 67.5L670.1 67.33L670.52 68.06L670.94 67.58L671.37 67.87L671.79 67.37" stroke="#3a3a3a"/>
<path d="M611.3 25.87L611.72 20.22L612.15 24.89L612.57 26.02L612.99 28.57L613.41 27.74L613.84 29.68L614.26 32.01L614.68 32.52L615.11 34.46L615.53 32.84L615.95 37.09L616.38 39.04L616.8 38.91L617.22 36.25L617.64 39.95L618.07 38.92L618.49 39.69L618.91 42.54L619.34 41.4L619.76 42.61L620.18 44.2L620.61 45.9L621.03 45.7L621.45 48.06L621.88 47.37L622.3 48.41L622.72 47.75L623.14 48.5L623.57 50.29L623.99 49.09L624.41 49.3L624.84 51.13L625.26 52.54L625.68 51.7L626.1 55.27L626.53 53.8L626.95 53.09L627.37 52.18L627.8 55.25L628.22 53.55L628.64 53.26L629.07 54.09L629.49 58.21L629.91 55.58L630.33 56.71L630.76 56.39L631.18 57.7L631.6 58.36L632.03 58.37L632.45 57.36L632.87 58.16L633.3 59.29L633.72 59.07L634.14 59.01L634.56 59.48L634.99 60.15L635.41 60.8L635.83 61.08L636.26 61.1L636.68 61.39L637.1 62.24L637.53 62.33L637.95 61.13L638.37 62.52L638.79 62.8L639.22 62.24L639.64 61.58L640.06 61.86L640.49 62.95L640.91 63.45L641.33 63.33L641.76 63.67L642.18 63.62L642.6 63.23L643.02 64.15L643.45 64.13L643.87 63.99L644.29 64L644.72 64.47L645.14 64.6L645.56 64.86L645.99 64.79L646.41 64.3L646.83 64.75L647.25 66.14L647.68 64.56L648.1 64.96L648.52 65.4L648.95 65.21L649.37 66.48L649.79 65.97L650.22 64.85L650.64 64.52L651.06 64.59L651.48 65.86L651.91 65.61L652.33 65.38L652.75 66.25L653.18 65.13L653.6 66.17L654.02 65.8L654.45 66.44L654.87 65.91L655.29 66.11L655.71 65.74L656.14 66.64L656.56 66.25L656.98 65.62L657.41 66.79L657.83 66.26L658.25 66.27L658.68 66.65L659.1 66.61L659.52 66.03L659.94 66.17L660.37 66.41L660.79 66.56L661.21 67.09L661.64 66.69L662.06 66.12L662.48 66.41L662.91 67.29L663.33 67.56L663.75 67.1L664.17 66.84L664.6 67.11L665.02 67.05L665.44 66.85L665.87 66.69L666.29 66.94L666.71 66.61L667.14 67.54L667.56 66.92L667.98 66.96L668.4 67.62L668.83 66.72L669.25 67.69L669.67 67.65L670.1 66.3L670.52 66.78L670.94 67.1L671.37 66.79L671.79 66.87" stroke="#3a3a3a"/>
<path d="M611.3 42.48L611.72 40.09L612.15 42.33L612.57 44.21L612.99 42.3L613.41 45.38L613.84 43.96L614.26 46.89L614.68 48.12L615.11 46.68L615.53 47.35L615.95 50.03L616.38 49.92L616.8 48.61L617.22 49.48L617.64 52.64L618.07 53.04L618.49 51.81L618.91 50.33L619.34 54.53L619.76 55.91L620.18 55.42L620.61 54.73L621.03 56.21L621.45 55.93L621.88 57.22L622.3 57.64L622.72 57.01L623.14 58.48L623.57 58.98L623.99 58.17L624.41 58.09L624.84 59.3L625.26 59.51L625.68 60.15L626.1 60.43L626.53 60.47L626.95 60.09L627.37 61.11L627.8 60.38L628.22 61.96L628.64 62.82L629.07 61.26L629.49 62.62L629.91 61.44L630.33 62.77L630.76 62.83L631.18 62.11L631.6 62.59L632.03 63.11L632.45 62.59L632.87 62.9L633.3 63.59L633.72 63.88L634.14 64.47L634.56 63.88L634.99 63.53L635.41 63.47L635.83 63.54L636.26 64.41L636.68 64.04L637.1 65.1L637.53 64.03L637.95 64.49L638.37 65.42L638.79 65.23L639.22 65.19L639.64 65.08L640.06 65.42L640.49 65.66L640.91 65.17L641.33 65.66L641.76 66.23L642.18 66.19L642.6 65.06L643.02 65.76L643.45 65.93L643.87 66.27L644.29 66.36L644.72 66.37L645.14 65.82L645.56 66.43L645.99 65.74L646.41 67.09L646.83 66.96L647.25 65.25L647.68 66.62L648.1 67.04L648.52 66.11L648.95 66.91L649.37 67.07L649.79 66.52L650.22 66.69L650.64 67.07L651.06 66.68L651.48 66.93L651.91 67.03L652.33 66.62L652.75 66.9L653.18 67.05L653.6 66.8L654.02 67.41L654.45 66.65L654.87 66.84L655.29 66.94L655.71 67.35L656.14 67.47L656.56 67.12L656.98 67.39L657.41 66.95L657.83 67.67L658.25 67.16L658.68 67.37L659.1 67.28L659.52 67.23L659.94 66.76L660.37 67.88L660.79 67.23L661.21 67.35L661.64 67.56L662.06 67.01L662.48 67.5L662.91 67.39L663.33 67.3L663.75 67.65L664.17 67.56L664.6 67.41L665.02 67.57L665.44 67.49L665.87 67.11L666.29 67.24L666.71 67.6L667.14 66.93L667.56 67.46L667.98 67.15L668.4 67.28L668.83 67.42L669.25 67.89L669.67 67.39L670.1 68.11L670.52 67.37L670.94 67.04L671.37 67.16L671.79 67.07" stroke="#3a3a3a"/>
<path d="M611.3 24.59L611.72 27.29L612.15 36.36L612.57 33.93L612.99 34.83L613.41 34.25L613.84 34.67L614.26 38.86L614.68 42.38L615.11 39.65L615.53 40.16L615.95 42.05L616.38 43.61L616.8 45.85L617.22 42.05L617.64 48.04L618.07 49.22L618.49 46.7L618.91 48.37L619.34 48.63L619.76 49.73L620.18 48.87L620.61 49.86L621.03 52.7L621.45 51.62L621.88 54.49L622.3 55.54L622.72 53.16L623.14 55.27L623.57 57.35L623.99 55.84L624.41 56.86L624.84 56.27L625.26 57.18L625.68 58.17L626.1 58.5L626.53 57.7L626.95 59.37L627.37 58.91L627.8 60.06L628.22 59.33L628.64 58.71L629.07 59.87L629.49 59.79L629.91 60.52L630.33 61.7L630.76 61.52L631.18 61.53L631.6 61.54L632.03 62.39L632.45 61.89L632.87 62.87L633.3 62.62L633.72 62.86L634.14 63.67L634.56 62.68L634.99 63.36L635.41 63.5L635.83 63.73L636.26 64.92L636.68 64.71L637.1 64.59L637.53 63.81L637.95 64.69L638.37 64.26L638.79 65.14L639.22 65.17L639.64 65.1L640.06 64.53L640.49 65.83L640.91 65.28L641.33 65.12L641.76 65.33L642.18 65.49L642.6 65.24L643.02 65.53L643.45 66.14L643.87 65.54L644.29 66.19L644.72 66.08L645.14 65.44L645.56 65.12L645.99 65.57L646.41 66.03L646.83 66.55L647.25 66.6L647.68 65.74L648.1 66.29L648.52 66.98L648.95 65.93L649.37 66.34L649.79 66.12L650.22 66.5L650.64 67.46L651.06 66.99L651.48 66.81L651.91 66.85L652.33 66.3L652.75 67.1L653.18 66.93L653.6 66.95L654.02 66.99L654.45 67.34L654.87 67.43L655.29 67.92L655.71 66.95L656.14 67.16L656.56 67.04L656.98 67.49L657.41 67.16L657.83 67.5L658.25 67.54L658.68 67.1L659.1 67.02L659.52 67.06L659.94 67.28L660.37 67.41L660.79 66.84L661.21 66.91L661.64 67.54L662.06 67.7L662.48 67.24L662.91 67.27L663.33 67.68L663.75 66.66L664.17 68.09L664.6 67.69L665.02 67.35L665.44 67.12L665.87 68.05L666.29 67.6L666.71 67.01L667.14 67.03L667.56 67.57L667.98 67.48L668.4 67.79L668.83 67.39L669.25 67.85L669.67 68.17L670.1 68.02L670.52 67.52L670.94 67.96L671.37 67.2L671.79 67.15" stroke="#3a3a3a"/>
<path d="M611.3 40.02L611.72 43.11L612.15 42.74L612.57 45.51L612.99 43.65L613.41 47.38L613.84 46.96L614.26 49.8L614.68 49.37L615.11 50L615.53 48.4L615.95 53.57L616.38 50.53L616.8 52.34L617.22 50.63L617.64 52.58L618.07 52.41L618.49 53.89L618.91 55.51L619.34 54.74L619.76 54.85L620.18 55.24L620.61 56.84L621.03 56.68L621.45 57.78L621.88 58.07L622.3 58.36L622.72 56.31L623.14 58.63L623.57 59.55L623.99 58.8L624.41 59.2L624.84 58.47L625.26 59.46L625.68 59.86L626.1 60.38L626.53 60.89L626.95 61.26L627.37 62.01L627.8 62L628.22 61.87L628.64 61.06L629.07 60.95L629.49 62.22L629.91 63.53L630.33 61.9L630.76 62.33L631.18 62.98L631.6 62.87L632.03 64.08L632.45 63.69L632.87 63.06L633.3 63.25L633.72 64.89L634.14 64.62L634.56 63.59L634.99 64.69L635.41 65.24L635.83 63.74L636.26 64.78L636.68 65.18L637.1 64.47L637.53 65.57L637.95 65.15L638.37 64.89L638.79 64.78L639.22 65.32L639.64 65.48L640.06 65.21L640.49 65.63L640.91 65.49L641.33 66.1L641.76 65.82L642.18 65.98L642.6 65.67L643.02 66.83L643.45 66.14L643.87 65.75L644.29 65.58L644.72 65.95L645.14 66.73L645.56 66.95L645.99 66.58L646.41 66.99L646.83 66.62L647.25 66L647.68 66.9L648.1 66.64L648.52 66.55L648.95 66.4L649.37 66.87L649.79 66.72L650.22 67.06L650.64 67.17L651.06 66.78L651.48 67.01L651.91 67.75L652.33 67.4L652.75 67L653.18 67.16L653.6 66.84L654.02 66.91L654.45 67.14L654.87 66.65L655.29 67.31L655.71 66.5L656.14 66.86L656.56 66.85L656.98 66.95L657.41 66.5L657.83 66.57L658.25 67.5L658.68 66.66L659.1 66.84L659.52 67.12L659.94 67.25L660.37 67.3L660.79 68.18L661.21 67.76L661.64 67.62L662.06 67.97L662.48 67.31L662.91 67.79L663.33 67.07L663.75 67.25L664.17 67.28L664.6 67.09L665.02 67.69L665.44 67.17L665.87 67.31L666.29 67.01L666.71 67.81L667.14 67.32L667.56 67.19L667.98 67.34L668.4 68.3L668.83 67.83L669.25 67.69L669.67 67.6L670.1 67.63L670.52 67.28L670.94 67.78L671.37 68.27L671.79 66.81" stroke="#3a3a3a"/>
<path d="M611.3 16.91L611.72 14.32L612.15 18.82L612.57 24.22L612.99 24.48L613.41 26.49L613.84 27.5L614.26 25.81L614.68 28.48L615.11 34.98L615.53 31.32L615.95 30.88L616.38 32.87L616.8 30.83L617.22 38.86L617.64 35.92L618.07 37.36L618.49 37.13L618.91 41.7L619.34 42.52L619.76 41.51L620.18 41.98L620.61 45.76L621.03 43.22L621.45 44.57L621.88 44.28L622.3 49.71L622.72 46.1L623.14 48.65L623.57 48.76L623.99 47.81L624.41 47.34L624.84 49.84L625.26 50.73L625.68 49.68L626.1 52.71L626.53 52.41L626.95 53.29L627.37 54.27L627.8 53.54L628.22 52.18L628.64 54.4L629.07 54.6L629.49 55.52L629.91 54.88L630.33 56.13L630.76 57.42L631.18 56.94L631.6 56.19L632.03 57.79L632.45 57.1L632.87 58.43L633.3 57.14L633.72 58.77L634.14 58.79L634.56 59.75L634.99 59.23L635.41 60.23L635.83 61.33L636.26 60.37L636.68 61.6L637.1 60.09L637.53 60.76L637.95 61.46L638.37 61.26L638.79 63.43L639.22 61.16L639.64 62.63L640.06 62.05L640.49 61.16L640.91 63.68L641.33 63.17L641.76 62.91L642.18 63.03L642.6 64.28L643.02 64.02L643.45 62.92L643.87 64.11L644.29 63.66L644.72 64.74L645.14 64.63L645.56 65.17L645.99 64.29L646.41 63.98L646.83 64.58L647.25 64.85L647.68 64.72L648.1 64.71L648.52 65.14L648.95 64.86L649.37 64.34L649.79 64.32L650.22 65.6L650.64 65.96L651.06 64.7L651.48 65.17L651.91 65.15L652.33 65.47L652.75 65.87L653.18 65.45L653.6 65.46L654.02 65.5L654.45 66.45L654.87 65.68L655.29 66.27L655.71 66.32L656.14 66.1L656.56 66.42L656.98 65.46L657.41 66.16L657.83 66.32L658.25 66.53L658.68 66.41L659.1 66.63L659.52 66.37L659.94 66.31L660.37 66.35L660.79 67.14L661.21 66.84L661.64 66.72L662.06 67.22L662.48 66.68L662.91 66.9L663.33 66.85L663.75 66.77L664.17 67.14L664.6 66.42L665.02 66.62L665.44 67.19L665.87 66.87L666.29 66.79L666.71 67.33L667.14 67.21L667.56 66.87L667.98 68L668.4 67.59L668.83 67.06L669.25 66.98L669.67 67.51L670.1 66.93L670.52 66.5L670.94 67.18L671.37 67.28L671.79 67.26" stroke="#666666"/>
<path d="M611.3 46.97L611.72 46.55L612.15 48.26L612.57 47.3L612.99 48.91L613.41 49.36L613.84 51.85L614.26 51.98L614.68 52.95L615.11 52.52L615.53 53.07L615.95 53.93L616.38 54.15L616.8 55.06L617.22 54.23L617.64 56.7L618.07 55.78L618.49 57.49L618.91 57.92L619.34 58.87L619.76 56.99L620.18 59.34L620.61 59.4L621.03 60.16L621.45 59.93L621.88 60.82L622.3 59.09L622.72 60.53L623.14 59.49L623.57 60.48L623.99 62.55L624.41 61.42L624.84 61.44L625.26 61.8L625.68 62.55L626.1 62.29L626.53 62.16L626.95 63.06L627.37 62.62L627.8 62.81L628.22 62.64L628.64 63.89L629.07 63.79L629.49 64.33L629.91 64.71L630.33 64.96L630.76 64.78L631.18 64.23L631.6 65.09L632.03 64.98L632.45 65.06L632.87 65.52L633.3 65.28L633.72 65.92L634.14 65.75L634.56 65.75L634.99 65.63L635.41 66.21L635.83 65.83L636.26 66.57L636.68 66.79L637.1 66.14L637.53 65.72L637.95 65.6L638.37 65.91L638.79 66.25L639.22 65.68L639.64 66.35L640.06 66.75L640.49 66.18L640.91 66.83L641.33 67.04L641.76 66.47L642.18 66.33L642.6 66.9L643.02 67.09L643.45 66.8L643.87 66.65L644.29 67.25L644.72 67.07L645.14 66.78L645.56 66.86L645.99 66.4L646.41 66.75L646.83 67.97L647.25 66.67L647.68 67.39L648.1 67.01L648.52 67.68L648.95 66.99L649.37 67.78L649.79 66.98L650.22 66.73L650.64 67.36L651.06 67.07L651.48 67.26L651.91 67.37L652.33 67.65L652.75 67.39L653.18 67.26L653.6 67.82L654.02 66.77L654.45 67.81L654.87 67.5L655.29 67.53L655.71 67.53L656.14 67.6L656.56 66.83L656.98 67.55L657.41 67.57L657.83 67.31L658.25 67.69L658.68 68.02L659.1 67.09L659.52 67.57L659.94 67.18L660.37 67.19L660.79 66.97L661.21 67.33L661.64 67.5L662.06 68.12L662.48 67.29L662.91 67.87L663.33 67.17L663.75 67.75L664.17 67.9L664.6 67.59L665.02 67.65L665.44 67.56L665.87 67.32L666.29 67.15L666.71 67.56L667.14 67.18L667.56 67.55L667.98 68.1L668.4 67.9L668.83 67.66L669.25 67.67L669.67 67.45L670.1 67.93L670.52 68.02L670.94 67.39L671.37 67.75L671.79 67.05" stroke="#3a3a3a"/>
<path d="M611.3 39.2L611.72 35.43L612.15 40.04L612.57 40.94L612.99 39.99L613.41 43.82L613.84 43.08L614.26 40.69L614.68 43.75L615.11 46.73L615.53 46.22L615.95 46.61L616.38 48.26L616.8 47.38L617.22 46.97L617.64 49.11L618.07 48.7L618.49 49.99L618.91 50.74L619.34 52.28L619.76 50.91L620.18 51.02L620.61 53.43L621.03 54.33L621.45 53.37L621.88 54.24L622.3 53.7L622.72 54.73L623.14 55.71L623.57 57.22L623.99 55.81L624.41 56.64L624.84 58.14L625.26 58.64L625.68 59.22L626.1 57.58L626.53 58.72L626.95 61.2L627.37 59.62L627.8 59.72L628.22 59.6L628.64 59.76L629.07 60.28L629.49 59.79L629.91 59.84L630.33 60.91L630.76 59.97L631.18 61.28L631.6 61.95L632.03 61.52L632.45 62.67L632.87 62.17L633.3 62.8L633.72 62.61L634.14 62.42L634.56 64.06L634.99 62.64L635.41 62.87L635.83 63.28L636.26 62.93L636.68 63.27L637.1 63.78L637.53 64.23L637.95 63.48L638.37 63.6L638.79 64.81L639.22 64.56L639.64 64.89L640.06 64.04L640.49 64.81L640.91 65.22L641.33 64.05L641.76 64.63L642.18 64.82L642.6 64.91L643.02 65.18L643.45 65.17L643.87 64.88L644.29 65.16L644.72 65.62L645.14 65.46L645.56 64.79L645.99 65.86L646.41 66.24L646.83 65.72L647.25 66.29L647.68 64.85L648.1 65.7L648.52 65.78L648.95 65.92L649.37 65.35L649.79 66.56L650.22 66.23L650.64 66.9L651.06 65.84L651.48 66.38L651.91 65.74L652.33 66.54L652.75 66.86L653.18 66.78L653.6 66.26L654.02 66.89L654.45 66.54L654.87 66.93L655.29 66.95L655.71 66.93L656.14 66.19L656.56 67.17L656.98 66.71L657.41 66.57L657.83 67.14L658.25 67.43L658.68 66.41L659.1 66.36L659.52 67.07L659.94 67.42L660.37 66.73L660.79 67.06L661.21 67.35L661.64 67.22L662.06 67.92L662.48 67.4L662.91 67.56L663.33 67.61L663.75 66.99L664.17 67.11L664.6 66.65L665.02 68.12L665.44 67.47L665.87 67.54L666.29 66.84L666.71 66.95L667.14 67.27L667.56 67.29L667.98 67.58L668.4 67.51L668.83 67.5L669.25 68.19L669.67 66.76L670.1 67.15L670.52 66.72L670.94 67.01L671.37 67.26L671.79 67.16" stroke="#3a3a3a"/>
<path d="M611.3 37.42L611.72 34.98L612.15 39.48L612.57 38.72L612.99 39.23L613.41 40.25L613.84 42.69L614.26 46.19L614.68 43.83L615.11 41.73L615.53 42.39L615.95 46.22L616.38 43.99L616.8 45.73L617.22 47.84L617.64 49.67L618.07 49.57L618.49 50.35L618.91 50.25L619.34 52.61L619.76 53.18L620.18 52.55L620.61 53.39L621.03 52.81L621.45 54.69L621.88 53.39L622.3 53.66L622.72 56.27L623.14 55.34L623.57 54.9L623.99 56.53L624.41 56.12L624.84 57.48L625.26 57.62L625.68 58.31L626.1 58.72L626.53 57.58L626.95 59.52L627.37 60.59L627.8 60.04L628.22 59.53L628.64 60.73L629.07 59.82L629.49 60.1L629.91 60.88L630.33 61.41L630.76 61.74L631.18 62.14L631.6 60.77L632.03 61.69L632.45 62.48L632.87 62.37L633.3 62.43L633.72 62.03L634.14 62.55L634.56 63.23L634.99 63.78L635.41 64.32L635.83 63.62L636.26 62.91L636.68 63.8L637.1 63.88L637.53 64.48L637.95 64.56L638.37 65.16L638.79 65.08L639.22 63.9L639.64 64.7L640.06 64.41L640.49 65.2L640.91 64.67L641.33 64.99L641.76 65.8L642.18 66.34L642.6 66.24L643.02 65.49L643.45 65.33L643.87 65.86L644.29 65.92L644.72 65.48L645.14 65.98L645.56 66.36L645.99 65.88L646.41 65.69L646.83 66.9L647.25 66.31L647.68 66.47L648.1 66.67L648.52 65.9L648.95 66.25L649.37 65.71L649.79 66.32L650.22 66.73L650.64 66.76L651.06 66.43L651.48 66.69L651.91 66.81L652.33 66.78L652.75 66.89L653.18 66.57L653.6 67.21L654.02 67L654.45 66.98L654.87 66.62L655.29 66.87L655.71 66.52L656.14 67.05L656.56 66.96L656.98 67.15L657.41 67.03L657.83 67.06L658.25 67.19L658.68 67.34L659.1 67.24L659.52 66.7L659.94 67.3L660.37 67.5L660.79 67.51L661.21 67.2L661.64 67.56L662.06 67.4L662.48 67.46L662.91 67.13L663.33 67.4L663.75 67.1L664.17 67.08L664.6 67.34L665.02 67.6L665.44 67.53L665.87 66.93L666.29 67.01L666.71 67.8L667.14 67.36L667.56 67.7L667.98 66.84L668.4 67.45L668.83 67.92L669.25 67.74L669.67 67.9L670.1 67.82L670.52 67.51L670.94 67.8L671.37 67.28L671.79 67.9" stroke="#666666"/>
<path d="M611.3 28.64L611.72 30.41L612.15 31.3L612.57 33.12L612.99 33.65L613.41 34.49L613.84 38.86L614.26 37.68L614.68 37.32L615.11 37.21L615.53 42.72L615.95 42.32L616.38 44.42L616.8 43.12L617.22 45.54L617.64 46.18L618.07 44.4L618.49 43.12L618.91 49.78L619.34 45.5L619.76 49.54L620.18 48.15L620.61 49.21L621.03 48.78L621.45 51.08L621.88 52.35L622.3 52.03L622.72 51.64L623.14 53.95L623.57 53.08L623.99 53.99L624.41 54.27L624.84 54.89L625.26 54.76L625.68 55.01L626.1 56.41L626.53 56.85L626.95 58.75L627.37 58.02L627.8 58.88L628.22 57.43L628.64 59.15L629.07 59.16L629.49 58.53L629.91 58.49L630.33 58.63L630.76 60.39L631.18 59.89L631.6 59.58L632.03 61.13L632.45 60.96L632.87 61.83L633.3 61.67L633.72 61.04L634.14 61.64L634.56 62.12L634.99 62.42L635.41 61.39L635.83 62.03L636.26 63.34L636.68 61.61L637.1 63.2L637.53 63.22L637.95 63.55L638.37 63.74L638.79 63.25L639.22 64.46L639.64 63.84L640.06 64.15L640.49 63.26L640.91 64.05L641.33 64.15L641.76 64.22L642.18 64.3L642.6 64.63L643.02 65.9L643.45 64.69L643.87 65.12L644.29 64.76L644.72 65.02L645.14 65.48L645.56 65.71L645.99 65.84L646.41 65.37L646.83 65.61L647.25 66L647.68 65.85L648.1 65.63L648.52 66.11L648.95 65.95L649.37 66.2L649.79 67.04L650.22 66.04L650.64 66.11L651.06 65.87L651.48 65.74L651.91 66.56L652.33 66.11L652.75 66.28L653.18 66.4L653.6 66.16L654.02 66.19L654.45 67.02L654.87 66.05L655.29 66.69L655.71 66.91L656.14 66.95L656.56 66.81L656.98 67.17L657.41 66.41L657.83 66.68L658.25 67.18L658.68 66.6L659.1 66.83L659.52 66.91L659.94 66.64L660.37 67.03L660.79 67.11L661.21 66.87L661.64 67.69L662.06 67.49L662.48 66.94L662.91 66.77L663.33 67.71L663.75 67.16L664.17 67.41L664.6 67.3L665.02 67.02L665.44 66.74L665.87 66.67L666.29 66.95L666.71 67.07L667.14 67.25L667.56 67.92L667.98 67.19L668.4 67.73L668.83 67.71L669.25 67.32L669.67 67.88L670.1 66.81L670.52 67.2L670.94 67.29L671.37 67.26L671.79 67.35" stroke="#666666"/>
<path d="M611.3 17.33L611.72 14.39L612.15 19.82L612.57 27.62L612.99 28.05L613.41 25.33L613.84 27.78L614.26 29.9L614.68 29.69L615.11 31.4L615.53 32.95L615.95 35.87L616.38 37.26L616.8 36.49L617.22 36.85L617.64 40.55L618.07 40.28L618.49 43.7L618.91 43.73L619.34 45.21L619.76 43.77L620.18 43.84L620.61 46.1L621.03 46.96L621.45 47.08L621.88 46.32L622.3 49.49L622.72 51.34L623.14 51.6L623.57 54.19L623.99 52.94L624.41 52.17L624.84 52.7L625.26 54.24L625.68 55.42L626.1 55.58L626.53 57.44L626.95 55.28L627.37 56.26L627.8 57.25L628.22 55.96L628.64 57.42L629.07 59.27L629.49 58.01L629.91 59.02L630.33 60.27L630.76 58.61L631.18 59.76L631.6 60.43L632.03 59.3L632.45 60.81L632.87 60.54L633.3 61.65L633.72 62.69L634.14 62.64L634.56 61.31L634.99 62.61L635.41 60.73L635.83 63.91L636.26 62.34L636.68 63.63L637.1 62.86L637.53 63.39L637.95 64.04L638.37 63.28L638.79 63.22L639.22 63.33L639.64 63.47L640.06 63.99L640.49 64.45L640.91 64.1L641.33 64.86L641.76 64.93L642.18 65.7L642.6 64.69L643.02 64.73L643.45 65.2L643.87 65.71L644.29 64.88L644.72 65.16L645.14 64.8L645.56 65.46L645.99 65.22L646.41 65.8L646.83 65.84L647.25 65.91L647.68 66L648.1 66.21L648.52 65.86L648.95 65.65L649.37 66.28L649.79 65.76L650.22 66.12L650.64 66.36L651.06 66.04L651.48 66.63L651.91 67.26L652.33 66.25L652.75 66.79L653.18 66.83L653.6 66.4L654.02 66.98L654.45 66.26L654.87 67.35L655.29 66.74L655.71 66.55L656.14 66.44L656.56 66.73L656.98 67.03L657.41 67.16L657.83 67.18L658.25 66.73L658.68 67.01L659.1 66.89L659.52 66.64L659.94 67.61L660.37 67.4L660.79 67.09L661.21 67.24L661.64 67.17L662.06 67.21L662.48 67.87L662.91 67.14L663.33 67.47L663.75 67.7L664.17 67.14L664.6 67.6L665.02 67.01L665.44 67.08L665.87 67.16L666.29 67.37L666.71 67.23L667.14 67.39L667.56 67.07L667.98 67.29L668.4 67.16L668.83 67.15L669.25 67.34L669.67 67.74L670.1 67.15L670.52 67.18L670.94 67.6L671.37 68.17L671.79 67.92" stroke="#3a3a3a"/>
<path d="M611.3 19.19L611.72 20.78L612.15 16.98L612.57 24.92L612.99 26.61L613.41 23.36L613.84 27.35L614.26 29.19L614.68 27.34L615.11 34.11L615.53 33L615.95 33.09L616.38 34.88L616.8 38.61L617.22 39.19L617.64 35.41L618.07 39.74L618.49 41L618.91 39.77L619.34 45.24L619.76 43.39L620.18 46.78L620.61 42.97L621.03 47.17L621.45 46.4L621.88 48.51L622.3 47.83L622.72 48.29L623.14 49.34L623.57 50.38L623.99 50.33L624.41 51.49L624.84 52.35L625.26 51.67L625.68 51.99L626.1 54.78L626.53 54.91L626.95 55.14L627.37 54.57L627.8 56.6L628.22 54.33L628.64 56.11L629.07 56.42L629.49 56.21L629.91 57.94L630.33 57.38L630.76 57.71L631.18 57.38L631.6 59.49L632.03 57.99L632.45 58.89L632.87 59.43L633.3 59.15L633.72 60.34L634.14 60.56L634.56 60.14L634.99 61.16L635.41 60.48L635.83 60.54L636.26 61.48L636.68 61.72L637.1 62.42L637.53 62.76L637.95 61.6L638.37 63.19L638.79 62.74L639.22 62.8L639.64 63.6L640.06 63.64L640.49 63.8L640.91 62.5L641.33 63.54L641.76 63.18L642.18 63.01L642.6 63.64L643.02 63.63L643.45 64.59L643.87 64.82L644.29 63.94L644.72 64.05L645.14 65.28L645.56 64.41L645.99 64.89L646.41 64.76L646.83 64.79L647.25 64.48L647.68 65.64L648.1 65.45L648.52 65.01L648.95 65.71L649.37 65.46L649.79 65.78L650.22 66.5L650.64 66.1L651.06 65.6L651.48 66.22L651.91 66.66L652.33 66.32L652.75 66.14L653.18 66.05L653.6 66.16L654.02 66.14L654.45 66.77L654.87 66.65L655.29 66.75L655.71 66.67L656.14 66.4L656.56 66.12L656.98 66.72L657.41 66.29L657.83 66.31L658.25 67.15L658.68 67.06L659.1 66.75L659.52 67.32L659.94 66.22L660.37 67.55L660.79 67.35L661.21 66.68L661.64 67.23L662.06 66.76L662.48 67.36L662.91 66.69L663.33 67.27L663.75 66.85L664.17 66.78L664.6 67.64L665.02 67.45L665.44 67.75L665.87 67.56L666.29 66.91L666.71 67.24L667.14 66.97L667.56 66.79L667.98 66.94L668.4 67.05L668.83 67.44L669.25 67.44L669.67 67.23L670.1 67.06L670.52 67.01L670.94 67.27L671.37 67.47L671.79 67.41" stroke="#666666"/>
<path d="M611.3 36.74L611.72 41.65L612.15 41.26L612.57 42.73L612.99 41.58L613.41 44.37L613.84 42.42L614.26 43.5L614.68 45.85L615.11 46.54L615.53 48.71L615.95 48.04L616.38 48.32L616.8 47.62L617.22 49.14L617.64 50.86L618.07 51.38L618.49 53.23L618.91 51.91L619.34 52.95L619.76 53.07L620.18 54.62L620.61 53.82L621.03 53.8L621.45 55.27L621.88 53.91L622.3 56.78L622.72 56.73L623.14 56.9L623.57 56.93L623.99 57.74L624.41 58.09L624.84 58.2L625.26 57.73L625.68 58.27L626.1 57.72L626.53 57.4L626.95 60.9L627.37 60.53L627.8 58.97L628.22 60.64L628.64 61.04L629.07 61.4L629.49 60.87L629.91 62.18L630.33 61.06L630.76 61.05L631.18 62.49L631.6 61.7L632.03 62.45L632.45 63.28L632.87 63.5L633.3 63.19L633.72 62.83L634.14 63.3L634.56 63.14L634.99 63.26L635.41 62.84L635.83 62.58L636.26 64L636.68 63.44L637.1 64.67L637.53 64.04L637.95 64.44L638.37 63.6L638.79 64.95L639.22 63.84L639.64 64.71L640.06 64.84L640.49 65.1L640.91 65.06L641.33 64.97L641.76 65.29L642.18 65.34L642.6 64.62L643.02 65.94L643.45 65.83L643.87 66L644.29 65.38L644.72 65.57L645.14 65.34L645.56 65.86L645.99 65.3L646.41 65.79L646.83 65.88L647.25 65.91L647.68 65.67L648.1 66.2L648.52 66.24L648.95 65.56L649.37 66.38L649.79 66.53L650.22 66.26L650.64 65.99L651.06 67.39L651.48 66.27L651.91 66.02L652.33 66.26L652.75 67.41L653.18 66.63L653.6 66.54L654.02 66.62L654.45 66.56L654.87 66.19L655.29 67.29L655.71 67.05L656.14 66.86L656.56 67.08L656.98 66.74L657.41 67.3L657.83 67.43L658.25 66.96L658.68 67.4L659.1 67.43L659.52 66.98L659.94 67.36L660.37 66.86L660.79 67.35L661.21 67.64L661.64 67.38L662.06 66.82L662.48 67.15L662.91 67.15L663.33 67.48L663.75 67.06L664.17 67.15L664.6 67.26L665.02 68L665.44 66.97L665.87 67.29L666.29 67.41L666.71 67.48L667.14 67.08L667.56 67.44L667.98 67.23L668.4 67.92L668.83 67.74L669.25 67.56L669.67 67.29L670.1 67.39L670.52 67.41L670.94 67.43L671.37 67.69L671.79 67.56" stroke="#3a3a3a"/>
<path d="M611.3 47.03L611.72 45.15L612.15 48.58L612.57 47.71L612.99 46.74L613.41 49.75L613.84 48.59L614.26 50.16L614.68 51.98L615.11 50.89L615.53 54.7L615.95 55.21L616.38 55.21L616.8 53.72L617.22 55.05L617.64 54.75L618.07 55.91L618.49 56.21L618.91 57.24L619.34 57.57L619.76 56.89L620.18 57.49L620.61 59.5L621.03 58.44L621.45 57.77L621.88 59.05L622.3 60.57L622.72 59.74L623.14 60.41L623.57 61.05L623.99 60.52L624.41 60.64L624.84 61.97L625.26 61.83L625.68 62.37L626.1 62.37L626.53 61.71L626.95 63.04L627.37 62.7L627.8 63.06L628.22 63.34L628.64 64.13L629.07 63.42L629.49 64.44L629.91 63.7L630.33 64.25L630.76 64.28L631.18 64.7L631.6 65.01L632.03 65.21L632.45 64.86L632.87 65.02L633.3 64.97L633.72 65.33L634.14 64.98L634.56 65.35L634.99 65.45L635.41 65.69L635.83 65.68L636.26 65.5L636.68 66.12L637.1 66.39L637.53 65.84L637.95 65.9L638.37 66.12L638.79 66.1L639.22 66.74L639.64 66.67L640.06 66.37L640.49 66.44L640.91 66.93L641.33 66.36L641.76 67.25L642.18 66.18L642.6 67.04L643.02 66.91L643.45 67.11L643.87 67.25L644.29 66.94L644.72 67.51L645.14 67.01L645.56 66.87L645.99 67.06L646.41 67L646.83 67.5L647.25 67.66L647.68 67.51L648.1 66.75L648.52 67.02L648.95 67.74L649.37 66.61L649.79 66.99L650.22 66.86L650.64 66.91L651.06 66.83L651.48 67.82L651.91 67.26L652.33 67.55L652.75 66.7L653.18 67.12L653.6 67.35L654.02 67.45L654.45 68.05L654.87 67.36L655.29 67.67L655.71 66.99L656.14 67.2L656.56 67.46L656.98 67.57L657.41 67.11L657.83 67.64L658.25 67.14L658.68 67.42L659.1 67.59L659.52 67.39L659.94 66.97L660.37 68.02L660.79 67.3L661.21 67.31L661.64 67.62L662.06 67.1L662.48 67.35L662.91 67.39L663.33 67.87L663.75 67.39L664.17 67.97L664.6 67.42L665.02 66.92L665.44 67.86L665.87 67.12L666.29 67.93L666.71 67.58L667.14 67.39L667.56 68.05L667.98 67.51L668.4 67.85L668.83 67.81L669.25 67.37L669.67 67.65L670.1 67.51L670.52 67.63L670.94 67.52L671.37 67.16L671.79 67.6" stroke="#3a3a3a"/>
</g>
<rect x="611.3" y="8.6" width="59.3" height="59.7" fill="none" stroke="#444" stroke-width="0.8"/>
<path d="M611.3 68.3h1.5" stroke="#444" stroke-width="0.7"/>
<text x="609.8" y="71" font-size="7.6" text-anchor="end">0</text>
<path d="M611.3 51.3h1.5" stroke="#444" stroke-width="0.7"/>
<text x="609.8" y="54" font-size="7.6" text-anchor="end">10</text>
<path d="M611.3 34.3h1.5" stroke="#444" stroke-width="0.7"/>
<text x="609.8" y="37" font-size="7.6" text-anchor="end">20</text>
<path d="M611.3 17.3h1.5" stroke="#444" stroke-width="0.7"/>
<text x="609.8" y="20" font-size="7.6" text-anchor="end">30</text>
<path d="M619.76 68.3v-1.5" stroke="#444" stroke-width="0.7"/>
<text x="619.76" y="76.3" font-size="7.6" text-anchor="middle">-50</text>
<path d="M662.06 68.3v-1.5" stroke="#444" stroke-width="0.7"/>
<text x="662.06" y="76.3" font-size="7.6" text-anchor="middle">0</text>
<text x="631" y="84" font-size="7.8"><tspan font-style="italic">V</tspan><tspan font-size="5.4" dy="1.8">g</tspan><tspan dy="-1.8"> (V)</tspan></text>
<text transform="translate(599.4 38) rotate(-90)" font-size="7.8" text-anchor="middle"><tspan font-style="italic">I</tspan><tspan font-size="5.4" dy="1.8">ds</tspan><tspan dy="-1.8"> (nA)</tspan></text>
<text x="0.5" y="216.2" font-size="17.5" font-weight="bold">d</text>
<rect x="21" y="212.3" width="20.06" height="20.06" fill="#3466ae"/>
<rect x="40.76" y="212.3" width="20.06" height="20.06" fill="#3466ae"/>
<rect x="60.52" y="212.3" width="20.06" height="20.06" fill="#4a88c4"/>
<rect x="80.29" y="212.3" width="20.06" height="20.06" fill="#5b9dcc"/>
<rect x="100.05" y="212.3" width="20.06" height="20.06" fill="#3466ae"/>
<rect x="119.81" y="212.3" width="20.06" height="20.06" fill="#3568ae"/>
<rect x="139.57" y="212.3" width="20.06" height="20.06" fill="#3e7bbd"/>
<rect x="159.34" y="212.3" width="20.06" height="20.06" fill="#f5f9fd"/>
<rect x="21" y="232.06" width="20.06" height="20.06" fill="#6aaad4"/>
<rect x="40.76" y="232.06" width="20.06" height="20.06" fill="#f5f9fd"/>
<rect x="60.52" y="232.06" width="20.06" height="20.06" fill="#3466ae"/>
<rect x="80.29" y="232.06" width="20.06" height="20.06" fill="#3466ae"/>
<rect x="100.05" y="232.06" width="20.06" height="20.06" fill="#5699cb"/>
<rect x="119.81" y="232.06" width="20.06" height="20.06" fill="#5699cb"/>
<rect x="139.57" y="232.06" width="20.06" height="20.06" fill="#3466ae"/>
<rect x="159.34" y="232.06" width="20.06" height="20.06" fill="#4a88c4"/>
<rect x="21" y="251.82" width="20.06" height="20.06" fill="#3568b0"/>
<rect x="40.76" y="251.82" width="20.06" height="20.06" fill="#68a8d2"/>
<rect x="60.52" y="251.82" width="20.06" height="20.06" fill="#4a8cc6"/>
<rect x="80.29" y="251.82" width="20.06" height="20.06" fill="#5c9fcf"/>
<rect x="100.05" y="251.82" width="20.06" height="20.06" fill="#3a70b5"/>
<rect x="119.81" y="251.82" width="20.06" height="20.06" fill="#f5f9fd"/>
<rect x="139.57" y="251.82" width="20.06" height="20.06" fill="#4a8bc6"/>
<rect x="159.34" y="251.82" width="20.06" height="20.06" fill="#5597ca"/>
<rect x="21" y="271.58" width="20.06" height="20.06" fill="#3c78bc"/>
<rect x="40.76" y="271.58" width="20.06" height="20.06" fill="#5b9dcc"/>
<rect x="60.52" y="271.58" width="20.06" height="20.06" fill="#3466ae"/>
<rect x="80.29" y="271.58" width="20.06" height="20.06" fill="#4080c2"/>
<rect x="100.05" y="271.58" width="20.06" height="20.06" fill="#68a8d2"/>
<rect x="119.81" y="271.58" width="20.06" height="20.06" fill="#5c9fcf"/>
<rect x="139.57" y="271.58" width="20.06" height="20.06" fill="#4888c5"/>
<rect x="159.34" y="271.58" width="20.06" height="20.06" fill="#4888c5"/>
<rect x="21" y="291.34" width="20.06" height="20.06" fill="#62a4d2"/>
<rect x="40.76" y="291.34" width="20.06" height="20.06" fill="#5b9dcc"/>
<rect x="60.52" y="291.34" width="20.06" height="20.06" fill="#62a2d2"/>
<rect x="80.29" y="291.34" width="20.06" height="20.06" fill="#5090c8"/>
<rect x="100.05" y="291.34" width="20.06" height="20.06" fill="#6aaad5"/>
<rect x="119.81" y="291.34" width="20.06" height="20.06" fill="#62a4d2"/>
<rect x="139.57" y="291.34" width="20.06" height="20.06" fill="#3466ae"/>
<rect x="159.34" y="291.34" width="20.06" height="20.06" fill="#f5f9fd"/>
<rect x="21" y="311.1" width="20.06" height="20.06" fill="#5a9dcf"/>
<rect x="40.76" y="311.1" width="20.06" height="20.06" fill="#4f90c8"/>
<rect x="60.52" y="311.1" width="20.06" height="20.06" fill="#3a72b8"/>
<rect x="80.29" y="311.1" width="20.06" height="20.06" fill="#4080c0"/>
<rect x="100.05" y="311.1" width="20.06" height="20.06" fill="#3f7dbf"/>
<rect x="119.81" y="311.1" width="20.06" height="20.06" fill="#f5f9fd"/>
<rect x="139.57" y="311.1" width="20.06" height="20.06" fill="#4a88c4"/>
<rect x="159.34" y="311.1" width="20.06" height="20.06" fill="#4080c2"/>
<rect x="21" y="330.86" width="20.06" height="20.06" fill="#5a9fd0"/>
<rect x="40.76" y="330.86" width="20.06" height="20.06" fill="#4686c4"/>
<rect x="60.52" y="330.86" width="20.06" height="20.06" fill="#5597ca"/>
<rect x="80.29" y="330.86" width="20.06" height="20.06" fill="#3f7cbe"/>
<rect x="100.05" y="330.86" width="20.06" height="20.06" fill="#6eaed4"/>
<rect x="119.81" y="330.86" width="20.06" height="20.06" fill="#5a9ecf"/>
<rect x="139.57" y="330.86" width="20.06" height="20.06" fill="#3466ae"/>
<rect x="159.34" y="330.86" width="20.06" height="20.06" fill="#4080c0"/>
<rect x="21" y="350.62" width="20.06" height="20.06" fill="#5a9fcf"/>
<rect x="40.76" y="350.62" width="20.06" height="20.06" fill="#4282c2"/>
<rect x="60.52" y="350.62" width="20.06" height="20.06" fill="#5fa0d2"/>
<rect x="80.29" y="350.62" width="20.06" height="20.06" fill="#4080c0"/>
<rect x="100.05" y="350.62" width="20.06" height="20.06" fill="#3a6fb5"/>
<rect x="119.81" y="350.62" width="20.06" height="20.06" fill="#f5f9fd"/>
<rect x="139.57" y="350.62" width="20.06" height="20.06" fill="#5597ca"/>
<rect x="159.34" y="350.62" width="20.06" height="20.06" fill="#3c78bc"/>
<rect x="21" y="370.38" width="20.06" height="20.06" fill="#4a8ec8"/>
<rect x="40.76" y="370.38" width="20.06" height="20.06" fill="#68a8d2"/>
<rect x="60.52" y="370.38" width="20.06" height="20.06" fill="#f5f9fd"/>
<rect x="80.29" y="370.38" width="20.06" height="20.06" fill="#4080c2"/>
<rect x="100.05" y="370.38" width="20.06" height="20.06" fill="#4888c4"/>
<rect x="119.81" y="370.38" width="20.06" height="20.06" fill="#5fa0d0"/>
<rect x="139.57" y="370.38" width="20.06" height="20.06" fill="#3a6fb5"/>
<rect x="159.34" y="370.38" width="20.06" height="20.06" fill="#f5f9fd"/>
<rect x="21" y="390.14" width="20.06" height="20.06" fill="#4a8ec8"/>
<rect x="40.76" y="390.14" width="20.06" height="20.06" fill="#5597ca"/>
<rect x="60.52" y="390.14" width="20.06" height="20.06" fill="#5c9ecf"/>
<rect x="80.29" y="390.14" width="20.06" height="20.06" fill="#4a8ac4"/>
<rect x="100.05" y="390.14" width="20.06" height="20.06" fill="#4a8ac4"/>
<rect x="119.81" y="390.14" width="20.06" height="20.06" fill="#5a9ecf"/>
<rect x="139.57" y="390.14" width="20.06" height="20.06" fill="#3a6fb5"/>
<rect x="159.34" y="390.14" width="20.06" height="20.06" fill="#62a4d2"/>
<rect x="21.0" y="212.3" width="158.1" height="197.6" fill="none" stroke="#0a0a0a" stroke-width="1.75"/>
<defs><linearGradient id="gcb" x1="0" y1="1" x2="0" y2="0"><stop offset="0" stop-color="#f2f7fc"/><stop offset="0.167" stop-color="#d2e2f0"/><stop offset="0.333" stop-color="#9dc4e1"/><stop offset="0.5" stop-color="#69a8d3"/><stop offset="0.667" stop-color="#4888c2"/><stop offset="0.833" stop-color="#2f62a8"/><stop offset="1" stop-color="#1d3870"/></linearGradient></defs>
<rect x="189.7" y="213" width="10.1" height="197.4" fill="url(#gcb)" stroke="#777" stroke-width="0.7"/>
<text x="203.3" y="412.3" font-size="11">0</text>
<path d="M199.8 344.33h-1.6" stroke="#555" stroke-width="0.6"/>
<text x="203.3" y="348.2" font-size="11">10</text>
<path d="M199.8 278.67h-1.6" stroke="#555" stroke-width="0.6"/>
<text x="203.3" y="282.2" font-size="11">20</text>
<text x="203.3" y="219.7" font-size="11">30</text>
<text x="182.6" y="204.8" font-size="11"><tspan font-style="italic">I</tspan><tspan font-size="7.4" dy="2.4">on</tspan><tspan dy="-2.4"> (nA)</tspan></text>
<text x="232.9" y="216.2" font-size="17.5" font-weight="bold">e</text>
<rect x="274.2" y="212.3" width="148.3" height="38" fill="#fff" stroke="#b0b0b0" stroke-width="0.7"/>
<rect x="274.2" y="248.6" width="17.7" height="1.7" fill="#baebfa" stroke="#8aa4ad" stroke-width="0.45"/>
<rect x="291.9" y="246.6" width="19.1" height="3.7" fill="#baebfa" stroke="#8aa4ad" stroke-width="0.45"/>
<rect x="311.0" y="244.3" width="18.1" height="6" fill="#baebfa" stroke="#8aa4ad" stroke-width="0.45"/>
<rect x="329.1" y="240.0" width="18.9" height="10.3" fill="#baebfa" stroke="#8aa4ad" stroke-width="0.45"/>
<rect x="348.0" y="215.4" width="18.6" height="34.9" fill="#baebfa" stroke="#8aa4ad" stroke-width="0.45"/>
<rect x="366.6" y="223.3" width="19.1" height="27" fill="#baebfa" stroke="#8aa4ad" stroke-width="0.45"/>
<rect x="385.7" y="249.0" width="18" height="1.3" fill="#baebfa" stroke="#8aa4ad" stroke-width="0.45"/>
<path d="M274.2 250.28L274.94 250.28L275.68 250.27L276.42 250.27L277.17 250.26L277.91 250.26L278.65 250.25L279.39 250.25L280.13 250.24L280.87 250.23L281.62 250.22L282.36 250.21L283.1 250.2L283.84 250.19L284.58 250.18L285.32 250.16L286.06 250.15L286.81 250.13L287.55 250.11L288.29 250.08L289.03 250.06L289.77 250.03L290.51 250L291.25 249.97L292 249.93L292.74 249.89L293.48 249.84L294.22 249.79L294.96 249.74L295.7 249.68L296.44 249.61L297.19 249.54L297.93 249.47L298.67 249.38L299.41 249.29L300.15 249.2L300.89 249.09L301.64 248.98L302.38 248.85L303.12 248.72L303.86 248.58L304.6 248.43L305.34 248.26L306.08 248.09L306.83 247.9L307.57 247.7L308.31 247.48L309.05 247.25L309.79 247.01L310.53 246.75L311.27 246.48L312.02 246.19L312.76 245.89L313.5 245.56L314.24 245.22L314.98 244.87L315.72 244.49L316.47 244.1L317.21 243.68L317.95 243.25L318.69 242.8L319.43 242.33L320.17 241.84L320.91 241.33L321.66 240.8L322.4 240.26L323.14 239.7L323.88 239.11L324.62 238.51L325.36 237.9L326.11 237.26L326.85 236.62L327.59 235.95L328.33 235.28L329.07 234.59L329.81 233.88L330.55 233.17L331.3 232.45L332.04 231.72L332.78 230.99L333.52 230.25L334.26 229.51L335 228.77L335.74 228.03L336.49 227.29L337.23 226.55L337.97 225.82L338.71 225.11L339.45 224.4L340.19 223.7L340.94 223.02L341.68 222.35L342.42 221.71L343.16 221.08L343.9 220.48L344.64 219.9L345.38 219.35L346.13 218.83L346.87 218.34L347.61 217.88L348.35 217.45L349.09 217.06L349.83 216.7L350.57 216.39L351.32 216.11L352.06 215.87L352.8 215.67L353.54 215.52L354.28 215.4L355.02 215.33L355.76 215.3L356.51 215.31L357.25 215.37L357.99 215.47L358.73 215.61L359.47 215.79L360.21 216.02L360.96 216.28L361.7 216.58L362.44 216.93L363.18 217.3L363.92 217.72L364.66 218.17L365.4 218.65L366.15 219.16L366.89 219.7L367.63 220.27L368.37 220.86L369.11 221.48L369.85 222.12L370.59 222.77L371.34 223.45L372.08 224.14L372.82 224.85L373.56 225.56L374.3 226.29L375.04 227.02L375.79 227.76L376.53 228.5L377.27 229.24L378.01 229.98L378.75 230.72L379.49 231.46L380.23 232.19L380.98 232.91L381.72 233.63L382.46 234.33L383.2 235.03L383.94 235.71L384.68 236.38L385.42 237.03L386.17 237.67L386.91 238.29L387.65 238.9L388.39 239.49L389.13 240.06L389.87 240.61L390.62 241.14L391.36 241.66L392.1 242.15L392.84 242.63L393.58 243.09L394.32 243.53L395.06 243.95L395.81 244.35L396.55 244.73L397.29 245.1L398.03 245.44L398.77 245.77L399.51 246.08L400.25 246.38L401 246.66L401.74 246.92L402.48 247.17L403.22 247.4L403.96 247.62L404.7 247.83L405.45 248.02L406.19 248.2L406.93 248.37L407.67 248.53L408.41 248.67L409.15 248.81L409.89 248.93L410.64 249.05L411.38 249.16L412.12 249.26L412.86 249.35L413.6 249.44L414.34 249.52L415.09 249.59L415.83 249.66L416.57 249.72L417.31 249.77L418.05 249.82L418.79 249.87L419.53 249.91L420.28 249.95L421.02 249.99L421.76 250.02L422.5 250.05" fill="none" stroke="#9aaabb" stroke-width="0.6"/>
<path d="M274.2 212.3V250.3H422.5" fill="none" stroke="#888" stroke-width="0.7"/>
<rect x="429.7" y="255.7" width="36.6" height="141.3" fill="#fff" stroke="#a0a0a0" stroke-width="0.7"/>
<rect x="429.7" y="288.6" width="1.2" height="9.4" fill="#f6dcb8" stroke="#bfa27e" stroke-width="0.45"/>
<rect x="429.7" y="298.0" width="4.1" height="9.4" fill="#f6dcb8" stroke="#bfa27e" stroke-width="0.45"/>
<rect x="429.7" y="307.4" width="9" height="9.4" fill="#f6dcb8" stroke="#bfa27e" stroke-width="0.45"/>
<rect x="429.7" y="316.8" width="22.6" height="9.4" fill="#f6dcb8" stroke="#bfa27e" stroke-width="0.45"/>
<rect x="429.7" y="326.2" width="33.1" height="9.4" fill="#f6dcb8" stroke="#bfa27e" stroke-width="0.45"/>
<rect x="429.7" y="335.6" width="15.9" height="9.4" fill="#f6dcb8" stroke="#bfa27e" stroke-width="0.45"/>
<rect x="429.7" y="345.0" width="6.9" height="9.4" fill="#f6dcb8" stroke="#bfa27e" stroke-width="0.45"/>
<rect x="429.7" y="354.4" width="1.6" height="9.4" fill="#f6dcb8" stroke="#bfa27e" stroke-width="0.45"/>
<path d="M429.7 255.7L429.7 256.41L429.7 257.11L429.7 257.82L429.7 258.53L429.7 259.23L429.7 259.94L429.7 260.65L429.7 261.35L429.7 262.06L429.7 262.76L429.7 263.47L429.7 264.18L429.7 264.88L429.7 265.59L429.7 266.3L429.7 267L429.7 267.71L429.7 268.42L429.7 269.12L429.7 269.83L429.7 270.54L429.7 271.24L429.7 271.95L429.7 272.66L429.7 273.36L429.7 274.07L429.7 274.78L429.7 275.48L429.7 276.19L429.71 276.89L429.71 277.6L429.71 278.31L429.71 279.01L429.72 279.72L429.72 280.43L429.72 281.13L429.73 281.84L429.74 282.55L429.75 283.25L429.76 283.96L429.77 284.67L429.79 285.37L429.81 286.08L429.83 286.79L429.86 287.49L429.9 288.2L429.94 288.91L429.99 289.61L430.04 290.32L430.11 291.02L430.19 291.73L430.28 292.44L430.39 293.14L430.51 293.85L430.66 294.56L430.82 295.26L431.01 295.97L431.22 296.68L431.46 297.38L431.73 298.09L432.04 298.8L432.38 299.5L432.76 300.21L433.18 300.92L433.64 301.62L434.15 302.33L434.71 303.04L435.32 303.74L435.98 304.45L436.7 305.15L437.46 305.86L438.28 306.57L439.15 307.27L440.08 307.98L441.05 308.69L442.07 309.39L443.13 310.1L444.24 310.81L445.37 311.51L446.54 312.22L447.73 312.93L448.93 313.63L450.14 314.34L451.34 315.05L452.54 315.75L453.71 316.46L454.86 317.17L455.97 317.87L457.02 318.58L458.02 319.28L458.95 319.99L459.8 320.7L460.57 321.4L461.24 322.11L461.81 322.82L462.27 323.52L462.63 324.23L462.87 324.94L462.98 325.64L462.99 326.35L462.87 327.06L462.63 327.76L462.28 328.47L461.82 329.18L461.25 329.88L460.57 330.59L459.81 331.3L458.96 332L458.03 332.71L457.03 333.41L455.98 334.12L454.87 334.83L453.73 335.53L452.55 336.24L451.35 336.95L450.15 337.65L448.94 338.36L447.74 339.07L446.55 339.77L445.38 340.48L444.25 341.19L443.14 341.89L442.08 342.6L441.06 343.31L440.09 344.01L439.16 344.72L438.29 345.43L437.47 346.13L436.7 346.84L435.99 347.54L435.33 348.25L434.72 348.96L434.16 349.66L433.65 350.37L433.18 351.08L432.76 351.78L432.38 352.49L432.04 353.2L431.73 353.9L431.46 354.61L431.22 355.32L431.01 356.02L430.82 356.73L430.66 357.44L430.52 358.14L430.39 358.85L430.28 359.56L430.19 360.26L430.11 360.97L430.04 361.67L429.99 362.38L429.94 363.09L429.9 363.79L429.86 364.5L429.83 365.21L429.81 365.91L429.79 366.62L429.77 367.33L429.76 368.03L429.75 368.74L429.74 369.45L429.73 370.15L429.72 370.86L429.72 371.57L429.72 372.27L429.71 372.98L429.71 373.69L429.71 374.39L429.71 375.1L429.7 375.81L429.7 376.51L429.7 377.22L429.7 377.92L429.7 378.63L429.7 379.34L429.7 380.04L429.7 380.75L429.7 381.46L429.7 382.16L429.7 382.87L429.7 383.58L429.7 384.28L429.7 384.99L429.7 385.7L429.7 386.4L429.7 387.11L429.7 387.82L429.7 388.52L429.7 389.23L429.7 389.94L429.7 390.64L429.7 391.35L429.7 392.05L429.7 392.76L429.7 393.47L429.7 394.17L429.7 394.88L429.7 395.59L429.7 396.29L429.7 397" fill="none" stroke="#b09a86" stroke-width="0.6"/>
<path d="M429.7 255.7V397.0" fill="none" stroke="#888" stroke-width="0.7"/>
<path d="M273.0 256.3H422.5" stroke="#a8a8a8" stroke-width="1.1" fill="none"/>
<path d="M422.5 256.3V396.7" stroke="#777" stroke-width="0.9" fill="none"/>
<circle cx="317.55" cy="296.4" r="1.25" fill="#e8238c"/>
<circle cx="337.93" cy="303.89" r="1.25" fill="#e8238c"/>
<circle cx="323.88" cy="307.64" r="1.25" fill="#e8238c"/>
<circle cx="337.23" cy="308.58" r="1.25" fill="#e8238c"/>
<circle cx="339.34" cy="312.09" r="1.25" fill="#e8238c"/>
<circle cx="316.85" cy="313.97" r="1.25" fill="#e8238c"/>
<circle cx="307.95" cy="320.06" r="1.25" fill="#e8238c"/>
<circle cx="296.47" cy="326.15" r="1.25" fill="#e8238c"/>
<circle cx="330.2" cy="320.29" r="1.25" fill="#e8238c"/>
<circle cx="342.15" cy="324.98" r="1.25" fill="#e8238c"/>
<circle cx="337.93" cy="326.85" r="1.25" fill="#e8238c"/>
<circle cx="339.1" cy="332.94" r="1.25" fill="#e8238c"/>
<circle cx="343.09" cy="333.41" r="1.25" fill="#e8238c"/>
<circle cx="323.64" cy="336.92" r="1.25" fill="#e8238c"/>
<circle cx="305.61" cy="339.73" r="1.25" fill="#e8238c"/>
<circle cx="347.3" cy="354.02" r="1.25" fill="#e8238c"/>
<circle cx="315.91" cy="362.69" r="1.25" fill="#e8238c"/>
<circle cx="376.11" cy="351.91" r="1.25" fill="#e8238c"/>
<circle cx="364.64" cy="346.29" r="1.25" fill="#e8238c"/>
<circle cx="367.45" cy="343.72" r="1.25" fill="#e8238c"/>
<circle cx="370.26" cy="300.15" r="1.25" fill="#e8238c"/>
<circle cx="371.19" cy="301.55" r="1.25" fill="#e8238c"/>
<circle cx="369.32" cy="303.42" r="1.25" fill="#e8238c"/>
<circle cx="370.26" cy="306.94" r="1.25" fill="#e8238c"/>
<circle cx="356.44" cy="312.09" r="1.25" fill="#e8238c"/>
<circle cx="361.36" cy="312.79" r="1.25" fill="#e8238c"/>
<circle cx="364.4" cy="313.5" r="1.25" fill="#e8238c"/>
<circle cx="362.53" cy="316.31" r="1.25" fill="#e8238c"/>
<circle cx="368.38" cy="316.31" r="1.25" fill="#e8238c"/>
<circle cx="364.64" cy="318.65" r="1.25" fill="#e8238c"/>
<circle cx="366.04" cy="320.29" r="1.25" fill="#e8238c"/>
<circle cx="363.23" cy="319.82" r="1.25" fill="#e8238c"/>
<circle cx="360.42" cy="320.29" r="1.25" fill="#e8238c"/>
<circle cx="353.86" cy="320.76" r="1.25" fill="#e8238c"/>
<circle cx="351.99" cy="322.87" r="1.25" fill="#e8238c"/>
<circle cx="357.14" cy="323.57" r="1.25" fill="#e8238c"/>
<circle cx="359.01" cy="325.91" r="1.25" fill="#e8238c"/>
<circle cx="363.23" cy="326.38" r="1.25" fill="#e8238c"/>
<circle cx="366.04" cy="323.57" r="1.25" fill="#e8238c"/>
<circle cx="371.19" cy="323.57" r="1.25" fill="#e8238c"/>
<circle cx="372.37" cy="320.29" r="1.25" fill="#e8238c"/>
<circle cx="374.71" cy="318.65" r="1.25" fill="#e8238c"/>
<circle cx="381.97" cy="317.01" r="1.25" fill="#e8238c"/>
<circle cx="389.23" cy="320.99" r="1.25" fill="#e8238c"/>
<circle cx="377.05" cy="324.98" r="1.25" fill="#e8238c"/>
<circle cx="381.5" cy="328.02" r="1.25" fill="#e8238c"/>
<circle cx="373.3" cy="330.36" r="1.25" fill="#e8238c"/>
<circle cx="370.26" cy="332.71" r="1.25" fill="#e8238c"/>
<circle cx="368.38" cy="333.41" r="1.25" fill="#e8238c"/>
<circle cx="366.04" cy="330.6" r="1.25" fill="#e8238c"/>
<circle cx="362.53" cy="329.66" r="1.25" fill="#e8238c"/>
<circle cx="359.72" cy="331.53" r="1.25" fill="#e8238c"/>
<circle cx="355.03" cy="330.36" r="1.25" fill="#e8238c"/>
<circle cx="354.33" cy="329.19" r="1.25" fill="#e8238c"/>
<circle cx="360.42" cy="335.75" r="1.25" fill="#e8238c"/>
<circle cx="358.55" cy="335.75" r="1.25" fill="#e8238c"/>
<circle cx="361.82" cy="337.39" r="1.25" fill="#e8238c"/>
<circle cx="366.04" cy="336.69" r="1.25" fill="#e8238c"/>
<circle cx="368.38" cy="337.39" r="1.25" fill="#e8238c"/>
<circle cx="361.36" cy="333.88" r="1.25" fill="#e8238c"/>
<circle cx="355.5" cy="325.68" r="1.25" fill="#e8238c"/>
<circle cx="356.67" cy="324.51" r="1.25" fill="#e8238c"/>
<circle cx="367.21" cy="322.16" r="1.25" fill="#e8238c"/>
<circle cx="364.87" cy="315.14" r="1.25" fill="#e8238c"/>
<circle cx="360.89" cy="317.48" r="1.25" fill="#e8238c"/>
<circle cx="369.55" cy="320.29" r="1.25" fill="#e8238c"/>
<path d="M273.0 255.7V396.7H422.5" fill="none" stroke="#555" stroke-width="0.9"/>
<path d="M273.0 396.7h2" stroke="#555" stroke-width="0.7"/>
<path d="M273.0 384.95h1.3" stroke="#555" stroke-width="0.6"/>
<text x="270.8" y="400.2" font-size="9.6" text-anchor="end">5</text>
<path d="M273.0 373.2h2" stroke="#555" stroke-width="0.7"/>
<path d="M273.0 361.45h1.3" stroke="#555" stroke-width="0.6"/>
<text x="270.8" y="376.7" font-size="9.6" text-anchor="end">10</text>
<path d="M273.0 349.7h2" stroke="#555" stroke-width="0.7"/>
<path d="M273.0 337.95h1.3" stroke="#555" stroke-width="0.6"/>
<text x="270.8" y="353.2" font-size="9.6" text-anchor="end">15</text>
<path d="M273.0 326.2h2" stroke="#555" stroke-width="0.7"/>
<path d="M273.0 314.45h1.3" stroke="#555" stroke-width="0.6"/>
<text x="270.8" y="329.7" font-size="9.6" text-anchor="end">20</text>
<path d="M273.0 302.7h2" stroke="#555" stroke-width="0.7"/>
<path d="M273.0 290.95h1.3" stroke="#555" stroke-width="0.6"/>
<text x="270.8" y="306.2" font-size="9.6" text-anchor="end">25</text>
<path d="M273.0 279.2h2" stroke="#555" stroke-width="0.7"/>
<path d="M273.0 267.45h1.3" stroke="#555" stroke-width="0.6"/>
<text x="270.8" y="282.7" font-size="9.6" text-anchor="end">30</text>
<path d="M273.0 255.7h2" stroke="#555" stroke-width="0.7"/>
<text x="270.8" y="259.2" font-size="9.6" text-anchor="end">35</text>
<path d="M273 396.7v-2" stroke="#555" stroke-width="0.7"/>
<path d="M291.69 396.7v-1.3" stroke="#555" stroke-width="0.6"/>
<text x="273" y="407.6" font-size="9.6" text-anchor="middle">0</text>
<path d="M310.38 396.7v-2" stroke="#555" stroke-width="0.7"/>
<path d="M329.06 396.7v-1.3" stroke="#555" stroke-width="0.6"/>
<text x="310.38" y="407.6" font-size="9.6" text-anchor="middle">1</text>
<path d="M347.75 396.7v-2" stroke="#555" stroke-width="0.7"/>
<path d="M366.44 396.7v-1.3" stroke="#555" stroke-width="0.6"/>
<text x="347.75" y="407.6" font-size="9.6" text-anchor="middle">2</text>
<path d="M385.12 396.7v-2" stroke="#555" stroke-width="0.7"/>
<path d="M403.81 396.7v-1.3" stroke="#555" stroke-width="0.6"/>
<text x="385.12" y="407.6" font-size="9.6" text-anchor="middle">3</text>
<path d="M422.5 396.7v-2" stroke="#555" stroke-width="0.7"/>
<text x="422.5" y="407.6" font-size="9.6" text-anchor="middle">4</text>
<text x="319.6" y="423.2" font-size="10.5" letter-spacing="0.5"><tspan font-style="italic">μ</tspan> (cm<tspan font-size="7" dy="-3.8">2</tspan><tspan dy="3.8">/V·s)</tspan></text>
<text transform="translate(250.2 326.4) rotate(-90)" font-size="11.2" text-anchor="middle">SS (V/dec)</text>
<text x="481.8" y="216.2" font-size="17.5" font-weight="bold">f</text>
<defs><linearGradient id="gf" x1="0" y1="1" x2="1" y2="0"><stop offset="0" stop-color="#fdfaf8"/><stop offset="0.5" stop-color="#f8eee6"/><stop offset="1" stop-color="#f0dccd"/></linearGradient></defs>
<rect x="514.5" y="211.0" width="164.8" height="185.3" fill="url(#gf)"/>
<path d="M514.5 211.0V396.3M511.8 396.3H679.3" fill="none" stroke="#444" stroke-width="0.9"/>
<path d="M514.5 396.35h-2.6" stroke="#444" stroke-width="0.7"/>
<text x="509.2" y="400.55" font-size="9.8" text-anchor="end">10<tspan font-size="6.4" dy="-4.1">−10</tspan></text>
<path d="M514.5 364.2h-2.6" stroke="#444" stroke-width="0.7"/>
<text x="509.2" y="368.4" font-size="9.8" text-anchor="end">10<tspan font-size="6.4" dy="-4.1">−9</tspan></text>
<path d="M514.5 332.05h-2.6" stroke="#444" stroke-width="0.7"/>
<text x="509.2" y="336.25" font-size="9.8" text-anchor="end">10<tspan font-size="6.4" dy="-4.1">−8</tspan></text>
<path d="M514.5 299.9h-2.6" stroke="#444" stroke-width="0.7"/>
<text x="509.2" y="304.1" font-size="9.8" text-anchor="end">10<tspan font-size="6.4" dy="-4.1">−7</tspan></text>
<path d="M514.5 267.75h-2.6" stroke="#444" stroke-width="0.7"/>
<text x="509.2" y="271.95" font-size="9.8" text-anchor="end">10<tspan font-size="6.4" dy="-4.1">−6</tspan></text>
<path d="M514.5 235.6h-2.6" stroke="#444" stroke-width="0.7"/>
<text x="509.2" y="239.8" font-size="9.8" text-anchor="end">10<tspan font-size="6.4" dy="-4.1">−5</tspan></text>
<path d="M524.3 396.3v2.6" stroke="#444" stroke-width="0.7"/>
<text x="524.3" y="410.8" font-size="9.8" text-anchor="middle">10<tspan font-size="6.4" dy="-4.3">0</tspan></text>
<path d="M554.65 396.3v2.6" stroke="#444" stroke-width="0.7"/>
<text x="554.65" y="410.8" font-size="9.8" text-anchor="middle">10<tspan font-size="6.4" dy="-4.3">1</tspan></text>
<path d="M585 396.3v2.6" stroke="#444" stroke-width="0.7"/>
<text x="585" y="410.8" font-size="9.8" text-anchor="middle">10<tspan font-size="6.4" dy="-4.3">2</tspan></text>
<path d="M615.35 396.3v2.6" stroke="#444" stroke-width="0.7"/>
<text x="615.35" y="410.8" font-size="9.8" text-anchor="middle">10<tspan font-size="6.4" dy="-4.3">3</tspan></text>
<path d="M645.7 396.3v2.6" stroke="#444" stroke-width="0.7"/>
<text x="645.7" y="410.8" font-size="9.8" text-anchor="middle">10<tspan font-size="6.4" dy="-4.3">4</tspan></text>
<path d="M676.05 396.3v2.6" stroke="#444" stroke-width="0.7"/>
<text x="676.05" y="410.8" font-size="9.8" text-anchor="middle">10<tspan font-size="6.4" dy="-4.3">5</tspan></text>
<text x="597.8" y="424.8" font-size="9.7" text-anchor="middle">On/off ratio</text>
<text transform="translate(482.9 303) rotate(-90)" font-size="9.5" text-anchor="middle"><tspan font-style="italic">I</tspan><tspan font-size="6.5" dy="2.2">ds max</tspan><tspan dy="-2.2"> (A)</tspan></text>
<text x="557.6" y="219.8" font-size="6.8" text-anchor="end" fill="#222">Our work:</text>
<text x="559.3" y="219.8" font-size="6.8" fill="#222">Nb-doped wafer-scale ML, MOCVD</text>
<text x="557.6" y="227.9" font-size="6.8" text-anchor="end" fill="#222">Ref 1:</text>
<text x="559.3" y="227.9" font-size="6.8" fill="#222">Nb-doped ML, CVD</text>
<text x="557.6" y="236" font-size="6.8" text-anchor="end" fill="#222">Ref 2:</text>
<text x="559.3" y="236" font-size="6.8" fill="#222">TALH-doped FL, physisorption</text>
<text x="557.6" y="244.1" font-size="6.8" text-anchor="end" fill="#222">Ref 3:</text>
<text x="559.3" y="244.1" font-size="6.8" fill="#222">phosphorus-doped FL, plasma</text>
<text x="557.6" y="252.2" font-size="6.8" text-anchor="end" fill="#222">Ref 4:</text>
<text x="559.3" y="252.2" font-size="6.8" fill="#222">nitrogen-doped FL, plasma</text>
<text x="557.6" y="260.3" font-size="6.8" text-anchor="end" fill="#222">Ref 5:</text>
<text x="559.3" y="260.3" font-size="6.8" fill="#222">phosphorous pentoxide ML, CVD</text>
<defs><radialGradient id="s1" cx="0.38" cy="0.32" r="0.75"><stop offset="0" stop-color="#bfeee6"/><stop offset="0.35" stop-color="#3aa093"/><stop offset="1" stop-color="#1e6a62"/></radialGradient></defs>
<circle cx="525.8" cy="280.6" r="3.9" fill="url(#s1)"/>
<defs><radialGradient id="s4" cx="0.38" cy="0.32" r="0.75"><stop offset="0" stop-color="#ffc0c0"/><stop offset="0.35" stop-color="#f02828"/><stop offset="1" stop-color="#b01010"/></radialGradient></defs>
<circle cx="646.1" cy="268.8" r="3.9" fill="url(#s4)"/>
<defs><radialGradient id="s2" cx="0.38" cy="0.32" r="0.75"><stop offset="0" stop-color="#ffc2e6"/><stop offset="0.35" stop-color="#ee2c98"/><stop offset="1" stop-color="#b0106a"/></radialGradient></defs>
<circle cx="554.2" cy="373" r="3.9" fill="url(#s2)"/>
<defs><radialGradient id="s3" cx="0.38" cy="0.32" r="0.75"><stop offset="0" stop-color="#f4f4f4"/><stop offset="0.35" stop-color="#9a9a9a"/><stop offset="1" stop-color="#606060"/></radialGradient></defs>
<circle cx="585.2" cy="363.4" r="3.9" fill="url(#s3)"/>
<defs><radialGradient id="s5" cx="0.38" cy="0.32" r="0.75"><stop offset="0" stop-color="#e0c0ff"/><stop offset="0.35" stop-color="#8a2cf0"/><stop offset="1" stop-color="#5a10b0"/></radialGradient></defs>
<circle cx="615.6" cy="367" r="3.9" fill="url(#s5)"/>
<polygon points="644.5,310.9 646,315.14 650.49,315.25 646.93,317.99 648.2,322.3 644.5,319.75 640.8,322.3 642.07,317.99 638.51,315.25 643,315.14" fill="#f22424"/>
<text x="525.8" y="293" font-size="6.8" text-anchor="middle" fill="#222">Ref 1</text>
<text x="646.1" y="281.7" font-size="6.8" text-anchor="middle" fill="#222">Ref 4</text>
<text x="554.2" y="386.3" font-size="6.8" text-anchor="middle" fill="#222">Ref 2</text>
<text x="585.2" y="374.8" font-size="6.8" text-anchor="middle" fill="#222">Ref 3</text>
<text x="615.6" y="378" font-size="6.8" text-anchor="middle" fill="#222">Ref 5</text>
<text x="644.5" y="329.8" font-size="6.8" text-anchor="middle" fill="#222">Our work</text>
</svg>
</body></html>
